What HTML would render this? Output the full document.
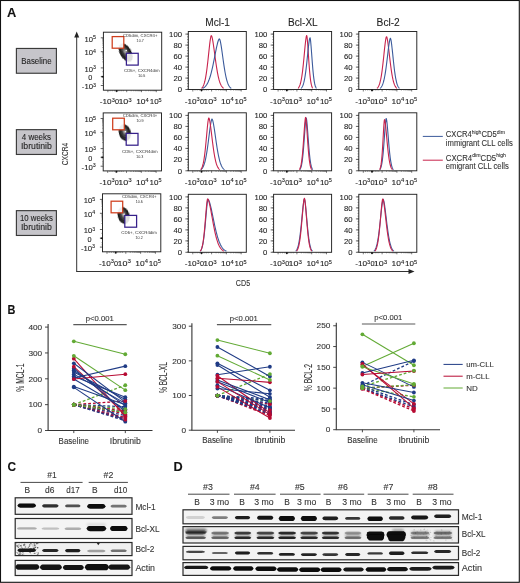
<!DOCTYPE html>
<html><head><meta charset="utf-8"><title>Figure</title>
<style>
html,body{margin:0;padding:0;background:#fff;}
body{width:520px;height:583px;overflow:hidden;}
svg{display:block;font-family:"Liberation Sans", sans-serif;filter:blur(0.3px);}
text{stroke:#333;stroke-width:0.1px;paint-order:stroke;}
</style></head><body>
<svg width="520" height="583" viewBox="0 0 520 583">
<rect x="0" y="0" width="520" height="583" fill="#fff"/>
<text x="7.00" y="16.70" font-size="12" text-anchor="start" fill="#111" font-weight="bold" textLength="9.3" lengthAdjust="spacingAndGlyphs" >A</text>
<rect x="16.4" y="48.45" width="40.0" height="24.8" fill="#c6c5ca" stroke="#3a3a3a" stroke-width="1.15"/>
<text x="36.40" y="63.50" font-size="8.2" text-anchor="middle" fill="#222" textLength="30.3" lengthAdjust="spacingAndGlyphs" >Baseline</text>
<rect x="16.4" y="129.65" width="40.0" height="24.8" fill="#c6c5ca" stroke="#3a3a3a" stroke-width="1.15"/>
<text x="36.40" y="139.50" font-size="8.2" text-anchor="middle" fill="#222" textLength="29.3" lengthAdjust="spacingAndGlyphs" >4 weeks</text>
<text x="36.40" y="148.70" font-size="8.2" text-anchor="middle" fill="#222" textLength="31.0" lengthAdjust="spacingAndGlyphs" >Ibrutinib</text>
<rect x="16.4" y="210.65" width="40.0" height="24.8" fill="#c6c5ca" stroke="#3a3a3a" stroke-width="1.15"/>
<text x="36.40" y="220.50" font-size="8.2" text-anchor="middle" fill="#222" textLength="33.0" lengthAdjust="spacingAndGlyphs" >10 weeks</text>
<text x="36.40" y="229.70" font-size="8.2" text-anchor="middle" fill="#222" textLength="31.0" lengthAdjust="spacingAndGlyphs" >Ibrutinib</text>
<line x1="76.7" y1="35" x2="76.7" y2="271.5" stroke="#333" stroke-width="1"/>
<path d="M76.7 31.5 L74.2 37.5 L79.2 37.5 Z" fill="#222"/>
<line x1="76.2" y1="271.5" x2="410" y2="271.5" stroke="#333" stroke-width="1"/>
<path d="M414.5 271.5 L408.5 269 L408.5 274 Z" fill="#222"/>
<text x="0" y="0" font-size="9.4" fill="#333" text-anchor="middle" transform="translate(67.9 154.0) rotate(-90)" textLength="22.3" lengthAdjust="spacingAndGlyphs">CXCR4</text>
<text x="243.00" y="286.00" font-size="9.6" text-anchor="middle" fill="#333" textLength="14.3" lengthAdjust="spacingAndGlyphs" >CD5</text>
<text x="217.60" y="26.00" font-size="10.0" text-anchor="middle" fill="#222" textLength="24.6" lengthAdjust="spacingAndGlyphs" >Mcl-1</text>
<text x="302.90" y="26.00" font-size="10.0" text-anchor="middle" fill="#222" textLength="29.6" lengthAdjust="spacingAndGlyphs" >Bcl-XL</text>
<text x="388.20" y="26.00" font-size="10.0" text-anchor="middle" fill="#222" textLength="23.2" lengthAdjust="spacingAndGlyphs" >Bcl-2</text>
<rect x="188.30" y="31.50" width="58.0" height="58.0" fill="#fff" stroke="#222" stroke-width="0.95"/>
<text x="182.00" y="36.80" font-size="7.5" text-anchor="end" fill="#222" textLength="12.899999999999999" lengthAdjust="spacingAndGlyphs" >100</text>
<line x1="185.40" y1="34.10" x2="188.30" y2="34.10" stroke="#222" stroke-width="0.7"/>
<text x="182.00" y="47.80" font-size="7.5" text-anchor="end" fill="#222" textLength="8.6" lengthAdjust="spacingAndGlyphs" >80</text>
<line x1="185.40" y1="45.10" x2="188.30" y2="45.10" stroke="#222" stroke-width="0.7"/>
<text x="182.00" y="58.80" font-size="7.5" text-anchor="end" fill="#222" textLength="8.6" lengthAdjust="spacingAndGlyphs" >60</text>
<line x1="185.40" y1="56.10" x2="188.30" y2="56.10" stroke="#222" stroke-width="0.7"/>
<text x="182.00" y="69.80" font-size="7.5" text-anchor="end" fill="#222" textLength="8.6" lengthAdjust="spacingAndGlyphs" >40</text>
<line x1="185.40" y1="67.10" x2="188.30" y2="67.10" stroke="#222" stroke-width="0.7"/>
<text x="182.00" y="80.80" font-size="7.5" text-anchor="end" fill="#222" textLength="8.6" lengthAdjust="spacingAndGlyphs" >20</text>
<line x1="185.40" y1="78.10" x2="188.30" y2="78.10" stroke="#222" stroke-width="0.7"/>
<text x="182.00" y="92.20" font-size="7.5" text-anchor="end" fill="#222" textLength="4.3" lengthAdjust="spacingAndGlyphs" >0</text>
<line x1="185.40" y1="89.50" x2="188.30" y2="89.50" stroke="#222" stroke-width="0.7"/>
<line x1="187.00" y1="34.10" x2="188.30" y2="34.10" stroke="#333" stroke-width="0.5"/>
<line x1="187.00" y1="36.85" x2="188.30" y2="36.85" stroke="#333" stroke-width="0.5"/>
<line x1="187.00" y1="39.60" x2="188.30" y2="39.60" stroke="#333" stroke-width="0.5"/>
<line x1="187.00" y1="42.35" x2="188.30" y2="42.35" stroke="#333" stroke-width="0.5"/>
<line x1="187.00" y1="45.10" x2="188.30" y2="45.10" stroke="#333" stroke-width="0.5"/>
<line x1="187.00" y1="47.85" x2="188.30" y2="47.85" stroke="#333" stroke-width="0.5"/>
<line x1="187.00" y1="50.60" x2="188.30" y2="50.60" stroke="#333" stroke-width="0.5"/>
<line x1="187.00" y1="53.35" x2="188.30" y2="53.35" stroke="#333" stroke-width="0.5"/>
<line x1="187.00" y1="56.10" x2="188.30" y2="56.10" stroke="#333" stroke-width="0.5"/>
<line x1="187.00" y1="58.85" x2="188.30" y2="58.85" stroke="#333" stroke-width="0.5"/>
<line x1="187.00" y1="61.60" x2="188.30" y2="61.60" stroke="#333" stroke-width="0.5"/>
<line x1="187.00" y1="64.35" x2="188.30" y2="64.35" stroke="#333" stroke-width="0.5"/>
<line x1="187.00" y1="67.10" x2="188.30" y2="67.10" stroke="#333" stroke-width="0.5"/>
<line x1="187.00" y1="69.85" x2="188.30" y2="69.85" stroke="#333" stroke-width="0.5"/>
<line x1="187.00" y1="72.60" x2="188.30" y2="72.60" stroke="#333" stroke-width="0.5"/>
<line x1="187.00" y1="75.35" x2="188.30" y2="75.35" stroke="#333" stroke-width="0.5"/>
<line x1="187.00" y1="78.10" x2="188.30" y2="78.10" stroke="#333" stroke-width="0.5"/>
<line x1="187.00" y1="80.85" x2="188.30" y2="80.85" stroke="#333" stroke-width="0.5"/>
<line x1="187.00" y1="83.60" x2="188.30" y2="83.60" stroke="#333" stroke-width="0.5"/>
<line x1="187.00" y1="86.35" x2="188.30" y2="86.35" stroke="#333" stroke-width="0.5"/>
<line x1="187.00" y1="89.10" x2="188.30" y2="89.10" stroke="#333" stroke-width="0.5"/>
<line x1="192.80" y1="89.50" x2="192.80" y2="91.50" stroke="#222" stroke-width="0.6"/>
<line x1="201.50" y1="89.50" x2="201.50" y2="91.50" stroke="#222" stroke-width="0.6"/>
<line x1="211.60" y1="89.50" x2="211.60" y2="91.50" stroke="#222" stroke-width="0.6"/>
<line x1="226.40" y1="89.50" x2="226.40" y2="91.50" stroke="#222" stroke-width="0.6"/>
<line x1="241.20" y1="89.50" x2="241.20" y2="91.50" stroke="#222" stroke-width="0.6"/>
<line x1="216.06" y1="89.50" x2="216.06" y2="90.60" stroke="#333" stroke-width="0.45"/>
<line x1="230.86" y1="89.50" x2="230.86" y2="90.60" stroke="#333" stroke-width="0.45"/>
<line x1="218.66" y1="89.50" x2="218.66" y2="90.60" stroke="#333" stroke-width="0.45"/>
<line x1="233.46" y1="89.50" x2="233.46" y2="90.60" stroke="#333" stroke-width="0.45"/>
<line x1="220.51" y1="89.50" x2="220.51" y2="90.60" stroke="#333" stroke-width="0.45"/>
<line x1="235.31" y1="89.50" x2="235.31" y2="90.60" stroke="#333" stroke-width="0.45"/>
<line x1="221.94" y1="89.50" x2="221.94" y2="90.60" stroke="#333" stroke-width="0.45"/>
<line x1="236.74" y1="89.50" x2="236.74" y2="90.60" stroke="#333" stroke-width="0.45"/>
<line x1="223.12" y1="89.50" x2="223.12" y2="90.60" stroke="#333" stroke-width="0.45"/>
<line x1="237.92" y1="89.50" x2="237.92" y2="90.60" stroke="#333" stroke-width="0.45"/>
<line x1="224.11" y1="89.50" x2="224.11" y2="90.60" stroke="#333" stroke-width="0.45"/>
<line x1="238.91" y1="89.50" x2="238.91" y2="90.60" stroke="#333" stroke-width="0.45"/>
<line x1="224.97" y1="89.50" x2="224.97" y2="90.60" stroke="#333" stroke-width="0.45"/>
<line x1="239.77" y1="89.50" x2="239.77" y2="90.60" stroke="#333" stroke-width="0.45"/>
<line x1="225.72" y1="89.50" x2="225.72" y2="90.60" stroke="#333" stroke-width="0.45"/>
<line x1="240.52" y1="89.50" x2="240.52" y2="90.60" stroke="#333" stroke-width="0.45"/>
<line x1="195.00" y1="89.50" x2="195.00" y2="90.60" stroke="#333" stroke-width="0.45"/>
<line x1="197.20" y1="89.50" x2="197.20" y2="90.60" stroke="#333" stroke-width="0.45"/>
<line x1="199.40" y1="89.50" x2="199.40" y2="90.60" stroke="#333" stroke-width="0.45"/>
<line x1="203.10" y1="89.50" x2="203.10" y2="90.60" stroke="#333" stroke-width="0.45"/>
<line x1="204.80" y1="89.50" x2="204.80" y2="90.60" stroke="#333" stroke-width="0.45"/>
<line x1="206.50" y1="89.50" x2="206.50" y2="90.60" stroke="#333" stroke-width="0.45"/>
<line x1="208.30" y1="89.50" x2="208.30" y2="90.60" stroke="#333" stroke-width="0.45"/>
<rect x="200.60" y="89.50" width="1.8" height="1.6" fill="#111"/>
<text x="184.70" y="103.60" font-size="7.3" fill="#222" textLength="15.0" lengthAdjust="spacingAndGlyphs">-10<tspan font-size="5.0" dy="-2.6">3</tspan></text>
<text x="199.90" y="103.60" font-size="7.3" fill="#222">0</text>
<text x="203.30" y="103.60" font-size="7.3" fill="#222" textLength="13.4" lengthAdjust="spacingAndGlyphs">10<tspan font-size="5.0" dy="-2.6">3</tspan></text>
<text x="221.10" y="103.60" font-size="7.3" fill="#222" textLength="12.6" lengthAdjust="spacingAndGlyphs">10<tspan font-size="5.0" dy="-2.6">4</tspan></text>
<text x="234.60" y="103.60" font-size="7.3" fill="#222" textLength="12.0" lengthAdjust="spacingAndGlyphs">10<tspan font-size="5.0" dy="-2.6">5</tspan></text>
<path d="M201.50 88.30 L201.87 87.97 L202.24 87.57 L202.61 87.07 L202.98 86.47 L203.35 85.75 L203.72 84.88 L204.09 83.86 L204.46 82.65 L204.83 81.25 L205.20 79.63 L205.57 77.79 L205.94 75.70 L206.31 73.37 L206.68 70.79 L207.05 67.97 L207.42 64.94 L207.79 61.71 L208.16 58.34 L208.53 54.87 L208.90 51.38 L209.27 47.94 L209.64 44.67 L210.01 41.66 L210.38 39.06 L210.75 37.02 L211.12 35.73 L211.49 35.67 L211.86 36.55 L212.23 37.96 L212.60 39.77 L212.97 41.89 L213.34 44.26 L213.71 46.81 L214.08 49.48 L214.45 52.22 L214.82 54.98 L215.19 57.73 L215.56 60.42 L215.93 63.03 L216.30 65.54 L216.67 67.93 L217.04 70.17 L217.41 72.28 L217.78 74.22 L218.15 76.02 L218.52 77.66 L218.89 79.15 L219.26 80.50 L219.63 81.70 L220.00 82.78 L220.37 83.73 L220.74 84.57 L221.11 85.31 L221.48 85.95 L221.85 86.50 L222.22 86.98 L222.59 87.40 L222.96 87.75 L223.33 88.05 L223.70 88.30" fill="none" stroke="#c8234c" stroke-width="1.1" stroke-linejoin="round"/>
<path d="M202.50 88.37 L202.98 88.15 L203.46 87.88 L203.94 87.58 L204.42 87.22 L204.90 86.80 L205.38 86.32 L205.86 85.78 L206.34 85.15 L206.82 84.44 L207.30 83.63 L207.78 82.73 L208.26 81.72 L208.74 80.59 L209.22 79.34 L209.70 77.97 L210.18 76.47 L210.66 74.84 L211.14 73.07 L211.62 71.18 L212.10 69.17 L212.58 67.03 L213.06 64.80 L213.54 62.47 L214.02 60.07 L214.50 57.62 L214.98 55.15 L215.46 52.70 L215.94 50.29 L216.42 47.96 L216.90 45.77 L217.38 43.76 L217.86 41.99 L218.34 40.52 L218.82 39.43 L219.30 38.84 L219.78 39.36 L220.26 40.98 L220.74 43.31 L221.22 46.15 L221.70 49.34 L222.18 52.74 L222.66 56.23 L223.14 59.72 L223.62 63.12 L224.10 66.37 L224.58 69.41 L225.06 72.22 L225.54 74.77 L226.02 77.05 L226.50 79.08 L226.98 80.85 L227.46 82.38 L227.94 83.68 L228.42 84.79 L228.90 85.72 L229.38 86.48 L229.86 87.11 L230.34 87.63 L230.82 88.04 L231.30 88.37" fill="none" stroke="#3b5a9b" stroke-width="1.1" stroke-linejoin="round"/>
<rect x="273.60" y="31.50" width="58.0" height="58.0" fill="#fff" stroke="#222" stroke-width="0.95"/>
<text x="267.30" y="36.80" font-size="7.5" text-anchor="end" fill="#222" textLength="12.899999999999999" lengthAdjust="spacingAndGlyphs" >100</text>
<line x1="270.70" y1="34.10" x2="273.60" y2="34.10" stroke="#222" stroke-width="0.7"/>
<text x="267.30" y="47.80" font-size="7.5" text-anchor="end" fill="#222" textLength="8.6" lengthAdjust="spacingAndGlyphs" >80</text>
<line x1="270.70" y1="45.10" x2="273.60" y2="45.10" stroke="#222" stroke-width="0.7"/>
<text x="267.30" y="58.80" font-size="7.5" text-anchor="end" fill="#222" textLength="8.6" lengthAdjust="spacingAndGlyphs" >60</text>
<line x1="270.70" y1="56.10" x2="273.60" y2="56.10" stroke="#222" stroke-width="0.7"/>
<text x="267.30" y="69.80" font-size="7.5" text-anchor="end" fill="#222" textLength="8.6" lengthAdjust="spacingAndGlyphs" >40</text>
<line x1="270.70" y1="67.10" x2="273.60" y2="67.10" stroke="#222" stroke-width="0.7"/>
<text x="267.30" y="80.80" font-size="7.5" text-anchor="end" fill="#222" textLength="8.6" lengthAdjust="spacingAndGlyphs" >20</text>
<line x1="270.70" y1="78.10" x2="273.60" y2="78.10" stroke="#222" stroke-width="0.7"/>
<text x="267.30" y="92.20" font-size="7.5" text-anchor="end" fill="#222" textLength="4.3" lengthAdjust="spacingAndGlyphs" >0</text>
<line x1="270.70" y1="89.50" x2="273.60" y2="89.50" stroke="#222" stroke-width="0.7"/>
<line x1="272.30" y1="34.10" x2="273.60" y2="34.10" stroke="#333" stroke-width="0.5"/>
<line x1="272.30" y1="36.85" x2="273.60" y2="36.85" stroke="#333" stroke-width="0.5"/>
<line x1="272.30" y1="39.60" x2="273.60" y2="39.60" stroke="#333" stroke-width="0.5"/>
<line x1="272.30" y1="42.35" x2="273.60" y2="42.35" stroke="#333" stroke-width="0.5"/>
<line x1="272.30" y1="45.10" x2="273.60" y2="45.10" stroke="#333" stroke-width="0.5"/>
<line x1="272.30" y1="47.85" x2="273.60" y2="47.85" stroke="#333" stroke-width="0.5"/>
<line x1="272.30" y1="50.60" x2="273.60" y2="50.60" stroke="#333" stroke-width="0.5"/>
<line x1="272.30" y1="53.35" x2="273.60" y2="53.35" stroke="#333" stroke-width="0.5"/>
<line x1="272.30" y1="56.10" x2="273.60" y2="56.10" stroke="#333" stroke-width="0.5"/>
<line x1="272.30" y1="58.85" x2="273.60" y2="58.85" stroke="#333" stroke-width="0.5"/>
<line x1="272.30" y1="61.60" x2="273.60" y2="61.60" stroke="#333" stroke-width="0.5"/>
<line x1="272.30" y1="64.35" x2="273.60" y2="64.35" stroke="#333" stroke-width="0.5"/>
<line x1="272.30" y1="67.10" x2="273.60" y2="67.10" stroke="#333" stroke-width="0.5"/>
<line x1="272.30" y1="69.85" x2="273.60" y2="69.85" stroke="#333" stroke-width="0.5"/>
<line x1="272.30" y1="72.60" x2="273.60" y2="72.60" stroke="#333" stroke-width="0.5"/>
<line x1="272.30" y1="75.35" x2="273.60" y2="75.35" stroke="#333" stroke-width="0.5"/>
<line x1="272.30" y1="78.10" x2="273.60" y2="78.10" stroke="#333" stroke-width="0.5"/>
<line x1="272.30" y1="80.85" x2="273.60" y2="80.85" stroke="#333" stroke-width="0.5"/>
<line x1="272.30" y1="83.60" x2="273.60" y2="83.60" stroke="#333" stroke-width="0.5"/>
<line x1="272.30" y1="86.35" x2="273.60" y2="86.35" stroke="#333" stroke-width="0.5"/>
<line x1="272.30" y1="89.10" x2="273.60" y2="89.10" stroke="#333" stroke-width="0.5"/>
<line x1="278.10" y1="89.50" x2="278.10" y2="91.50" stroke="#222" stroke-width="0.6"/>
<line x1="286.80" y1="89.50" x2="286.80" y2="91.50" stroke="#222" stroke-width="0.6"/>
<line x1="296.90" y1="89.50" x2="296.90" y2="91.50" stroke="#222" stroke-width="0.6"/>
<line x1="311.70" y1="89.50" x2="311.70" y2="91.50" stroke="#222" stroke-width="0.6"/>
<line x1="326.50" y1="89.50" x2="326.50" y2="91.50" stroke="#222" stroke-width="0.6"/>
<line x1="301.36" y1="89.50" x2="301.36" y2="90.60" stroke="#333" stroke-width="0.45"/>
<line x1="316.16" y1="89.50" x2="316.16" y2="90.60" stroke="#333" stroke-width="0.45"/>
<line x1="303.96" y1="89.50" x2="303.96" y2="90.60" stroke="#333" stroke-width="0.45"/>
<line x1="318.76" y1="89.50" x2="318.76" y2="90.60" stroke="#333" stroke-width="0.45"/>
<line x1="305.81" y1="89.50" x2="305.81" y2="90.60" stroke="#333" stroke-width="0.45"/>
<line x1="320.61" y1="89.50" x2="320.61" y2="90.60" stroke="#333" stroke-width="0.45"/>
<line x1="307.24" y1="89.50" x2="307.24" y2="90.60" stroke="#333" stroke-width="0.45"/>
<line x1="322.04" y1="89.50" x2="322.04" y2="90.60" stroke="#333" stroke-width="0.45"/>
<line x1="308.42" y1="89.50" x2="308.42" y2="90.60" stroke="#333" stroke-width="0.45"/>
<line x1="323.22" y1="89.50" x2="323.22" y2="90.60" stroke="#333" stroke-width="0.45"/>
<line x1="309.41" y1="89.50" x2="309.41" y2="90.60" stroke="#333" stroke-width="0.45"/>
<line x1="324.21" y1="89.50" x2="324.21" y2="90.60" stroke="#333" stroke-width="0.45"/>
<line x1="310.27" y1="89.50" x2="310.27" y2="90.60" stroke="#333" stroke-width="0.45"/>
<line x1="325.07" y1="89.50" x2="325.07" y2="90.60" stroke="#333" stroke-width="0.45"/>
<line x1="311.02" y1="89.50" x2="311.02" y2="90.60" stroke="#333" stroke-width="0.45"/>
<line x1="325.82" y1="89.50" x2="325.82" y2="90.60" stroke="#333" stroke-width="0.45"/>
<line x1="280.30" y1="89.50" x2="280.30" y2="90.60" stroke="#333" stroke-width="0.45"/>
<line x1="282.50" y1="89.50" x2="282.50" y2="90.60" stroke="#333" stroke-width="0.45"/>
<line x1="284.70" y1="89.50" x2="284.70" y2="90.60" stroke="#333" stroke-width="0.45"/>
<line x1="288.40" y1="89.50" x2="288.40" y2="90.60" stroke="#333" stroke-width="0.45"/>
<line x1="290.10" y1="89.50" x2="290.10" y2="90.60" stroke="#333" stroke-width="0.45"/>
<line x1="291.80" y1="89.50" x2="291.80" y2="90.60" stroke="#333" stroke-width="0.45"/>
<line x1="293.60" y1="89.50" x2="293.60" y2="90.60" stroke="#333" stroke-width="0.45"/>
<rect x="285.90" y="89.50" width="1.8" height="1.6" fill="#111"/>
<text x="270.00" y="103.60" font-size="7.3" fill="#222" textLength="15.0" lengthAdjust="spacingAndGlyphs">-10<tspan font-size="5.0" dy="-2.6">3</tspan></text>
<text x="285.20" y="103.60" font-size="7.3" fill="#222">0</text>
<text x="288.60" y="103.60" font-size="7.3" fill="#222" textLength="13.4" lengthAdjust="spacingAndGlyphs">10<tspan font-size="5.0" dy="-2.6">3</tspan></text>
<text x="306.40" y="103.60" font-size="7.3" fill="#222" textLength="12.6" lengthAdjust="spacingAndGlyphs">10<tspan font-size="5.0" dy="-2.6">4</tspan></text>
<text x="319.90" y="103.60" font-size="7.3" fill="#222" textLength="12.0" lengthAdjust="spacingAndGlyphs">10<tspan font-size="5.0" dy="-2.6">5</tspan></text>
<path d="M298.00 88.30 L298.25 88.06 L298.49 87.78 L298.74 87.45 L298.99 87.07 L299.23 86.63 L299.48 86.12 L299.73 85.54 L299.97 84.88 L300.22 84.12 L300.47 83.27 L300.71 82.31 L300.96 81.23 L301.21 80.04 L301.45 78.72 L301.70 77.26 L301.95 75.67 L302.19 73.94 L302.44 72.06 L302.69 70.06 L302.93 67.92 L303.18 65.65 L303.43 63.28 L303.67 60.81 L303.92 58.26 L304.17 55.66 L304.41 53.03 L304.66 50.42 L304.91 47.85 L305.15 45.38 L305.40 43.04 L305.65 40.89 L305.89 38.99 L306.14 37.41 L306.39 36.22 L306.63 35.55 L306.88 36.01 L307.13 37.69 L307.37 40.14 L307.62 43.15 L307.87 46.54 L308.11 50.16 L308.36 53.89 L308.61 57.62 L308.85 61.26 L309.10 64.73 L309.35 67.99 L309.59 71.00 L309.84 73.73 L310.09 76.18 L310.33 78.35 L310.58 80.24 L310.83 81.88 L311.07 83.28 L311.32 84.47 L311.57 85.46 L311.81 86.28 L312.06 86.95 L312.31 87.50 L312.55 87.95 L312.80 88.30" fill="none" stroke="#c8234c" stroke-width="1.1" stroke-linejoin="round"/>
<path d="M301.00 88.35 L301.26 88.12 L301.52 87.84 L301.77 87.52 L302.03 87.15 L302.29 86.72 L302.55 86.22 L302.81 85.65 L303.07 85.00 L303.32 84.25 L303.58 83.41 L303.84 82.47 L304.10 81.41 L304.36 80.23 L304.62 78.92 L304.88 77.49 L305.13 75.91 L305.39 74.20 L305.65 72.36 L305.91 70.38 L306.17 68.27 L306.43 66.04 L306.68 63.71 L306.94 61.29 L307.20 58.80 L307.46 56.26 L307.72 53.71 L307.98 51.18 L308.23 48.72 L308.49 46.35 L308.75 44.14 L309.01 42.14 L309.27 40.41 L309.52 39.02 L309.78 38.05 L310.04 37.74 L310.30 38.75 L310.56 40.66 L310.82 43.19 L311.07 46.18 L311.33 49.47 L311.59 52.93 L311.85 56.46 L312.11 59.95 L312.37 63.34 L312.62 66.57 L312.88 69.58 L313.14 72.36 L313.40 74.88 L313.66 77.14 L313.92 79.13 L314.18 80.88 L314.43 82.39 L314.69 83.68 L314.95 84.78 L315.21 85.70 L315.47 86.46 L315.73 87.09 L315.98 87.60 L316.24 88.02 L316.50 88.35" fill="none" stroke="#3b5a9b" stroke-width="1.1" stroke-linejoin="round"/>
<rect x="358.80" y="31.50" width="58.0" height="58.0" fill="#fff" stroke="#222" stroke-width="0.95"/>
<text x="352.50" y="36.80" font-size="7.5" text-anchor="end" fill="#222" textLength="12.899999999999999" lengthAdjust="spacingAndGlyphs" >100</text>
<line x1="355.90" y1="34.10" x2="358.80" y2="34.10" stroke="#222" stroke-width="0.7"/>
<text x="352.50" y="47.80" font-size="7.5" text-anchor="end" fill="#222" textLength="8.6" lengthAdjust="spacingAndGlyphs" >80</text>
<line x1="355.90" y1="45.10" x2="358.80" y2="45.10" stroke="#222" stroke-width="0.7"/>
<text x="352.50" y="58.80" font-size="7.5" text-anchor="end" fill="#222" textLength="8.6" lengthAdjust="spacingAndGlyphs" >60</text>
<line x1="355.90" y1="56.10" x2="358.80" y2="56.10" stroke="#222" stroke-width="0.7"/>
<text x="352.50" y="69.80" font-size="7.5" text-anchor="end" fill="#222" textLength="8.6" lengthAdjust="spacingAndGlyphs" >40</text>
<line x1="355.90" y1="67.10" x2="358.80" y2="67.10" stroke="#222" stroke-width="0.7"/>
<text x="352.50" y="80.80" font-size="7.5" text-anchor="end" fill="#222" textLength="8.6" lengthAdjust="spacingAndGlyphs" >20</text>
<line x1="355.90" y1="78.10" x2="358.80" y2="78.10" stroke="#222" stroke-width="0.7"/>
<text x="352.50" y="92.20" font-size="7.5" text-anchor="end" fill="#222" textLength="4.3" lengthAdjust="spacingAndGlyphs" >0</text>
<line x1="355.90" y1="89.50" x2="358.80" y2="89.50" stroke="#222" stroke-width="0.7"/>
<line x1="357.50" y1="34.10" x2="358.80" y2="34.10" stroke="#333" stroke-width="0.5"/>
<line x1="357.50" y1="36.85" x2="358.80" y2="36.85" stroke="#333" stroke-width="0.5"/>
<line x1="357.50" y1="39.60" x2="358.80" y2="39.60" stroke="#333" stroke-width="0.5"/>
<line x1="357.50" y1="42.35" x2="358.80" y2="42.35" stroke="#333" stroke-width="0.5"/>
<line x1="357.50" y1="45.10" x2="358.80" y2="45.10" stroke="#333" stroke-width="0.5"/>
<line x1="357.50" y1="47.85" x2="358.80" y2="47.85" stroke="#333" stroke-width="0.5"/>
<line x1="357.50" y1="50.60" x2="358.80" y2="50.60" stroke="#333" stroke-width="0.5"/>
<line x1="357.50" y1="53.35" x2="358.80" y2="53.35" stroke="#333" stroke-width="0.5"/>
<line x1="357.50" y1="56.10" x2="358.80" y2="56.10" stroke="#333" stroke-width="0.5"/>
<line x1="357.50" y1="58.85" x2="358.80" y2="58.85" stroke="#333" stroke-width="0.5"/>
<line x1="357.50" y1="61.60" x2="358.80" y2="61.60" stroke="#333" stroke-width="0.5"/>
<line x1="357.50" y1="64.35" x2="358.80" y2="64.35" stroke="#333" stroke-width="0.5"/>
<line x1="357.50" y1="67.10" x2="358.80" y2="67.10" stroke="#333" stroke-width="0.5"/>
<line x1="357.50" y1="69.85" x2="358.80" y2="69.85" stroke="#333" stroke-width="0.5"/>
<line x1="357.50" y1="72.60" x2="358.80" y2="72.60" stroke="#333" stroke-width="0.5"/>
<line x1="357.50" y1="75.35" x2="358.80" y2="75.35" stroke="#333" stroke-width="0.5"/>
<line x1="357.50" y1="78.10" x2="358.80" y2="78.10" stroke="#333" stroke-width="0.5"/>
<line x1="357.50" y1="80.85" x2="358.80" y2="80.85" stroke="#333" stroke-width="0.5"/>
<line x1="357.50" y1="83.60" x2="358.80" y2="83.60" stroke="#333" stroke-width="0.5"/>
<line x1="357.50" y1="86.35" x2="358.80" y2="86.35" stroke="#333" stroke-width="0.5"/>
<line x1="357.50" y1="89.10" x2="358.80" y2="89.10" stroke="#333" stroke-width="0.5"/>
<line x1="363.30" y1="89.50" x2="363.30" y2="91.50" stroke="#222" stroke-width="0.6"/>
<line x1="372.00" y1="89.50" x2="372.00" y2="91.50" stroke="#222" stroke-width="0.6"/>
<line x1="382.10" y1="89.50" x2="382.10" y2="91.50" stroke="#222" stroke-width="0.6"/>
<line x1="396.90" y1="89.50" x2="396.90" y2="91.50" stroke="#222" stroke-width="0.6"/>
<line x1="411.70" y1="89.50" x2="411.70" y2="91.50" stroke="#222" stroke-width="0.6"/>
<line x1="386.56" y1="89.50" x2="386.56" y2="90.60" stroke="#333" stroke-width="0.45"/>
<line x1="401.36" y1="89.50" x2="401.36" y2="90.60" stroke="#333" stroke-width="0.45"/>
<line x1="389.16" y1="89.50" x2="389.16" y2="90.60" stroke="#333" stroke-width="0.45"/>
<line x1="403.96" y1="89.50" x2="403.96" y2="90.60" stroke="#333" stroke-width="0.45"/>
<line x1="391.01" y1="89.50" x2="391.01" y2="90.60" stroke="#333" stroke-width="0.45"/>
<line x1="405.81" y1="89.50" x2="405.81" y2="90.60" stroke="#333" stroke-width="0.45"/>
<line x1="392.44" y1="89.50" x2="392.44" y2="90.60" stroke="#333" stroke-width="0.45"/>
<line x1="407.24" y1="89.50" x2="407.24" y2="90.60" stroke="#333" stroke-width="0.45"/>
<line x1="393.62" y1="89.50" x2="393.62" y2="90.60" stroke="#333" stroke-width="0.45"/>
<line x1="408.42" y1="89.50" x2="408.42" y2="90.60" stroke="#333" stroke-width="0.45"/>
<line x1="394.61" y1="89.50" x2="394.61" y2="90.60" stroke="#333" stroke-width="0.45"/>
<line x1="409.41" y1="89.50" x2="409.41" y2="90.60" stroke="#333" stroke-width="0.45"/>
<line x1="395.47" y1="89.50" x2="395.47" y2="90.60" stroke="#333" stroke-width="0.45"/>
<line x1="410.27" y1="89.50" x2="410.27" y2="90.60" stroke="#333" stroke-width="0.45"/>
<line x1="396.22" y1="89.50" x2="396.22" y2="90.60" stroke="#333" stroke-width="0.45"/>
<line x1="411.02" y1="89.50" x2="411.02" y2="90.60" stroke="#333" stroke-width="0.45"/>
<line x1="365.50" y1="89.50" x2="365.50" y2="90.60" stroke="#333" stroke-width="0.45"/>
<line x1="367.70" y1="89.50" x2="367.70" y2="90.60" stroke="#333" stroke-width="0.45"/>
<line x1="369.90" y1="89.50" x2="369.90" y2="90.60" stroke="#333" stroke-width="0.45"/>
<line x1="373.60" y1="89.50" x2="373.60" y2="90.60" stroke="#333" stroke-width="0.45"/>
<line x1="375.30" y1="89.50" x2="375.30" y2="90.60" stroke="#333" stroke-width="0.45"/>
<line x1="377.00" y1="89.50" x2="377.00" y2="90.60" stroke="#333" stroke-width="0.45"/>
<line x1="378.80" y1="89.50" x2="378.80" y2="90.60" stroke="#333" stroke-width="0.45"/>
<rect x="371.10" y="89.50" width="1.8" height="1.6" fill="#111"/>
<text x="355.20" y="103.60" font-size="7.3" fill="#222" textLength="15.0" lengthAdjust="spacingAndGlyphs">-10<tspan font-size="5.0" dy="-2.6">3</tspan></text>
<text x="370.40" y="103.60" font-size="7.3" fill="#222">0</text>
<text x="373.80" y="103.60" font-size="7.3" fill="#222" textLength="13.4" lengthAdjust="spacingAndGlyphs">10<tspan font-size="5.0" dy="-2.6">3</tspan></text>
<text x="391.60" y="103.60" font-size="7.3" fill="#222" textLength="12.6" lengthAdjust="spacingAndGlyphs">10<tspan font-size="5.0" dy="-2.6">4</tspan></text>
<text x="405.10" y="103.60" font-size="7.3" fill="#222" textLength="12.0" lengthAdjust="spacingAndGlyphs">10<tspan font-size="5.0" dy="-2.6">5</tspan></text>
<path d="M377.00 88.32 L377.33 88.03 L377.67 87.67 L378.00 87.23 L378.33 86.71 L378.67 86.09 L379.00 85.35 L379.33 84.49 L379.67 83.48 L380.00 82.32 L380.33 80.98 L380.67 79.45 L381.00 77.73 L381.33 75.81 L381.67 73.67 L382.00 71.33 L382.33 68.78 L382.67 66.05 L383.00 63.15 L383.33 60.12 L383.67 56.99 L384.00 53.81 L384.33 50.64 L384.67 47.56 L385.00 44.65 L385.33 42.00 L385.67 39.72 L386.00 37.94 L386.33 36.81 L386.67 36.78 L387.00 37.73 L387.33 39.25 L387.67 41.20 L388.00 43.48 L388.33 46.01 L388.67 48.72 L389.00 51.54 L389.33 54.41 L389.67 57.29 L390.00 60.12 L390.33 62.87 L390.67 65.51 L391.00 68.02 L391.33 70.38 L391.67 72.58 L392.00 74.61 L392.33 76.47 L392.67 78.16 L393.00 79.68 L393.33 81.04 L393.67 82.26 L394.00 83.33 L394.33 84.26 L394.67 85.08 L395.00 85.79 L395.33 86.40 L395.67 86.92 L396.00 87.37 L396.33 87.74 L396.67 88.06 L397.00 88.32" fill="none" stroke="#c8234c" stroke-width="1.1" stroke-linejoin="round"/>
<path d="M380.00 88.36 L380.32 88.11 L380.65 87.81 L380.98 87.45 L381.30 87.03 L381.62 86.54 L381.95 85.97 L382.27 85.30 L382.60 84.53 L382.93 83.65 L383.25 82.65 L383.57 81.52 L383.90 80.25 L384.23 78.83 L384.55 77.25 L384.88 75.51 L385.20 73.62 L385.52 71.56 L385.85 69.35 L386.18 67.00 L386.50 64.51 L386.82 61.92 L387.15 59.24 L387.48 56.51 L387.80 53.77 L388.12 51.05 L388.45 48.42 L388.77 45.93 L389.10 43.64 L389.43 41.63 L389.75 39.98 L390.07 38.79 L390.40 38.26 L390.73 38.93 L391.05 40.41 L391.38 42.45 L391.70 44.92 L392.02 47.69 L392.35 50.67 L392.68 53.77 L393.00 56.90 L393.32 60.01 L393.65 63.04 L393.98 65.95 L394.30 68.69 L394.62 71.26 L394.95 73.62 L395.27 75.77 L395.60 77.72 L395.93 79.45 L396.25 80.99 L396.57 82.34 L396.90 83.52 L397.23 84.53 L397.55 85.40 L397.88 86.14 L398.20 86.76 L398.52 87.28 L398.85 87.71 L399.18 88.07 L399.50 88.36" fill="none" stroke="#3b5a9b" stroke-width="1.1" stroke-linejoin="round"/>
<rect x="188.30" y="112.80" width="58.0" height="58.0" fill="#fff" stroke="#222" stroke-width="0.95"/>
<text x="182.00" y="118.10" font-size="7.5" text-anchor="end" fill="#222" textLength="12.899999999999999" lengthAdjust="spacingAndGlyphs" >100</text>
<line x1="185.40" y1="115.40" x2="188.30" y2="115.40" stroke="#222" stroke-width="0.7"/>
<text x="182.00" y="129.10" font-size="7.5" text-anchor="end" fill="#222" textLength="8.6" lengthAdjust="spacingAndGlyphs" >80</text>
<line x1="185.40" y1="126.40" x2="188.30" y2="126.40" stroke="#222" stroke-width="0.7"/>
<text x="182.00" y="140.10" font-size="7.5" text-anchor="end" fill="#222" textLength="8.6" lengthAdjust="spacingAndGlyphs" >60</text>
<line x1="185.40" y1="137.40" x2="188.30" y2="137.40" stroke="#222" stroke-width="0.7"/>
<text x="182.00" y="151.10" font-size="7.5" text-anchor="end" fill="#222" textLength="8.6" lengthAdjust="spacingAndGlyphs" >40</text>
<line x1="185.40" y1="148.40" x2="188.30" y2="148.40" stroke="#222" stroke-width="0.7"/>
<text x="182.00" y="162.10" font-size="7.5" text-anchor="end" fill="#222" textLength="8.6" lengthAdjust="spacingAndGlyphs" >20</text>
<line x1="185.40" y1="159.40" x2="188.30" y2="159.40" stroke="#222" stroke-width="0.7"/>
<text x="182.00" y="173.50" font-size="7.5" text-anchor="end" fill="#222" textLength="4.3" lengthAdjust="spacingAndGlyphs" >0</text>
<line x1="185.40" y1="170.80" x2="188.30" y2="170.80" stroke="#222" stroke-width="0.7"/>
<line x1="187.00" y1="115.40" x2="188.30" y2="115.40" stroke="#333" stroke-width="0.5"/>
<line x1="187.00" y1="118.15" x2="188.30" y2="118.15" stroke="#333" stroke-width="0.5"/>
<line x1="187.00" y1="120.90" x2="188.30" y2="120.90" stroke="#333" stroke-width="0.5"/>
<line x1="187.00" y1="123.65" x2="188.30" y2="123.65" stroke="#333" stroke-width="0.5"/>
<line x1="187.00" y1="126.40" x2="188.30" y2="126.40" stroke="#333" stroke-width="0.5"/>
<line x1="187.00" y1="129.15" x2="188.30" y2="129.15" stroke="#333" stroke-width="0.5"/>
<line x1="187.00" y1="131.90" x2="188.30" y2="131.90" stroke="#333" stroke-width="0.5"/>
<line x1="187.00" y1="134.65" x2="188.30" y2="134.65" stroke="#333" stroke-width="0.5"/>
<line x1="187.00" y1="137.40" x2="188.30" y2="137.40" stroke="#333" stroke-width="0.5"/>
<line x1="187.00" y1="140.15" x2="188.30" y2="140.15" stroke="#333" stroke-width="0.5"/>
<line x1="187.00" y1="142.90" x2="188.30" y2="142.90" stroke="#333" stroke-width="0.5"/>
<line x1="187.00" y1="145.65" x2="188.30" y2="145.65" stroke="#333" stroke-width="0.5"/>
<line x1="187.00" y1="148.40" x2="188.30" y2="148.40" stroke="#333" stroke-width="0.5"/>
<line x1="187.00" y1="151.15" x2="188.30" y2="151.15" stroke="#333" stroke-width="0.5"/>
<line x1="187.00" y1="153.90" x2="188.30" y2="153.90" stroke="#333" stroke-width="0.5"/>
<line x1="187.00" y1="156.65" x2="188.30" y2="156.65" stroke="#333" stroke-width="0.5"/>
<line x1="187.00" y1="159.40" x2="188.30" y2="159.40" stroke="#333" stroke-width="0.5"/>
<line x1="187.00" y1="162.15" x2="188.30" y2="162.15" stroke="#333" stroke-width="0.5"/>
<line x1="187.00" y1="164.90" x2="188.30" y2="164.90" stroke="#333" stroke-width="0.5"/>
<line x1="187.00" y1="167.65" x2="188.30" y2="167.65" stroke="#333" stroke-width="0.5"/>
<line x1="187.00" y1="170.40" x2="188.30" y2="170.40" stroke="#333" stroke-width="0.5"/>
<line x1="192.80" y1="170.80" x2="192.80" y2="172.80" stroke="#222" stroke-width="0.6"/>
<line x1="201.50" y1="170.80" x2="201.50" y2="172.80" stroke="#222" stroke-width="0.6"/>
<line x1="211.60" y1="170.80" x2="211.60" y2="172.80" stroke="#222" stroke-width="0.6"/>
<line x1="226.40" y1="170.80" x2="226.40" y2="172.80" stroke="#222" stroke-width="0.6"/>
<line x1="241.20" y1="170.80" x2="241.20" y2="172.80" stroke="#222" stroke-width="0.6"/>
<line x1="216.06" y1="170.80" x2="216.06" y2="171.90" stroke="#333" stroke-width="0.45"/>
<line x1="230.86" y1="170.80" x2="230.86" y2="171.90" stroke="#333" stroke-width="0.45"/>
<line x1="218.66" y1="170.80" x2="218.66" y2="171.90" stroke="#333" stroke-width="0.45"/>
<line x1="233.46" y1="170.80" x2="233.46" y2="171.90" stroke="#333" stroke-width="0.45"/>
<line x1="220.51" y1="170.80" x2="220.51" y2="171.90" stroke="#333" stroke-width="0.45"/>
<line x1="235.31" y1="170.80" x2="235.31" y2="171.90" stroke="#333" stroke-width="0.45"/>
<line x1="221.94" y1="170.80" x2="221.94" y2="171.90" stroke="#333" stroke-width="0.45"/>
<line x1="236.74" y1="170.80" x2="236.74" y2="171.90" stroke="#333" stroke-width="0.45"/>
<line x1="223.12" y1="170.80" x2="223.12" y2="171.90" stroke="#333" stroke-width="0.45"/>
<line x1="237.92" y1="170.80" x2="237.92" y2="171.90" stroke="#333" stroke-width="0.45"/>
<line x1="224.11" y1="170.80" x2="224.11" y2="171.90" stroke="#333" stroke-width="0.45"/>
<line x1="238.91" y1="170.80" x2="238.91" y2="171.90" stroke="#333" stroke-width="0.45"/>
<line x1="224.97" y1="170.80" x2="224.97" y2="171.90" stroke="#333" stroke-width="0.45"/>
<line x1="239.77" y1="170.80" x2="239.77" y2="171.90" stroke="#333" stroke-width="0.45"/>
<line x1="225.72" y1="170.80" x2="225.72" y2="171.90" stroke="#333" stroke-width="0.45"/>
<line x1="240.52" y1="170.80" x2="240.52" y2="171.90" stroke="#333" stroke-width="0.45"/>
<line x1="195.00" y1="170.80" x2="195.00" y2="171.90" stroke="#333" stroke-width="0.45"/>
<line x1="197.20" y1="170.80" x2="197.20" y2="171.90" stroke="#333" stroke-width="0.45"/>
<line x1="199.40" y1="170.80" x2="199.40" y2="171.90" stroke="#333" stroke-width="0.45"/>
<line x1="203.10" y1="170.80" x2="203.10" y2="171.90" stroke="#333" stroke-width="0.45"/>
<line x1="204.80" y1="170.80" x2="204.80" y2="171.90" stroke="#333" stroke-width="0.45"/>
<line x1="206.50" y1="170.80" x2="206.50" y2="171.90" stroke="#333" stroke-width="0.45"/>
<line x1="208.30" y1="170.80" x2="208.30" y2="171.90" stroke="#333" stroke-width="0.45"/>
<rect x="200.60" y="170.80" width="1.8" height="1.6" fill="#111"/>
<text x="184.70" y="184.90" font-size="7.3" fill="#222" textLength="15.0" lengthAdjust="spacingAndGlyphs">-10<tspan font-size="5.0" dy="-2.6">3</tspan></text>
<text x="199.90" y="184.90" font-size="7.3" fill="#222">0</text>
<text x="203.30" y="184.90" font-size="7.3" fill="#222" textLength="13.4" lengthAdjust="spacingAndGlyphs">10<tspan font-size="5.0" dy="-2.6">3</tspan></text>
<text x="221.10" y="184.90" font-size="7.3" fill="#222" textLength="12.6" lengthAdjust="spacingAndGlyphs">10<tspan font-size="5.0" dy="-2.6">4</tspan></text>
<text x="234.60" y="184.90" font-size="7.3" fill="#222" textLength="12.0" lengthAdjust="spacingAndGlyphs">10<tspan font-size="5.0" dy="-2.6">5</tspan></text>
<path d="M200.80 169.65 L201.20 169.36 L201.59 169.00 L201.99 168.57 L202.39 168.05 L202.78 167.43 L203.18 166.70 L203.58 165.83 L203.97 164.83 L204.37 163.66 L204.77 162.32 L205.16 160.80 L205.56 159.07 L205.96 157.15 L206.35 155.01 L206.75 152.67 L207.15 150.13 L207.54 147.40 L207.94 144.51 L208.34 141.49 L208.73 138.38 L209.13 135.24 L209.53 132.12 L209.92 129.11 L210.32 126.28 L210.72 123.73 L211.11 121.58 L211.51 119.96 L211.91 119.06 L212.30 119.35 L212.70 120.43 L213.10 122.02 L213.49 124.00 L213.89 126.28 L214.29 128.78 L214.68 131.44 L215.08 134.19 L215.48 136.99 L215.87 139.77 L216.27 142.51 L216.67 145.16 L217.06 147.71 L217.46 150.13 L217.86 152.40 L218.25 154.51 L218.65 156.46 L219.05 158.24 L219.44 159.87 L219.84 161.33 L220.24 162.64 L220.63 163.80 L221.03 164.83 L221.43 165.73 L221.82 166.52 L222.22 167.20 L222.62 167.79 L223.01 168.29 L223.41 168.72 L223.81 169.08 L224.20 169.39 L224.60 169.65" fill="none" stroke="#3b5a9b" stroke-width="1.1" stroke-linejoin="round"/>
<path d="M200.60 169.62 L200.92 169.29 L201.24 168.88 L201.56 168.37 L201.88 167.75 L202.20 166.99 L202.52 166.09 L202.84 165.01 L203.16 163.74 L203.48 162.26 L203.80 160.55 L204.12 158.60 L204.44 156.39 L204.76 153.92 L205.08 151.20 L205.40 148.24 L205.72 145.06 L206.04 141.70 L206.36 138.22 L206.68 134.69 L207.00 131.18 L207.32 127.80 L207.64 124.67 L207.96 121.93 L208.28 119.72 L208.60 118.27 L208.92 118.00 L209.24 118.74 L209.56 120.00 L209.88 121.66 L210.20 123.62 L210.52 125.83 L210.84 128.22 L211.16 130.74 L211.48 133.34 L211.80 135.98 L212.12 138.61 L212.44 141.20 L212.76 143.74 L213.08 146.18 L213.40 148.52 L213.72 150.73 L214.04 152.82 L214.36 154.76 L214.68 156.56 L215.00 158.22 L215.32 159.73 L215.64 161.11 L215.96 162.35 L216.28 163.46 L216.60 164.46 L216.92 165.34 L217.24 166.12 L217.56 166.81 L217.88 167.41 L218.20 167.93 L218.52 168.38 L218.84 168.77 L219.16 169.10 L219.48 169.38 L219.80 169.62" fill="none" stroke="#c8234c" stroke-width="1.1" stroke-linejoin="round"/>
<rect x="273.60" y="112.80" width="58.0" height="58.0" fill="#fff" stroke="#222" stroke-width="0.95"/>
<text x="267.30" y="118.10" font-size="7.5" text-anchor="end" fill="#222" textLength="12.899999999999999" lengthAdjust="spacingAndGlyphs" >100</text>
<line x1="270.70" y1="115.40" x2="273.60" y2="115.40" stroke="#222" stroke-width="0.7"/>
<text x="267.30" y="129.10" font-size="7.5" text-anchor="end" fill="#222" textLength="8.6" lengthAdjust="spacingAndGlyphs" >80</text>
<line x1="270.70" y1="126.40" x2="273.60" y2="126.40" stroke="#222" stroke-width="0.7"/>
<text x="267.30" y="140.10" font-size="7.5" text-anchor="end" fill="#222" textLength="8.6" lengthAdjust="spacingAndGlyphs" >60</text>
<line x1="270.70" y1="137.40" x2="273.60" y2="137.40" stroke="#222" stroke-width="0.7"/>
<text x="267.30" y="151.10" font-size="7.5" text-anchor="end" fill="#222" textLength="8.6" lengthAdjust="spacingAndGlyphs" >40</text>
<line x1="270.70" y1="148.40" x2="273.60" y2="148.40" stroke="#222" stroke-width="0.7"/>
<text x="267.30" y="162.10" font-size="7.5" text-anchor="end" fill="#222" textLength="8.6" lengthAdjust="spacingAndGlyphs" >20</text>
<line x1="270.70" y1="159.40" x2="273.60" y2="159.40" stroke="#222" stroke-width="0.7"/>
<text x="267.30" y="173.50" font-size="7.5" text-anchor="end" fill="#222" textLength="4.3" lengthAdjust="spacingAndGlyphs" >0</text>
<line x1="270.70" y1="170.80" x2="273.60" y2="170.80" stroke="#222" stroke-width="0.7"/>
<line x1="272.30" y1="115.40" x2="273.60" y2="115.40" stroke="#333" stroke-width="0.5"/>
<line x1="272.30" y1="118.15" x2="273.60" y2="118.15" stroke="#333" stroke-width="0.5"/>
<line x1="272.30" y1="120.90" x2="273.60" y2="120.90" stroke="#333" stroke-width="0.5"/>
<line x1="272.30" y1="123.65" x2="273.60" y2="123.65" stroke="#333" stroke-width="0.5"/>
<line x1="272.30" y1="126.40" x2="273.60" y2="126.40" stroke="#333" stroke-width="0.5"/>
<line x1="272.30" y1="129.15" x2="273.60" y2="129.15" stroke="#333" stroke-width="0.5"/>
<line x1="272.30" y1="131.90" x2="273.60" y2="131.90" stroke="#333" stroke-width="0.5"/>
<line x1="272.30" y1="134.65" x2="273.60" y2="134.65" stroke="#333" stroke-width="0.5"/>
<line x1="272.30" y1="137.40" x2="273.60" y2="137.40" stroke="#333" stroke-width="0.5"/>
<line x1="272.30" y1="140.15" x2="273.60" y2="140.15" stroke="#333" stroke-width="0.5"/>
<line x1="272.30" y1="142.90" x2="273.60" y2="142.90" stroke="#333" stroke-width="0.5"/>
<line x1="272.30" y1="145.65" x2="273.60" y2="145.65" stroke="#333" stroke-width="0.5"/>
<line x1="272.30" y1="148.40" x2="273.60" y2="148.40" stroke="#333" stroke-width="0.5"/>
<line x1="272.30" y1="151.15" x2="273.60" y2="151.15" stroke="#333" stroke-width="0.5"/>
<line x1="272.30" y1="153.90" x2="273.60" y2="153.90" stroke="#333" stroke-width="0.5"/>
<line x1="272.30" y1="156.65" x2="273.60" y2="156.65" stroke="#333" stroke-width="0.5"/>
<line x1="272.30" y1="159.40" x2="273.60" y2="159.40" stroke="#333" stroke-width="0.5"/>
<line x1="272.30" y1="162.15" x2="273.60" y2="162.15" stroke="#333" stroke-width="0.5"/>
<line x1="272.30" y1="164.90" x2="273.60" y2="164.90" stroke="#333" stroke-width="0.5"/>
<line x1="272.30" y1="167.65" x2="273.60" y2="167.65" stroke="#333" stroke-width="0.5"/>
<line x1="272.30" y1="170.40" x2="273.60" y2="170.40" stroke="#333" stroke-width="0.5"/>
<line x1="278.10" y1="170.80" x2="278.10" y2="172.80" stroke="#222" stroke-width="0.6"/>
<line x1="286.80" y1="170.80" x2="286.80" y2="172.80" stroke="#222" stroke-width="0.6"/>
<line x1="296.90" y1="170.80" x2="296.90" y2="172.80" stroke="#222" stroke-width="0.6"/>
<line x1="311.70" y1="170.80" x2="311.70" y2="172.80" stroke="#222" stroke-width="0.6"/>
<line x1="326.50" y1="170.80" x2="326.50" y2="172.80" stroke="#222" stroke-width="0.6"/>
<line x1="301.36" y1="170.80" x2="301.36" y2="171.90" stroke="#333" stroke-width="0.45"/>
<line x1="316.16" y1="170.80" x2="316.16" y2="171.90" stroke="#333" stroke-width="0.45"/>
<line x1="303.96" y1="170.80" x2="303.96" y2="171.90" stroke="#333" stroke-width="0.45"/>
<line x1="318.76" y1="170.80" x2="318.76" y2="171.90" stroke="#333" stroke-width="0.45"/>
<line x1="305.81" y1="170.80" x2="305.81" y2="171.90" stroke="#333" stroke-width="0.45"/>
<line x1="320.61" y1="170.80" x2="320.61" y2="171.90" stroke="#333" stroke-width="0.45"/>
<line x1="307.24" y1="170.80" x2="307.24" y2="171.90" stroke="#333" stroke-width="0.45"/>
<line x1="322.04" y1="170.80" x2="322.04" y2="171.90" stroke="#333" stroke-width="0.45"/>
<line x1="308.42" y1="170.80" x2="308.42" y2="171.90" stroke="#333" stroke-width="0.45"/>
<line x1="323.22" y1="170.80" x2="323.22" y2="171.90" stroke="#333" stroke-width="0.45"/>
<line x1="309.41" y1="170.80" x2="309.41" y2="171.90" stroke="#333" stroke-width="0.45"/>
<line x1="324.21" y1="170.80" x2="324.21" y2="171.90" stroke="#333" stroke-width="0.45"/>
<line x1="310.27" y1="170.80" x2="310.27" y2="171.90" stroke="#333" stroke-width="0.45"/>
<line x1="325.07" y1="170.80" x2="325.07" y2="171.90" stroke="#333" stroke-width="0.45"/>
<line x1="311.02" y1="170.80" x2="311.02" y2="171.90" stroke="#333" stroke-width="0.45"/>
<line x1="325.82" y1="170.80" x2="325.82" y2="171.90" stroke="#333" stroke-width="0.45"/>
<line x1="280.30" y1="170.80" x2="280.30" y2="171.90" stroke="#333" stroke-width="0.45"/>
<line x1="282.50" y1="170.80" x2="282.50" y2="171.90" stroke="#333" stroke-width="0.45"/>
<line x1="284.70" y1="170.80" x2="284.70" y2="171.90" stroke="#333" stroke-width="0.45"/>
<line x1="288.40" y1="170.80" x2="288.40" y2="171.90" stroke="#333" stroke-width="0.45"/>
<line x1="290.10" y1="170.80" x2="290.10" y2="171.90" stroke="#333" stroke-width="0.45"/>
<line x1="291.80" y1="170.80" x2="291.80" y2="171.90" stroke="#333" stroke-width="0.45"/>
<line x1="293.60" y1="170.80" x2="293.60" y2="171.90" stroke="#333" stroke-width="0.45"/>
<rect x="285.90" y="170.80" width="1.8" height="1.6" fill="#111"/>
<text x="270.00" y="184.90" font-size="7.3" fill="#222" textLength="15.0" lengthAdjust="spacingAndGlyphs">-10<tspan font-size="5.0" dy="-2.6">3</tspan></text>
<text x="285.20" y="184.90" font-size="7.3" fill="#222">0</text>
<text x="288.60" y="184.90" font-size="7.3" fill="#222" textLength="13.4" lengthAdjust="spacingAndGlyphs">10<tspan font-size="5.0" dy="-2.6">3</tspan></text>
<text x="306.40" y="184.90" font-size="7.3" fill="#222" textLength="12.6" lengthAdjust="spacingAndGlyphs">10<tspan font-size="5.0" dy="-2.6">4</tspan></text>
<text x="319.90" y="184.90" font-size="7.3" fill="#222" textLength="12.0" lengthAdjust="spacingAndGlyphs">10<tspan font-size="5.0" dy="-2.6">5</tspan></text>
<path d="M299.80 169.62 L300.02 169.34 L300.23 169.00 L300.45 168.58 L300.67 168.09 L300.88 167.51 L301.10 166.82 L301.32 166.02 L301.53 165.08 L301.75 164.00 L301.97 162.77 L302.18 161.36 L302.40 159.78 L302.62 158.01 L302.83 156.05 L303.05 153.89 L303.27 151.54 L303.48 149.01 L303.70 146.31 L303.92 143.46 L304.13 140.50 L304.35 137.46 L304.57 134.39 L304.78 131.34 L305.00 128.40 L305.22 125.62 L305.43 123.09 L305.65 120.92 L305.87 119.21 L306.08 118.13 L306.30 118.07 L306.52 119.04 L306.73 120.63 L306.95 122.67 L307.17 125.06 L307.38 127.70 L307.60 130.53 L307.82 133.46 L308.03 136.43 L308.25 139.40 L308.47 142.30 L308.68 145.11 L308.90 147.80 L309.12 150.33 L309.33 152.70 L309.55 154.90 L309.77 156.90 L309.98 158.73 L310.20 160.38 L310.42 161.85 L310.63 163.16 L310.85 164.31 L311.07 165.32 L311.28 166.20 L311.50 166.95 L311.72 167.60 L311.93 168.16 L312.15 168.62 L312.37 169.02 L312.58 169.35 L312.80 169.62" fill="none" stroke="#3b5a9b" stroke-width="1.1" stroke-linejoin="round"/>
<path d="M299.30 169.61 L299.51 169.33 L299.72 168.99 L299.93 168.59 L300.13 168.11 L300.34 167.55 L300.55 166.88 L300.76 166.11 L300.97 165.21 L301.18 164.17 L301.38 162.99 L301.59 161.65 L301.80 160.13 L302.01 158.44 L302.22 156.56 L302.43 154.49 L302.63 152.24 L302.84 149.81 L303.05 147.21 L303.26 144.46 L303.47 141.58 L303.68 138.61 L303.88 135.59 L304.09 132.57 L304.30 129.60 L304.51 126.75 L304.72 124.10 L304.93 121.73 L305.13 119.73 L305.34 118.24 L305.55 117.41 L305.76 117.75 L305.97 118.99 L306.18 120.81 L306.38 123.06 L306.59 125.65 L306.80 128.48 L307.01 131.45 L307.22 134.52 L307.43 137.59 L307.63 140.63 L307.84 143.59 L308.05 146.43 L308.26 149.11 L308.47 151.63 L308.68 153.97 L308.88 156.11 L309.09 158.06 L309.30 159.82 L309.51 161.39 L309.72 162.78 L309.93 164.01 L310.13 165.08 L310.34 166.01 L310.55 166.81 L310.76 167.50 L310.97 168.08 L311.18 168.57 L311.38 168.98 L311.59 169.33 L311.80 169.61" fill="none" stroke="#c8234c" stroke-width="1.1" stroke-linejoin="round"/>
<rect x="358.80" y="112.80" width="58.0" height="58.0" fill="#fff" stroke="#222" stroke-width="0.95"/>
<text x="352.50" y="118.10" font-size="7.5" text-anchor="end" fill="#222" textLength="12.899999999999999" lengthAdjust="spacingAndGlyphs" >100</text>
<line x1="355.90" y1="115.40" x2="358.80" y2="115.40" stroke="#222" stroke-width="0.7"/>
<text x="352.50" y="129.10" font-size="7.5" text-anchor="end" fill="#222" textLength="8.6" lengthAdjust="spacingAndGlyphs" >80</text>
<line x1="355.90" y1="126.40" x2="358.80" y2="126.40" stroke="#222" stroke-width="0.7"/>
<text x="352.50" y="140.10" font-size="7.5" text-anchor="end" fill="#222" textLength="8.6" lengthAdjust="spacingAndGlyphs" >60</text>
<line x1="355.90" y1="137.40" x2="358.80" y2="137.40" stroke="#222" stroke-width="0.7"/>
<text x="352.50" y="151.10" font-size="7.5" text-anchor="end" fill="#222" textLength="8.6" lengthAdjust="spacingAndGlyphs" >40</text>
<line x1="355.90" y1="148.40" x2="358.80" y2="148.40" stroke="#222" stroke-width="0.7"/>
<text x="352.50" y="162.10" font-size="7.5" text-anchor="end" fill="#222" textLength="8.6" lengthAdjust="spacingAndGlyphs" >20</text>
<line x1="355.90" y1="159.40" x2="358.80" y2="159.40" stroke="#222" stroke-width="0.7"/>
<text x="352.50" y="173.50" font-size="7.5" text-anchor="end" fill="#222" textLength="4.3" lengthAdjust="spacingAndGlyphs" >0</text>
<line x1="355.90" y1="170.80" x2="358.80" y2="170.80" stroke="#222" stroke-width="0.7"/>
<line x1="357.50" y1="115.40" x2="358.80" y2="115.40" stroke="#333" stroke-width="0.5"/>
<line x1="357.50" y1="118.15" x2="358.80" y2="118.15" stroke="#333" stroke-width="0.5"/>
<line x1="357.50" y1="120.90" x2="358.80" y2="120.90" stroke="#333" stroke-width="0.5"/>
<line x1="357.50" y1="123.65" x2="358.80" y2="123.65" stroke="#333" stroke-width="0.5"/>
<line x1="357.50" y1="126.40" x2="358.80" y2="126.40" stroke="#333" stroke-width="0.5"/>
<line x1="357.50" y1="129.15" x2="358.80" y2="129.15" stroke="#333" stroke-width="0.5"/>
<line x1="357.50" y1="131.90" x2="358.80" y2="131.90" stroke="#333" stroke-width="0.5"/>
<line x1="357.50" y1="134.65" x2="358.80" y2="134.65" stroke="#333" stroke-width="0.5"/>
<line x1="357.50" y1="137.40" x2="358.80" y2="137.40" stroke="#333" stroke-width="0.5"/>
<line x1="357.50" y1="140.15" x2="358.80" y2="140.15" stroke="#333" stroke-width="0.5"/>
<line x1="357.50" y1="142.90" x2="358.80" y2="142.90" stroke="#333" stroke-width="0.5"/>
<line x1="357.50" y1="145.65" x2="358.80" y2="145.65" stroke="#333" stroke-width="0.5"/>
<line x1="357.50" y1="148.40" x2="358.80" y2="148.40" stroke="#333" stroke-width="0.5"/>
<line x1="357.50" y1="151.15" x2="358.80" y2="151.15" stroke="#333" stroke-width="0.5"/>
<line x1="357.50" y1="153.90" x2="358.80" y2="153.90" stroke="#333" stroke-width="0.5"/>
<line x1="357.50" y1="156.65" x2="358.80" y2="156.65" stroke="#333" stroke-width="0.5"/>
<line x1="357.50" y1="159.40" x2="358.80" y2="159.40" stroke="#333" stroke-width="0.5"/>
<line x1="357.50" y1="162.15" x2="358.80" y2="162.15" stroke="#333" stroke-width="0.5"/>
<line x1="357.50" y1="164.90" x2="358.80" y2="164.90" stroke="#333" stroke-width="0.5"/>
<line x1="357.50" y1="167.65" x2="358.80" y2="167.65" stroke="#333" stroke-width="0.5"/>
<line x1="357.50" y1="170.40" x2="358.80" y2="170.40" stroke="#333" stroke-width="0.5"/>
<line x1="363.30" y1="170.80" x2="363.30" y2="172.80" stroke="#222" stroke-width="0.6"/>
<line x1="372.00" y1="170.80" x2="372.00" y2="172.80" stroke="#222" stroke-width="0.6"/>
<line x1="382.10" y1="170.80" x2="382.10" y2="172.80" stroke="#222" stroke-width="0.6"/>
<line x1="396.90" y1="170.80" x2="396.90" y2="172.80" stroke="#222" stroke-width="0.6"/>
<line x1="411.70" y1="170.80" x2="411.70" y2="172.80" stroke="#222" stroke-width="0.6"/>
<line x1="386.56" y1="170.80" x2="386.56" y2="171.90" stroke="#333" stroke-width="0.45"/>
<line x1="401.36" y1="170.80" x2="401.36" y2="171.90" stroke="#333" stroke-width="0.45"/>
<line x1="389.16" y1="170.80" x2="389.16" y2="171.90" stroke="#333" stroke-width="0.45"/>
<line x1="403.96" y1="170.80" x2="403.96" y2="171.90" stroke="#333" stroke-width="0.45"/>
<line x1="391.01" y1="170.80" x2="391.01" y2="171.90" stroke="#333" stroke-width="0.45"/>
<line x1="405.81" y1="170.80" x2="405.81" y2="171.90" stroke="#333" stroke-width="0.45"/>
<line x1="392.44" y1="170.80" x2="392.44" y2="171.90" stroke="#333" stroke-width="0.45"/>
<line x1="407.24" y1="170.80" x2="407.24" y2="171.90" stroke="#333" stroke-width="0.45"/>
<line x1="393.62" y1="170.80" x2="393.62" y2="171.90" stroke="#333" stroke-width="0.45"/>
<line x1="408.42" y1="170.80" x2="408.42" y2="171.90" stroke="#333" stroke-width="0.45"/>
<line x1="394.61" y1="170.80" x2="394.61" y2="171.90" stroke="#333" stroke-width="0.45"/>
<line x1="409.41" y1="170.80" x2="409.41" y2="171.90" stroke="#333" stroke-width="0.45"/>
<line x1="395.47" y1="170.80" x2="395.47" y2="171.90" stroke="#333" stroke-width="0.45"/>
<line x1="410.27" y1="170.80" x2="410.27" y2="171.90" stroke="#333" stroke-width="0.45"/>
<line x1="396.22" y1="170.80" x2="396.22" y2="171.90" stroke="#333" stroke-width="0.45"/>
<line x1="411.02" y1="170.80" x2="411.02" y2="171.90" stroke="#333" stroke-width="0.45"/>
<line x1="365.50" y1="170.80" x2="365.50" y2="171.90" stroke="#333" stroke-width="0.45"/>
<line x1="367.70" y1="170.80" x2="367.70" y2="171.90" stroke="#333" stroke-width="0.45"/>
<line x1="369.90" y1="170.80" x2="369.90" y2="171.90" stroke="#333" stroke-width="0.45"/>
<line x1="373.60" y1="170.80" x2="373.60" y2="171.90" stroke="#333" stroke-width="0.45"/>
<line x1="375.30" y1="170.80" x2="375.30" y2="171.90" stroke="#333" stroke-width="0.45"/>
<line x1="377.00" y1="170.80" x2="377.00" y2="171.90" stroke="#333" stroke-width="0.45"/>
<line x1="378.80" y1="170.80" x2="378.80" y2="171.90" stroke="#333" stroke-width="0.45"/>
<rect x="371.10" y="170.80" width="1.8" height="1.6" fill="#111"/>
<text x="355.20" y="184.90" font-size="7.3" fill="#222" textLength="15.0" lengthAdjust="spacingAndGlyphs">-10<tspan font-size="5.0" dy="-2.6">3</tspan></text>
<text x="370.40" y="184.90" font-size="7.3" fill="#222">0</text>
<text x="373.80" y="184.90" font-size="7.3" fill="#222" textLength="13.4" lengthAdjust="spacingAndGlyphs">10<tspan font-size="5.0" dy="-2.6">3</tspan></text>
<text x="391.60" y="184.90" font-size="7.3" fill="#222" textLength="12.6" lengthAdjust="spacingAndGlyphs">10<tspan font-size="5.0" dy="-2.6">4</tspan></text>
<text x="405.10" y="184.90" font-size="7.3" fill="#222" textLength="12.0" lengthAdjust="spacingAndGlyphs">10<tspan font-size="5.0" dy="-2.6">5</tspan></text>
<path d="M379.80 169.64 L380.03 169.34 L380.26 168.97 L380.49 168.53 L380.71 168.00 L380.94 167.37 L381.17 166.62 L381.40 165.73 L381.63 164.70 L381.86 163.50 L382.08 162.13 L382.31 160.56 L382.54 158.79 L382.77 156.81 L383.00 154.61 L383.23 152.20 L383.45 149.59 L383.68 146.79 L383.91 143.83 L384.14 140.74 L384.37 137.57 L384.60 134.37 L384.82 131.21 L385.05 128.16 L385.28 125.33 L385.51 122.80 L385.74 120.70 L385.97 119.17 L386.19 118.46 L386.42 118.98 L386.65 120.17 L386.88 121.85 L387.11 123.90 L387.33 126.23 L387.56 128.78 L387.79 131.46 L388.02 134.24 L388.25 137.04 L388.48 139.84 L388.70 142.58 L388.93 145.23 L389.16 147.77 L389.39 150.18 L389.62 152.44 L389.85 154.55 L390.07 156.49 L390.30 158.26 L390.53 159.88 L390.76 161.33 L390.99 162.64 L391.22 163.80 L391.44 164.82 L391.67 165.72 L391.90 166.50 L392.13 167.19 L392.36 167.77 L392.59 168.28 L392.81 168.71 L393.04 169.07 L393.27 169.38 L393.50 169.64" fill="none" stroke="#3b5a9b" stroke-width="1.1" stroke-linejoin="round"/>
<path d="M379.60 169.66 L379.81 169.29 L380.03 168.82 L380.25 168.23 L380.46 167.50 L380.68 166.59 L380.89 165.47 L381.11 164.13 L381.32 162.54 L381.54 160.66 L381.75 158.48 L381.97 155.99 L382.18 153.18 L382.40 150.07 L382.61 146.68 L382.83 143.06 L383.04 139.28 L383.25 135.43 L383.47 131.62 L383.69 128.01 L383.90 124.76 L384.12 122.08 L384.33 120.20 L384.55 119.59 L384.76 120.13 L384.98 121.14 L385.19 122.50 L385.41 124.14 L385.62 126.01 L385.84 128.06 L386.05 130.24 L386.26 132.51 L386.48 134.85 L386.69 137.21 L386.91 139.56 L387.12 141.89 L387.34 144.17 L387.56 146.37 L387.77 148.49 L387.99 150.51 L388.20 152.43 L388.42 154.24 L388.63 155.92 L388.85 157.49 L389.06 158.94 L389.27 160.28 L389.49 161.49 L389.70 162.60 L389.92 163.61 L390.13 164.51 L390.35 165.32 L390.56 166.04 L390.78 166.68 L391.00 167.25 L391.21 167.75 L391.43 168.19 L391.64 168.57 L391.86 168.91 L392.07 169.20 L392.29 169.45 L392.50 169.66" fill="none" stroke="#c8234c" stroke-width="1.1" stroke-linejoin="round"/>
<rect x="188.30" y="194.30" width="58.0" height="58.0" fill="#fff" stroke="#222" stroke-width="0.95"/>
<text x="182.00" y="199.60" font-size="7.5" text-anchor="end" fill="#222" textLength="12.899999999999999" lengthAdjust="spacingAndGlyphs" >100</text>
<line x1="185.40" y1="196.90" x2="188.30" y2="196.90" stroke="#222" stroke-width="0.7"/>
<text x="182.00" y="210.60" font-size="7.5" text-anchor="end" fill="#222" textLength="8.6" lengthAdjust="spacingAndGlyphs" >80</text>
<line x1="185.40" y1="207.90" x2="188.30" y2="207.90" stroke="#222" stroke-width="0.7"/>
<text x="182.00" y="221.60" font-size="7.5" text-anchor="end" fill="#222" textLength="8.6" lengthAdjust="spacingAndGlyphs" >60</text>
<line x1="185.40" y1="218.90" x2="188.30" y2="218.90" stroke="#222" stroke-width="0.7"/>
<text x="182.00" y="232.60" font-size="7.5" text-anchor="end" fill="#222" textLength="8.6" lengthAdjust="spacingAndGlyphs" >40</text>
<line x1="185.40" y1="229.90" x2="188.30" y2="229.90" stroke="#222" stroke-width="0.7"/>
<text x="182.00" y="243.60" font-size="7.5" text-anchor="end" fill="#222" textLength="8.6" lengthAdjust="spacingAndGlyphs" >20</text>
<line x1="185.40" y1="240.90" x2="188.30" y2="240.90" stroke="#222" stroke-width="0.7"/>
<text x="182.00" y="255.00" font-size="7.5" text-anchor="end" fill="#222" textLength="4.3" lengthAdjust="spacingAndGlyphs" >0</text>
<line x1="185.40" y1="252.30" x2="188.30" y2="252.30" stroke="#222" stroke-width="0.7"/>
<line x1="187.00" y1="196.90" x2="188.30" y2="196.90" stroke="#333" stroke-width="0.5"/>
<line x1="187.00" y1="199.65" x2="188.30" y2="199.65" stroke="#333" stroke-width="0.5"/>
<line x1="187.00" y1="202.40" x2="188.30" y2="202.40" stroke="#333" stroke-width="0.5"/>
<line x1="187.00" y1="205.15" x2="188.30" y2="205.15" stroke="#333" stroke-width="0.5"/>
<line x1="187.00" y1="207.90" x2="188.30" y2="207.90" stroke="#333" stroke-width="0.5"/>
<line x1="187.00" y1="210.65" x2="188.30" y2="210.65" stroke="#333" stroke-width="0.5"/>
<line x1="187.00" y1="213.40" x2="188.30" y2="213.40" stroke="#333" stroke-width="0.5"/>
<line x1="187.00" y1="216.15" x2="188.30" y2="216.15" stroke="#333" stroke-width="0.5"/>
<line x1="187.00" y1="218.90" x2="188.30" y2="218.90" stroke="#333" stroke-width="0.5"/>
<line x1="187.00" y1="221.65" x2="188.30" y2="221.65" stroke="#333" stroke-width="0.5"/>
<line x1="187.00" y1="224.40" x2="188.30" y2="224.40" stroke="#333" stroke-width="0.5"/>
<line x1="187.00" y1="227.15" x2="188.30" y2="227.15" stroke="#333" stroke-width="0.5"/>
<line x1="187.00" y1="229.90" x2="188.30" y2="229.90" stroke="#333" stroke-width="0.5"/>
<line x1="187.00" y1="232.65" x2="188.30" y2="232.65" stroke="#333" stroke-width="0.5"/>
<line x1="187.00" y1="235.40" x2="188.30" y2="235.40" stroke="#333" stroke-width="0.5"/>
<line x1="187.00" y1="238.15" x2="188.30" y2="238.15" stroke="#333" stroke-width="0.5"/>
<line x1="187.00" y1="240.90" x2="188.30" y2="240.90" stroke="#333" stroke-width="0.5"/>
<line x1="187.00" y1="243.65" x2="188.30" y2="243.65" stroke="#333" stroke-width="0.5"/>
<line x1="187.00" y1="246.40" x2="188.30" y2="246.40" stroke="#333" stroke-width="0.5"/>
<line x1="187.00" y1="249.15" x2="188.30" y2="249.15" stroke="#333" stroke-width="0.5"/>
<line x1="187.00" y1="251.90" x2="188.30" y2="251.90" stroke="#333" stroke-width="0.5"/>
<line x1="192.80" y1="252.30" x2="192.80" y2="254.30" stroke="#222" stroke-width="0.6"/>
<line x1="201.50" y1="252.30" x2="201.50" y2="254.30" stroke="#222" stroke-width="0.6"/>
<line x1="211.60" y1="252.30" x2="211.60" y2="254.30" stroke="#222" stroke-width="0.6"/>
<line x1="226.40" y1="252.30" x2="226.40" y2="254.30" stroke="#222" stroke-width="0.6"/>
<line x1="241.20" y1="252.30" x2="241.20" y2="254.30" stroke="#222" stroke-width="0.6"/>
<line x1="216.06" y1="252.30" x2="216.06" y2="253.40" stroke="#333" stroke-width="0.45"/>
<line x1="230.86" y1="252.30" x2="230.86" y2="253.40" stroke="#333" stroke-width="0.45"/>
<line x1="218.66" y1="252.30" x2="218.66" y2="253.40" stroke="#333" stroke-width="0.45"/>
<line x1="233.46" y1="252.30" x2="233.46" y2="253.40" stroke="#333" stroke-width="0.45"/>
<line x1="220.51" y1="252.30" x2="220.51" y2="253.40" stroke="#333" stroke-width="0.45"/>
<line x1="235.31" y1="252.30" x2="235.31" y2="253.40" stroke="#333" stroke-width="0.45"/>
<line x1="221.94" y1="252.30" x2="221.94" y2="253.40" stroke="#333" stroke-width="0.45"/>
<line x1="236.74" y1="252.30" x2="236.74" y2="253.40" stroke="#333" stroke-width="0.45"/>
<line x1="223.12" y1="252.30" x2="223.12" y2="253.40" stroke="#333" stroke-width="0.45"/>
<line x1="237.92" y1="252.30" x2="237.92" y2="253.40" stroke="#333" stroke-width="0.45"/>
<line x1="224.11" y1="252.30" x2="224.11" y2="253.40" stroke="#333" stroke-width="0.45"/>
<line x1="238.91" y1="252.30" x2="238.91" y2="253.40" stroke="#333" stroke-width="0.45"/>
<line x1="224.97" y1="252.30" x2="224.97" y2="253.40" stroke="#333" stroke-width="0.45"/>
<line x1="239.77" y1="252.30" x2="239.77" y2="253.40" stroke="#333" stroke-width="0.45"/>
<line x1="225.72" y1="252.30" x2="225.72" y2="253.40" stroke="#333" stroke-width="0.45"/>
<line x1="240.52" y1="252.30" x2="240.52" y2="253.40" stroke="#333" stroke-width="0.45"/>
<line x1="195.00" y1="252.30" x2="195.00" y2="253.40" stroke="#333" stroke-width="0.45"/>
<line x1="197.20" y1="252.30" x2="197.20" y2="253.40" stroke="#333" stroke-width="0.45"/>
<line x1="199.40" y1="252.30" x2="199.40" y2="253.40" stroke="#333" stroke-width="0.45"/>
<line x1="203.10" y1="252.30" x2="203.10" y2="253.40" stroke="#333" stroke-width="0.45"/>
<line x1="204.80" y1="252.30" x2="204.80" y2="253.40" stroke="#333" stroke-width="0.45"/>
<line x1="206.50" y1="252.30" x2="206.50" y2="253.40" stroke="#333" stroke-width="0.45"/>
<line x1="208.30" y1="252.30" x2="208.30" y2="253.40" stroke="#333" stroke-width="0.45"/>
<rect x="200.60" y="252.30" width="1.8" height="1.6" fill="#111"/>
<text x="184.70" y="266.40" font-size="7.3" fill="#222" textLength="15.0" lengthAdjust="spacingAndGlyphs">-10<tspan font-size="5.0" dy="-2.6">3</tspan></text>
<text x="199.90" y="266.40" font-size="7.3" fill="#222">0</text>
<text x="203.30" y="266.40" font-size="7.3" fill="#222" textLength="13.4" lengthAdjust="spacingAndGlyphs">10<tspan font-size="5.0" dy="-2.6">3</tspan></text>
<text x="221.10" y="266.40" font-size="7.3" fill="#222" textLength="12.6" lengthAdjust="spacingAndGlyphs">10<tspan font-size="5.0" dy="-2.6">4</tspan></text>
<text x="234.60" y="266.40" font-size="7.3" fill="#222" textLength="12.0" lengthAdjust="spacingAndGlyphs">10<tspan font-size="5.0" dy="-2.6">5</tspan></text>
<path d="M200.20 251.12 L200.64 250.62 L201.08 249.94 L201.51 249.02 L201.95 247.82 L202.39 246.27 L202.83 244.32 L203.27 241.91 L203.71 238.98 L204.14 235.53 L204.58 231.54 L205.02 227.08 L205.46 222.24 L205.90 217.18 L206.34 212.13 L206.77 207.39 L207.21 203.33 L207.65 200.41 L208.09 199.43 L208.53 199.88 L208.97 200.72 L209.41 201.86 L209.84 203.25 L210.28 204.84 L210.72 206.60 L211.16 208.49 L211.60 210.49 L212.03 212.56 L212.47 214.68 L212.91 216.82 L213.35 218.97 L213.79 221.10 L214.23 223.20 L214.66 225.26 L215.10 227.26 L215.54 229.18 L215.98 231.04 L216.42 232.80 L216.86 234.48 L217.29 236.06 L217.73 237.55 L218.17 238.95 L218.61 240.25 L219.05 241.45 L219.49 242.57 L219.93 243.59 L220.36 244.53 L220.80 245.39 L221.24 246.17 L221.68 246.88 L222.12 247.52 L222.56 248.09 L222.99 248.61 L223.43 249.07 L223.87 249.48 L224.31 249.85 L224.75 250.17 L225.19 250.46 L225.62 250.71 L226.06 250.93 L226.50 251.12" fill="none" stroke="#3b5a9b" stroke-width="1.1" stroke-linejoin="round"/>
<path d="M200.20 251.11 L200.60 250.63 L200.99 249.98 L201.39 249.13 L201.79 248.02 L202.18 246.61 L202.58 244.83 L202.98 242.64 L203.37 240.00 L203.77 236.87 L204.17 233.25 L204.56 229.16 L204.96 224.67 L205.36 219.89 L205.75 214.99 L206.15 210.18 L206.55 205.76 L206.94 202.06 L207.34 199.53 L207.74 198.91 L208.13 199.45 L208.53 200.38 L208.93 201.61 L209.32 203.09 L209.72 204.78 L210.12 206.63 L210.51 208.61 L210.91 210.70 L211.31 212.85 L211.70 215.05 L212.10 217.27 L212.50 219.48 L212.89 221.67 L213.29 223.82 L213.69 225.91 L214.08 227.94 L214.48 229.89 L214.88 231.76 L215.27 233.53 L215.67 235.21 L216.07 236.78 L216.46 238.26 L216.86 239.64 L217.26 240.92 L217.65 242.10 L218.05 243.19 L218.45 244.18 L218.84 245.09 L219.24 245.92 L219.64 246.66 L220.03 247.34 L220.43 247.94 L220.83 248.49 L221.22 248.97 L221.62 249.40 L222.02 249.79 L222.41 250.12 L222.81 250.42 L223.21 250.68 L223.60 250.91 L224.00 251.11" fill="none" stroke="#c8234c" stroke-width="1.1" stroke-linejoin="round"/>
<rect x="273.60" y="194.30" width="58.0" height="58.0" fill="#fff" stroke="#222" stroke-width="0.95"/>
<text x="267.30" y="199.60" font-size="7.5" text-anchor="end" fill="#222" textLength="12.899999999999999" lengthAdjust="spacingAndGlyphs" >100</text>
<line x1="270.70" y1="196.90" x2="273.60" y2="196.90" stroke="#222" stroke-width="0.7"/>
<text x="267.30" y="210.60" font-size="7.5" text-anchor="end" fill="#222" textLength="8.6" lengthAdjust="spacingAndGlyphs" >80</text>
<line x1="270.70" y1="207.90" x2="273.60" y2="207.90" stroke="#222" stroke-width="0.7"/>
<text x="267.30" y="221.60" font-size="7.5" text-anchor="end" fill="#222" textLength="8.6" lengthAdjust="spacingAndGlyphs" >60</text>
<line x1="270.70" y1="218.90" x2="273.60" y2="218.90" stroke="#222" stroke-width="0.7"/>
<text x="267.30" y="232.60" font-size="7.5" text-anchor="end" fill="#222" textLength="8.6" lengthAdjust="spacingAndGlyphs" >40</text>
<line x1="270.70" y1="229.90" x2="273.60" y2="229.90" stroke="#222" stroke-width="0.7"/>
<text x="267.30" y="243.60" font-size="7.5" text-anchor="end" fill="#222" textLength="8.6" lengthAdjust="spacingAndGlyphs" >20</text>
<line x1="270.70" y1="240.90" x2="273.60" y2="240.90" stroke="#222" stroke-width="0.7"/>
<text x="267.30" y="255.00" font-size="7.5" text-anchor="end" fill="#222" textLength="4.3" lengthAdjust="spacingAndGlyphs" >0</text>
<line x1="270.70" y1="252.30" x2="273.60" y2="252.30" stroke="#222" stroke-width="0.7"/>
<line x1="272.30" y1="196.90" x2="273.60" y2="196.90" stroke="#333" stroke-width="0.5"/>
<line x1="272.30" y1="199.65" x2="273.60" y2="199.65" stroke="#333" stroke-width="0.5"/>
<line x1="272.30" y1="202.40" x2="273.60" y2="202.40" stroke="#333" stroke-width="0.5"/>
<line x1="272.30" y1="205.15" x2="273.60" y2="205.15" stroke="#333" stroke-width="0.5"/>
<line x1="272.30" y1="207.90" x2="273.60" y2="207.90" stroke="#333" stroke-width="0.5"/>
<line x1="272.30" y1="210.65" x2="273.60" y2="210.65" stroke="#333" stroke-width="0.5"/>
<line x1="272.30" y1="213.40" x2="273.60" y2="213.40" stroke="#333" stroke-width="0.5"/>
<line x1="272.30" y1="216.15" x2="273.60" y2="216.15" stroke="#333" stroke-width="0.5"/>
<line x1="272.30" y1="218.90" x2="273.60" y2="218.90" stroke="#333" stroke-width="0.5"/>
<line x1="272.30" y1="221.65" x2="273.60" y2="221.65" stroke="#333" stroke-width="0.5"/>
<line x1="272.30" y1="224.40" x2="273.60" y2="224.40" stroke="#333" stroke-width="0.5"/>
<line x1="272.30" y1="227.15" x2="273.60" y2="227.15" stroke="#333" stroke-width="0.5"/>
<line x1="272.30" y1="229.90" x2="273.60" y2="229.90" stroke="#333" stroke-width="0.5"/>
<line x1="272.30" y1="232.65" x2="273.60" y2="232.65" stroke="#333" stroke-width="0.5"/>
<line x1="272.30" y1="235.40" x2="273.60" y2="235.40" stroke="#333" stroke-width="0.5"/>
<line x1="272.30" y1="238.15" x2="273.60" y2="238.15" stroke="#333" stroke-width="0.5"/>
<line x1="272.30" y1="240.90" x2="273.60" y2="240.90" stroke="#333" stroke-width="0.5"/>
<line x1="272.30" y1="243.65" x2="273.60" y2="243.65" stroke="#333" stroke-width="0.5"/>
<line x1="272.30" y1="246.40" x2="273.60" y2="246.40" stroke="#333" stroke-width="0.5"/>
<line x1="272.30" y1="249.15" x2="273.60" y2="249.15" stroke="#333" stroke-width="0.5"/>
<line x1="272.30" y1="251.90" x2="273.60" y2="251.90" stroke="#333" stroke-width="0.5"/>
<line x1="278.10" y1="252.30" x2="278.10" y2="254.30" stroke="#222" stroke-width="0.6"/>
<line x1="286.80" y1="252.30" x2="286.80" y2="254.30" stroke="#222" stroke-width="0.6"/>
<line x1="296.90" y1="252.30" x2="296.90" y2="254.30" stroke="#222" stroke-width="0.6"/>
<line x1="311.70" y1="252.30" x2="311.70" y2="254.30" stroke="#222" stroke-width="0.6"/>
<line x1="326.50" y1="252.30" x2="326.50" y2="254.30" stroke="#222" stroke-width="0.6"/>
<line x1="301.36" y1="252.30" x2="301.36" y2="253.40" stroke="#333" stroke-width="0.45"/>
<line x1="316.16" y1="252.30" x2="316.16" y2="253.40" stroke="#333" stroke-width="0.45"/>
<line x1="303.96" y1="252.30" x2="303.96" y2="253.40" stroke="#333" stroke-width="0.45"/>
<line x1="318.76" y1="252.30" x2="318.76" y2="253.40" stroke="#333" stroke-width="0.45"/>
<line x1="305.81" y1="252.30" x2="305.81" y2="253.40" stroke="#333" stroke-width="0.45"/>
<line x1="320.61" y1="252.30" x2="320.61" y2="253.40" stroke="#333" stroke-width="0.45"/>
<line x1="307.24" y1="252.30" x2="307.24" y2="253.40" stroke="#333" stroke-width="0.45"/>
<line x1="322.04" y1="252.30" x2="322.04" y2="253.40" stroke="#333" stroke-width="0.45"/>
<line x1="308.42" y1="252.30" x2="308.42" y2="253.40" stroke="#333" stroke-width="0.45"/>
<line x1="323.22" y1="252.30" x2="323.22" y2="253.40" stroke="#333" stroke-width="0.45"/>
<line x1="309.41" y1="252.30" x2="309.41" y2="253.40" stroke="#333" stroke-width="0.45"/>
<line x1="324.21" y1="252.30" x2="324.21" y2="253.40" stroke="#333" stroke-width="0.45"/>
<line x1="310.27" y1="252.30" x2="310.27" y2="253.40" stroke="#333" stroke-width="0.45"/>
<line x1="325.07" y1="252.30" x2="325.07" y2="253.40" stroke="#333" stroke-width="0.45"/>
<line x1="311.02" y1="252.30" x2="311.02" y2="253.40" stroke="#333" stroke-width="0.45"/>
<line x1="325.82" y1="252.30" x2="325.82" y2="253.40" stroke="#333" stroke-width="0.45"/>
<line x1="280.30" y1="252.30" x2="280.30" y2="253.40" stroke="#333" stroke-width="0.45"/>
<line x1="282.50" y1="252.30" x2="282.50" y2="253.40" stroke="#333" stroke-width="0.45"/>
<line x1="284.70" y1="252.30" x2="284.70" y2="253.40" stroke="#333" stroke-width="0.45"/>
<line x1="288.40" y1="252.30" x2="288.40" y2="253.40" stroke="#333" stroke-width="0.45"/>
<line x1="290.10" y1="252.30" x2="290.10" y2="253.40" stroke="#333" stroke-width="0.45"/>
<line x1="291.80" y1="252.30" x2="291.80" y2="253.40" stroke="#333" stroke-width="0.45"/>
<line x1="293.60" y1="252.30" x2="293.60" y2="253.40" stroke="#333" stroke-width="0.45"/>
<rect x="285.90" y="252.30" width="1.8" height="1.6" fill="#111"/>
<text x="270.00" y="266.40" font-size="7.3" fill="#222" textLength="15.0" lengthAdjust="spacingAndGlyphs">-10<tspan font-size="5.0" dy="-2.6">3</tspan></text>
<text x="285.20" y="266.40" font-size="7.3" fill="#222">0</text>
<text x="288.60" y="266.40" font-size="7.3" fill="#222" textLength="13.4" lengthAdjust="spacingAndGlyphs">10<tspan font-size="5.0" dy="-2.6">3</tspan></text>
<text x="306.40" y="266.40" font-size="7.3" fill="#222" textLength="12.6" lengthAdjust="spacingAndGlyphs">10<tspan font-size="5.0" dy="-2.6">4</tspan></text>
<text x="319.90" y="266.40" font-size="7.3" fill="#222" textLength="12.0" lengthAdjust="spacingAndGlyphs">10<tspan font-size="5.0" dy="-2.6">5</tspan></text>
<path d="M295.60 251.11 L295.88 250.84 L296.16 250.52 L296.45 250.13 L296.73 249.68 L297.01 249.14 L297.29 248.52 L297.57 247.79 L297.85 246.95 L298.13 245.99 L298.42 244.89 L298.70 243.64 L298.98 242.24 L299.26 240.67 L299.54 238.93 L299.83 237.01 L300.11 234.92 L300.39 232.66 L300.67 230.23 L300.95 227.65 L301.23 224.94 L301.51 222.12 L301.80 219.23 L302.08 216.30 L302.36 213.38 L302.64 210.52 L302.92 207.79 L303.21 205.26 L303.49 203.01 L303.77 201.11 L304.05 199.69 L304.33 198.91 L304.61 199.27 L304.89 200.58 L305.18 202.50 L305.46 204.88 L305.74 207.60 L306.02 210.56 L306.30 213.66 L306.59 216.84 L306.87 220.02 L307.15 223.14 L307.43 226.16 L307.71 229.04 L307.99 231.75 L308.27 234.27 L308.56 236.59 L308.84 238.70 L309.12 240.61 L309.40 242.31 L309.68 243.82 L309.97 245.14 L310.25 246.30 L310.53 247.30 L310.81 248.15 L311.09 248.89 L311.37 249.50 L311.65 250.02 L311.94 250.46 L312.22 250.82 L312.50 251.11" fill="none" stroke="#3b5a9b" stroke-width="1.1" stroke-linejoin="round"/>
<path d="M296.50 251.10 L296.75 250.82 L297.01 250.49 L297.26 250.10 L297.52 249.63 L297.77 249.09 L298.03 248.44 L298.29 247.70 L298.54 246.83 L298.80 245.84 L299.05 244.71 L299.31 243.42 L299.56 241.98 L299.81 240.36 L300.07 238.57 L300.32 236.60 L300.58 234.44 L300.83 232.11 L301.09 229.62 L301.35 226.97 L301.60 224.18 L301.86 221.30 L302.11 218.34 L302.37 215.35 L302.62 212.38 L302.88 209.50 L303.13 206.75 L303.38 204.23 L303.64 202.01 L303.89 200.18 L304.15 198.88 L304.41 198.30 L304.66 198.99 L304.92 200.47 L305.17 202.52 L305.43 204.99 L305.68 207.77 L305.94 210.77 L306.19 213.90 L306.44 217.09 L306.70 220.26 L306.95 223.37 L307.21 226.38 L307.47 229.23 L307.72 231.92 L307.98 234.41 L308.23 236.71 L308.49 238.80 L308.74 240.68 L309.00 242.37 L309.25 243.86 L309.50 245.17 L309.76 246.31 L310.01 247.30 L310.27 248.16 L310.53 248.88 L310.78 249.50 L311.04 250.01 L311.29 250.44 L311.55 250.80 L311.80 251.10" fill="none" stroke="#c8234c" stroke-width="1.1" stroke-linejoin="round"/>
<rect x="358.80" y="194.30" width="58.0" height="58.0" fill="#fff" stroke="#222" stroke-width="0.95"/>
<text x="352.50" y="199.60" font-size="7.5" text-anchor="end" fill="#222" textLength="12.899999999999999" lengthAdjust="spacingAndGlyphs" >100</text>
<line x1="355.90" y1="196.90" x2="358.80" y2="196.90" stroke="#222" stroke-width="0.7"/>
<text x="352.50" y="210.60" font-size="7.5" text-anchor="end" fill="#222" textLength="8.6" lengthAdjust="spacingAndGlyphs" >80</text>
<line x1="355.90" y1="207.90" x2="358.80" y2="207.90" stroke="#222" stroke-width="0.7"/>
<text x="352.50" y="221.60" font-size="7.5" text-anchor="end" fill="#222" textLength="8.6" lengthAdjust="spacingAndGlyphs" >60</text>
<line x1="355.90" y1="218.90" x2="358.80" y2="218.90" stroke="#222" stroke-width="0.7"/>
<text x="352.50" y="232.60" font-size="7.5" text-anchor="end" fill="#222" textLength="8.6" lengthAdjust="spacingAndGlyphs" >40</text>
<line x1="355.90" y1="229.90" x2="358.80" y2="229.90" stroke="#222" stroke-width="0.7"/>
<text x="352.50" y="243.60" font-size="7.5" text-anchor="end" fill="#222" textLength="8.6" lengthAdjust="spacingAndGlyphs" >20</text>
<line x1="355.90" y1="240.90" x2="358.80" y2="240.90" stroke="#222" stroke-width="0.7"/>
<text x="352.50" y="255.00" font-size="7.5" text-anchor="end" fill="#222" textLength="4.3" lengthAdjust="spacingAndGlyphs" >0</text>
<line x1="355.90" y1="252.30" x2="358.80" y2="252.30" stroke="#222" stroke-width="0.7"/>
<line x1="357.50" y1="196.90" x2="358.80" y2="196.90" stroke="#333" stroke-width="0.5"/>
<line x1="357.50" y1="199.65" x2="358.80" y2="199.65" stroke="#333" stroke-width="0.5"/>
<line x1="357.50" y1="202.40" x2="358.80" y2="202.40" stroke="#333" stroke-width="0.5"/>
<line x1="357.50" y1="205.15" x2="358.80" y2="205.15" stroke="#333" stroke-width="0.5"/>
<line x1="357.50" y1="207.90" x2="358.80" y2="207.90" stroke="#333" stroke-width="0.5"/>
<line x1="357.50" y1="210.65" x2="358.80" y2="210.65" stroke="#333" stroke-width="0.5"/>
<line x1="357.50" y1="213.40" x2="358.80" y2="213.40" stroke="#333" stroke-width="0.5"/>
<line x1="357.50" y1="216.15" x2="358.80" y2="216.15" stroke="#333" stroke-width="0.5"/>
<line x1="357.50" y1="218.90" x2="358.80" y2="218.90" stroke="#333" stroke-width="0.5"/>
<line x1="357.50" y1="221.65" x2="358.80" y2="221.65" stroke="#333" stroke-width="0.5"/>
<line x1="357.50" y1="224.40" x2="358.80" y2="224.40" stroke="#333" stroke-width="0.5"/>
<line x1="357.50" y1="227.15" x2="358.80" y2="227.15" stroke="#333" stroke-width="0.5"/>
<line x1="357.50" y1="229.90" x2="358.80" y2="229.90" stroke="#333" stroke-width="0.5"/>
<line x1="357.50" y1="232.65" x2="358.80" y2="232.65" stroke="#333" stroke-width="0.5"/>
<line x1="357.50" y1="235.40" x2="358.80" y2="235.40" stroke="#333" stroke-width="0.5"/>
<line x1="357.50" y1="238.15" x2="358.80" y2="238.15" stroke="#333" stroke-width="0.5"/>
<line x1="357.50" y1="240.90" x2="358.80" y2="240.90" stroke="#333" stroke-width="0.5"/>
<line x1="357.50" y1="243.65" x2="358.80" y2="243.65" stroke="#333" stroke-width="0.5"/>
<line x1="357.50" y1="246.40" x2="358.80" y2="246.40" stroke="#333" stroke-width="0.5"/>
<line x1="357.50" y1="249.15" x2="358.80" y2="249.15" stroke="#333" stroke-width="0.5"/>
<line x1="357.50" y1="251.90" x2="358.80" y2="251.90" stroke="#333" stroke-width="0.5"/>
<line x1="363.30" y1="252.30" x2="363.30" y2="254.30" stroke="#222" stroke-width="0.6"/>
<line x1="372.00" y1="252.30" x2="372.00" y2="254.30" stroke="#222" stroke-width="0.6"/>
<line x1="382.10" y1="252.30" x2="382.10" y2="254.30" stroke="#222" stroke-width="0.6"/>
<line x1="396.90" y1="252.30" x2="396.90" y2="254.30" stroke="#222" stroke-width="0.6"/>
<line x1="411.70" y1="252.30" x2="411.70" y2="254.30" stroke="#222" stroke-width="0.6"/>
<line x1="386.56" y1="252.30" x2="386.56" y2="253.40" stroke="#333" stroke-width="0.45"/>
<line x1="401.36" y1="252.30" x2="401.36" y2="253.40" stroke="#333" stroke-width="0.45"/>
<line x1="389.16" y1="252.30" x2="389.16" y2="253.40" stroke="#333" stroke-width="0.45"/>
<line x1="403.96" y1="252.30" x2="403.96" y2="253.40" stroke="#333" stroke-width="0.45"/>
<line x1="391.01" y1="252.30" x2="391.01" y2="253.40" stroke="#333" stroke-width="0.45"/>
<line x1="405.81" y1="252.30" x2="405.81" y2="253.40" stroke="#333" stroke-width="0.45"/>
<line x1="392.44" y1="252.30" x2="392.44" y2="253.40" stroke="#333" stroke-width="0.45"/>
<line x1="407.24" y1="252.30" x2="407.24" y2="253.40" stroke="#333" stroke-width="0.45"/>
<line x1="393.62" y1="252.30" x2="393.62" y2="253.40" stroke="#333" stroke-width="0.45"/>
<line x1="408.42" y1="252.30" x2="408.42" y2="253.40" stroke="#333" stroke-width="0.45"/>
<line x1="394.61" y1="252.30" x2="394.61" y2="253.40" stroke="#333" stroke-width="0.45"/>
<line x1="409.41" y1="252.30" x2="409.41" y2="253.40" stroke="#333" stroke-width="0.45"/>
<line x1="395.47" y1="252.30" x2="395.47" y2="253.40" stroke="#333" stroke-width="0.45"/>
<line x1="410.27" y1="252.30" x2="410.27" y2="253.40" stroke="#333" stroke-width="0.45"/>
<line x1="396.22" y1="252.30" x2="396.22" y2="253.40" stroke="#333" stroke-width="0.45"/>
<line x1="411.02" y1="252.30" x2="411.02" y2="253.40" stroke="#333" stroke-width="0.45"/>
<line x1="365.50" y1="252.30" x2="365.50" y2="253.40" stroke="#333" stroke-width="0.45"/>
<line x1="367.70" y1="252.30" x2="367.70" y2="253.40" stroke="#333" stroke-width="0.45"/>
<line x1="369.90" y1="252.30" x2="369.90" y2="253.40" stroke="#333" stroke-width="0.45"/>
<line x1="373.60" y1="252.30" x2="373.60" y2="253.40" stroke="#333" stroke-width="0.45"/>
<line x1="375.30" y1="252.30" x2="375.30" y2="253.40" stroke="#333" stroke-width="0.45"/>
<line x1="377.00" y1="252.30" x2="377.00" y2="253.40" stroke="#333" stroke-width="0.45"/>
<line x1="378.80" y1="252.30" x2="378.80" y2="253.40" stroke="#333" stroke-width="0.45"/>
<rect x="371.10" y="252.30" width="1.8" height="1.6" fill="#111"/>
<text x="355.20" y="266.40" font-size="7.3" fill="#222" textLength="15.0" lengthAdjust="spacingAndGlyphs">-10<tspan font-size="5.0" dy="-2.6">3</tspan></text>
<text x="370.40" y="266.40" font-size="7.3" fill="#222">0</text>
<text x="373.80" y="266.40" font-size="7.3" fill="#222" textLength="13.4" lengthAdjust="spacingAndGlyphs">10<tspan font-size="5.0" dy="-2.6">3</tspan></text>
<text x="391.60" y="266.40" font-size="7.3" fill="#222" textLength="12.6" lengthAdjust="spacingAndGlyphs">10<tspan font-size="5.0" dy="-2.6">4</tspan></text>
<text x="405.10" y="266.40" font-size="7.3" fill="#222" textLength="12.0" lengthAdjust="spacingAndGlyphs">10<tspan font-size="5.0" dy="-2.6">5</tspan></text>
<path d="M373.80 251.12 L374.14 250.82 L374.47 250.45 L374.81 250.00 L375.15 249.46 L375.48 248.82 L375.82 248.05 L376.16 247.15 L376.49 246.10 L376.83 244.88 L377.17 243.48 L377.50 241.88 L377.84 240.07 L378.18 238.05 L378.51 235.81 L378.85 233.36 L379.19 230.70 L379.52 227.85 L379.86 224.83 L380.20 221.69 L380.53 218.47 L380.87 215.22 L381.21 212.02 L381.54 208.95 L381.88 206.09 L382.22 203.57 L382.55 201.49 L382.89 200.01 L383.23 199.41 L383.56 200.03 L383.90 201.29 L384.24 203.02 L384.57 205.11 L384.91 207.49 L385.25 210.07 L385.58 212.78 L385.92 215.58 L386.26 218.41 L386.59 221.22 L386.93 223.97 L387.27 226.64 L387.60 229.19 L387.94 231.61 L388.28 233.88 L388.61 235.99 L388.95 237.93 L389.29 239.71 L389.62 241.33 L389.96 242.79 L390.30 244.10 L390.63 245.26 L390.97 246.29 L391.31 247.19 L391.64 247.98 L391.98 248.66 L392.32 249.25 L392.65 249.76 L392.99 250.19 L393.33 250.55 L393.66 250.86 L394.00 251.12" fill="none" stroke="#3b5a9b" stroke-width="1.1" stroke-linejoin="round"/>
<path d="M374.80 251.11 L375.10 250.79 L375.41 250.38 L375.71 249.89 L376.01 249.29 L376.32 248.57 L376.62 247.71 L376.92 246.68 L377.23 245.48 L377.53 244.08 L377.83 242.46 L378.14 240.62 L378.44 238.53 L378.74 236.20 L379.05 233.62 L379.35 230.81 L379.65 227.78 L379.96 224.56 L380.26 221.19 L380.56 217.74 L380.87 214.27 L381.17 210.87 L381.47 207.63 L381.78 204.68 L382.08 202.14 L382.38 200.18 L382.69 199.00 L382.99 199.09 L383.29 200.02 L383.60 201.45 L383.90 203.27 L384.20 205.40 L384.51 207.75 L384.81 210.28 L385.11 212.92 L385.42 215.63 L385.72 218.35 L386.02 221.06 L386.33 223.71 L386.63 226.28 L386.93 228.75 L387.24 231.09 L387.54 233.30 L387.84 235.37 L388.15 237.28 L388.45 239.04 L388.75 240.65 L389.06 242.12 L389.36 243.44 L389.66 244.62 L389.97 245.68 L390.27 246.62 L390.57 247.44 L390.88 248.17 L391.18 248.80 L391.48 249.34 L391.79 249.82 L392.09 250.22 L392.39 250.57 L392.70 250.86 L393.00 251.11" fill="none" stroke="#c8234c" stroke-width="1.1" stroke-linejoin="round"/>
<defs><filter id="bb" x="-30%" y="-30%" width="160%" height="160%"><feGaussianBlur stdDeviation="0.55"/></filter><radialGradient id="blob" cx="0.5" cy="0.45" r="0.5"><stop offset="0" stop-color="#bbb"/><stop offset="0.3" stop-color="#666"/><stop offset="0.7" stop-color="#333"/><stop offset="1" stop-color="#2a2a2a"/></radialGradient></defs>
<rect x="103.40" y="32.20" width="58.3" height="58.0" fill="#fff" stroke="#222" stroke-width="0.95"/>
<text x="84.60" y="41.50" font-size="7.3" fill="#222" textLength="11.4" lengthAdjust="spacingAndGlyphs">10<tspan font-size="5.0" dy="-2.6">5</tspan></text>
<line x1="100.80" y1="37.80" x2="103.40" y2="37.80" stroke="#222" stroke-width="0.7"/>
<text x="84.60" y="55.40" font-size="7.3" fill="#222" textLength="11.4" lengthAdjust="spacingAndGlyphs">10<tspan font-size="5.0" dy="-2.6">4</tspan></text>
<line x1="100.80" y1="51.70" x2="103.40" y2="51.70" stroke="#222" stroke-width="0.7"/>
<text x="84.60" y="71.60" font-size="7.3" fill="#222" textLength="11.4" lengthAdjust="spacingAndGlyphs">10<tspan font-size="5.0" dy="-2.6">3</tspan></text>
<line x1="100.80" y1="67.90" x2="103.40" y2="67.90" stroke="#222" stroke-width="0.7"/>
<text x="92.40" y="80.00" font-size="7.3" text-anchor="end" fill="#222" >0</text>
<line x1="100.80" y1="76.60" x2="103.40" y2="76.60" stroke="#222" stroke-width="0.7"/>
<text x="81.80" y="89.20" font-size="7.3" fill="#222" textLength="14.2" lengthAdjust="spacingAndGlyphs">-10<tspan font-size="5.0" dy="-2.6">3</tspan></text>
<line x1="100.80" y1="85.50" x2="103.40" y2="85.50" stroke="#222" stroke-width="0.7"/>
<line x1="102.20" y1="47.52" x2="103.40" y2="47.52" stroke="#444" stroke-width="0.45"/>
<line x1="102.20" y1="45.07" x2="103.40" y2="45.07" stroke="#444" stroke-width="0.45"/>
<line x1="102.20" y1="43.33" x2="103.40" y2="43.33" stroke="#444" stroke-width="0.45"/>
<line x1="102.20" y1="41.98" x2="103.40" y2="41.98" stroke="#444" stroke-width="0.45"/>
<line x1="102.20" y1="40.88" x2="103.40" y2="40.88" stroke="#444" stroke-width="0.45"/>
<line x1="102.20" y1="39.95" x2="103.40" y2="39.95" stroke="#444" stroke-width="0.45"/>
<line x1="102.20" y1="39.15" x2="103.40" y2="39.15" stroke="#444" stroke-width="0.45"/>
<line x1="102.20" y1="38.44" x2="103.40" y2="38.44" stroke="#444" stroke-width="0.45"/>
<line x1="102.20" y1="61.84" x2="103.40" y2="61.84" stroke="#444" stroke-width="0.45"/>
<line x1="102.20" y1="59.28" x2="103.40" y2="59.28" stroke="#444" stroke-width="0.45"/>
<line x1="102.20" y1="57.47" x2="103.40" y2="57.47" stroke="#444" stroke-width="0.45"/>
<line x1="102.20" y1="56.06" x2="103.40" y2="56.06" stroke="#444" stroke-width="0.45"/>
<line x1="102.20" y1="54.92" x2="103.40" y2="54.92" stroke="#444" stroke-width="0.45"/>
<line x1="102.20" y1="53.95" x2="103.40" y2="53.95" stroke="#444" stroke-width="0.45"/>
<line x1="102.20" y1="53.11" x2="103.40" y2="53.11" stroke="#444" stroke-width="0.45"/>
<line x1="102.20" y1="52.36" x2="103.40" y2="52.36" stroke="#444" stroke-width="0.45"/>
<line x1="102.20" y1="71.70" x2="103.40" y2="71.70" stroke="#444" stroke-width="0.45"/>
<line x1="102.20" y1="81.10" x2="103.40" y2="81.10" stroke="#444" stroke-width="0.45"/>
<line x1="102.20" y1="83.30" x2="103.40" y2="83.30" stroke="#444" stroke-width="0.45"/>
<rect x="101.60" y="75.90" width="1.8" height="1.6" fill="#111"/>
<line x1="107.90" y1="90.20" x2="107.90" y2="92.20" stroke="#222" stroke-width="0.6"/>
<line x1="116.60" y1="90.20" x2="116.60" y2="92.20" stroke="#222" stroke-width="0.6"/>
<line x1="126.70" y1="90.20" x2="126.70" y2="92.20" stroke="#222" stroke-width="0.6"/>
<line x1="141.50" y1="90.20" x2="141.50" y2="92.20" stroke="#222" stroke-width="0.6"/>
<line x1="156.30" y1="90.20" x2="156.30" y2="92.20" stroke="#222" stroke-width="0.6"/>
<line x1="131.16" y1="90.20" x2="131.16" y2="91.30" stroke="#333" stroke-width="0.45"/>
<line x1="145.96" y1="90.20" x2="145.96" y2="91.30" stroke="#333" stroke-width="0.45"/>
<line x1="133.76" y1="90.20" x2="133.76" y2="91.30" stroke="#333" stroke-width="0.45"/>
<line x1="148.56" y1="90.20" x2="148.56" y2="91.30" stroke="#333" stroke-width="0.45"/>
<line x1="135.61" y1="90.20" x2="135.61" y2="91.30" stroke="#333" stroke-width="0.45"/>
<line x1="150.41" y1="90.20" x2="150.41" y2="91.30" stroke="#333" stroke-width="0.45"/>
<line x1="137.04" y1="90.20" x2="137.04" y2="91.30" stroke="#333" stroke-width="0.45"/>
<line x1="151.84" y1="90.20" x2="151.84" y2="91.30" stroke="#333" stroke-width="0.45"/>
<line x1="138.22" y1="90.20" x2="138.22" y2="91.30" stroke="#333" stroke-width="0.45"/>
<line x1="153.02" y1="90.20" x2="153.02" y2="91.30" stroke="#333" stroke-width="0.45"/>
<line x1="139.21" y1="90.20" x2="139.21" y2="91.30" stroke="#333" stroke-width="0.45"/>
<line x1="154.01" y1="90.20" x2="154.01" y2="91.30" stroke="#333" stroke-width="0.45"/>
<line x1="140.07" y1="90.20" x2="140.07" y2="91.30" stroke="#333" stroke-width="0.45"/>
<line x1="154.87" y1="90.20" x2="154.87" y2="91.30" stroke="#333" stroke-width="0.45"/>
<line x1="140.82" y1="90.20" x2="140.82" y2="91.30" stroke="#333" stroke-width="0.45"/>
<line x1="155.62" y1="90.20" x2="155.62" y2="91.30" stroke="#333" stroke-width="0.45"/>
<line x1="110.10" y1="90.20" x2="110.10" y2="91.30" stroke="#333" stroke-width="0.45"/>
<line x1="112.30" y1="90.20" x2="112.30" y2="91.30" stroke="#333" stroke-width="0.45"/>
<line x1="114.50" y1="90.20" x2="114.50" y2="91.30" stroke="#333" stroke-width="0.45"/>
<line x1="118.20" y1="90.20" x2="118.20" y2="91.30" stroke="#333" stroke-width="0.45"/>
<line x1="119.90" y1="90.20" x2="119.90" y2="91.30" stroke="#333" stroke-width="0.45"/>
<line x1="121.60" y1="90.20" x2="121.60" y2="91.30" stroke="#333" stroke-width="0.45"/>
<line x1="123.40" y1="90.20" x2="123.40" y2="91.30" stroke="#333" stroke-width="0.45"/>
<rect x="115.70" y="90.20" width="1.8" height="1.6" fill="#111"/>
<text x="99.80" y="104.30" font-size="7.3" fill="#222" textLength="15.0" lengthAdjust="spacingAndGlyphs">-10<tspan font-size="5.0" dy="-2.6">3</tspan></text>
<text x="115.00" y="104.30" font-size="7.3" fill="#222">0</text>
<text x="118.40" y="104.30" font-size="7.3" fill="#222" textLength="13.4" lengthAdjust="spacingAndGlyphs">10<tspan font-size="5.0" dy="-2.6">3</tspan></text>
<text x="136.20" y="104.30" font-size="7.3" fill="#222" textLength="12.6" lengthAdjust="spacingAndGlyphs">10<tspan font-size="5.0" dy="-2.6">4</tspan></text>
<text x="149.70" y="104.30" font-size="7.3" fill="#222" textLength="12.0" lengthAdjust="spacingAndGlyphs">10<tspan font-size="5.0" dy="-2.6">5</tspan></text>
<g filter="url(#bb)" transform="rotate(-30 125.70 52.60)"><ellipse cx="125.70" cy="52.60" rx="5.6" ry="10.0" fill="url(#blob)"/><ellipse cx="125.70" cy="52.60" rx="5.00" ry="9.40" fill="none" stroke="#111" stroke-width="0.9"/><ellipse cx="125.90" cy="52.00" rx="3.92" ry="7.20" fill="none" stroke="#111" stroke-width="0.6"/><ellipse cx="126.00" cy="51.60" rx="2.52" ry="4.80" fill="none" stroke="#222" stroke-width="0.5"/></g>
<circle cx="126.20" cy="50.50" r="0.8" fill="#fff" filter="url(#bb)"/>
<rect x="112.20" y="36.60" width="11.6" height="11.6" fill="#fdfeff" fill-opacity="0.93" stroke="#cf3d1c" stroke-width="1.25"/>
<rect x="126.40" y="53.30" width="11.8" height="11.8" fill="#fff" fill-opacity="0.85" stroke="#36208a" stroke-width="1.25"/>
<text x="140.20" y="36.60" font-size="4.3" text-anchor="middle" fill="#333" style="stroke:none" text-rendering="geometricPrecision" textLength="34.5" lengthAdjust="spacingAndGlyphs">CD5dim, CXCR4+</text>
<text x="140.20" y="41.70" font-size="4.3" text-anchor="middle" fill="#333" style="stroke:none" text-rendering="geometricPrecision" textLength="7.2" lengthAdjust="spacingAndGlyphs">10.7</text>
<text x="141.80" y="72.10" font-size="4.3" text-anchor="middle" fill="#333" style="stroke:none" text-rendering="geometricPrecision" textLength="35.5" lengthAdjust="spacingAndGlyphs">CD5+, CXCR4dim</text>
<text x="141.80" y="77.20" font-size="4.3" text-anchor="middle" fill="#333" style="stroke:none" text-rendering="geometricPrecision" textLength="7.2" lengthAdjust="spacingAndGlyphs">10.5</text>
<rect x="103.20" y="112.90" width="58.3" height="58.0" fill="#fff" stroke="#222" stroke-width="0.95"/>
<text x="84.40" y="122.20" font-size="7.3" fill="#222" textLength="11.4" lengthAdjust="spacingAndGlyphs">10<tspan font-size="5.0" dy="-2.6">5</tspan></text>
<line x1="100.60" y1="118.50" x2="103.20" y2="118.50" stroke="#222" stroke-width="0.7"/>
<text x="84.40" y="136.10" font-size="7.3" fill="#222" textLength="11.4" lengthAdjust="spacingAndGlyphs">10<tspan font-size="5.0" dy="-2.6">4</tspan></text>
<line x1="100.60" y1="132.40" x2="103.20" y2="132.40" stroke="#222" stroke-width="0.7"/>
<text x="84.40" y="152.30" font-size="7.3" fill="#222" textLength="11.4" lengthAdjust="spacingAndGlyphs">10<tspan font-size="5.0" dy="-2.6">3</tspan></text>
<line x1="100.60" y1="148.60" x2="103.20" y2="148.60" stroke="#222" stroke-width="0.7"/>
<text x="92.20" y="160.70" font-size="7.3" text-anchor="end" fill="#222" >0</text>
<line x1="100.60" y1="157.30" x2="103.20" y2="157.30" stroke="#222" stroke-width="0.7"/>
<text x="81.60" y="169.90" font-size="7.3" fill="#222" textLength="14.2" lengthAdjust="spacingAndGlyphs">-10<tspan font-size="5.0" dy="-2.6">3</tspan></text>
<line x1="100.60" y1="166.20" x2="103.20" y2="166.20" stroke="#222" stroke-width="0.7"/>
<line x1="102.00" y1="128.22" x2="103.20" y2="128.22" stroke="#444" stroke-width="0.45"/>
<line x1="102.00" y1="125.77" x2="103.20" y2="125.77" stroke="#444" stroke-width="0.45"/>
<line x1="102.00" y1="124.03" x2="103.20" y2="124.03" stroke="#444" stroke-width="0.45"/>
<line x1="102.00" y1="122.68" x2="103.20" y2="122.68" stroke="#444" stroke-width="0.45"/>
<line x1="102.00" y1="121.58" x2="103.20" y2="121.58" stroke="#444" stroke-width="0.45"/>
<line x1="102.00" y1="120.65" x2="103.20" y2="120.65" stroke="#444" stroke-width="0.45"/>
<line x1="102.00" y1="119.85" x2="103.20" y2="119.85" stroke="#444" stroke-width="0.45"/>
<line x1="102.00" y1="119.14" x2="103.20" y2="119.14" stroke="#444" stroke-width="0.45"/>
<line x1="102.00" y1="142.54" x2="103.20" y2="142.54" stroke="#444" stroke-width="0.45"/>
<line x1="102.00" y1="139.98" x2="103.20" y2="139.98" stroke="#444" stroke-width="0.45"/>
<line x1="102.00" y1="138.17" x2="103.20" y2="138.17" stroke="#444" stroke-width="0.45"/>
<line x1="102.00" y1="136.76" x2="103.20" y2="136.76" stroke="#444" stroke-width="0.45"/>
<line x1="102.00" y1="135.62" x2="103.20" y2="135.62" stroke="#444" stroke-width="0.45"/>
<line x1="102.00" y1="134.65" x2="103.20" y2="134.65" stroke="#444" stroke-width="0.45"/>
<line x1="102.00" y1="133.81" x2="103.20" y2="133.81" stroke="#444" stroke-width="0.45"/>
<line x1="102.00" y1="133.06" x2="103.20" y2="133.06" stroke="#444" stroke-width="0.45"/>
<line x1="102.00" y1="152.40" x2="103.20" y2="152.40" stroke="#444" stroke-width="0.45"/>
<line x1="102.00" y1="161.80" x2="103.20" y2="161.80" stroke="#444" stroke-width="0.45"/>
<line x1="102.00" y1="164.00" x2="103.20" y2="164.00" stroke="#444" stroke-width="0.45"/>
<rect x="101.40" y="156.60" width="1.8" height="1.6" fill="#111"/>
<line x1="107.70" y1="170.90" x2="107.70" y2="172.90" stroke="#222" stroke-width="0.6"/>
<line x1="116.40" y1="170.90" x2="116.40" y2="172.90" stroke="#222" stroke-width="0.6"/>
<line x1="126.50" y1="170.90" x2="126.50" y2="172.90" stroke="#222" stroke-width="0.6"/>
<line x1="141.30" y1="170.90" x2="141.30" y2="172.90" stroke="#222" stroke-width="0.6"/>
<line x1="156.10" y1="170.90" x2="156.10" y2="172.90" stroke="#222" stroke-width="0.6"/>
<line x1="130.96" y1="170.90" x2="130.96" y2="172.00" stroke="#333" stroke-width="0.45"/>
<line x1="145.76" y1="170.90" x2="145.76" y2="172.00" stroke="#333" stroke-width="0.45"/>
<line x1="133.56" y1="170.90" x2="133.56" y2="172.00" stroke="#333" stroke-width="0.45"/>
<line x1="148.36" y1="170.90" x2="148.36" y2="172.00" stroke="#333" stroke-width="0.45"/>
<line x1="135.41" y1="170.90" x2="135.41" y2="172.00" stroke="#333" stroke-width="0.45"/>
<line x1="150.21" y1="170.90" x2="150.21" y2="172.00" stroke="#333" stroke-width="0.45"/>
<line x1="136.84" y1="170.90" x2="136.84" y2="172.00" stroke="#333" stroke-width="0.45"/>
<line x1="151.64" y1="170.90" x2="151.64" y2="172.00" stroke="#333" stroke-width="0.45"/>
<line x1="138.02" y1="170.90" x2="138.02" y2="172.00" stroke="#333" stroke-width="0.45"/>
<line x1="152.82" y1="170.90" x2="152.82" y2="172.00" stroke="#333" stroke-width="0.45"/>
<line x1="139.01" y1="170.90" x2="139.01" y2="172.00" stroke="#333" stroke-width="0.45"/>
<line x1="153.81" y1="170.90" x2="153.81" y2="172.00" stroke="#333" stroke-width="0.45"/>
<line x1="139.87" y1="170.90" x2="139.87" y2="172.00" stroke="#333" stroke-width="0.45"/>
<line x1="154.67" y1="170.90" x2="154.67" y2="172.00" stroke="#333" stroke-width="0.45"/>
<line x1="140.62" y1="170.90" x2="140.62" y2="172.00" stroke="#333" stroke-width="0.45"/>
<line x1="155.42" y1="170.90" x2="155.42" y2="172.00" stroke="#333" stroke-width="0.45"/>
<line x1="109.90" y1="170.90" x2="109.90" y2="172.00" stroke="#333" stroke-width="0.45"/>
<line x1="112.10" y1="170.90" x2="112.10" y2="172.00" stroke="#333" stroke-width="0.45"/>
<line x1="114.30" y1="170.90" x2="114.30" y2="172.00" stroke="#333" stroke-width="0.45"/>
<line x1="118.00" y1="170.90" x2="118.00" y2="172.00" stroke="#333" stroke-width="0.45"/>
<line x1="119.70" y1="170.90" x2="119.70" y2="172.00" stroke="#333" stroke-width="0.45"/>
<line x1="121.40" y1="170.90" x2="121.40" y2="172.00" stroke="#333" stroke-width="0.45"/>
<line x1="123.20" y1="170.90" x2="123.20" y2="172.00" stroke="#333" stroke-width="0.45"/>
<rect x="115.50" y="170.90" width="1.8" height="1.6" fill="#111"/>
<text x="99.60" y="185.00" font-size="7.3" fill="#222" textLength="15.0" lengthAdjust="spacingAndGlyphs">-10<tspan font-size="5.0" dy="-2.6">3</tspan></text>
<text x="114.80" y="185.00" font-size="7.3" fill="#222">0</text>
<text x="118.20" y="185.00" font-size="7.3" fill="#222" textLength="13.4" lengthAdjust="spacingAndGlyphs">10<tspan font-size="5.0" dy="-2.6">3</tspan></text>
<text x="136.00" y="185.00" font-size="7.3" fill="#222" textLength="12.6" lengthAdjust="spacingAndGlyphs">10<tspan font-size="5.0" dy="-2.6">4</tspan></text>
<text x="149.50" y="185.00" font-size="7.3" fill="#222" textLength="12.0" lengthAdjust="spacingAndGlyphs">10<tspan font-size="5.0" dy="-2.6">5</tspan></text>
<g filter="url(#bb)" transform="rotate(-15 124.80 132.60)"><ellipse cx="124.80" cy="132.60" rx="5.9" ry="8.4" fill="url(#blob)"/><ellipse cx="124.80" cy="132.60" rx="5.30" ry="7.80" fill="none" stroke="#111" stroke-width="0.9"/><ellipse cx="125.00" cy="132.00" rx="4.13" ry="6.05" fill="none" stroke="#111" stroke-width="0.6"/><ellipse cx="125.10" cy="131.60" rx="2.66" ry="4.03" fill="none" stroke="#222" stroke-width="0.5"/></g>
<circle cx="125.40" cy="131.80" r="0.8" fill="#fff" filter="url(#bb)"/>
<rect x="112.70" y="118.20" width="11.6" height="11.6" fill="#fdfeff" fill-opacity="0.93" stroke="#cf3d1c" stroke-width="1.25"/>
<rect x="126.20" y="133.40" width="11.8" height="11.8" fill="#fff" fill-opacity="0.85" stroke="#36208a" stroke-width="1.25"/>
<text x="140.00" y="117.30" font-size="4.3" text-anchor="middle" fill="#333" style="stroke:none" text-rendering="geometricPrecision" textLength="34.5" lengthAdjust="spacingAndGlyphs">CD5dim, CXCR4+</text>
<text x="140.00" y="122.40" font-size="4.3" text-anchor="middle" fill="#333" style="stroke:none" text-rendering="geometricPrecision" textLength="7.2" lengthAdjust="spacingAndGlyphs">10.9</text>
<text x="139.80" y="152.80" font-size="4.3" text-anchor="middle" fill="#333" style="stroke:none" text-rendering="geometricPrecision" textLength="35.5" lengthAdjust="spacingAndGlyphs">CD5+, CXCR4dim</text>
<text x="139.80" y="157.90" font-size="4.3" text-anchor="middle" fill="#333" style="stroke:none" text-rendering="geometricPrecision" textLength="7.2" lengthAdjust="spacingAndGlyphs">10.3</text>
<rect x="102.50" y="193.80" width="58.3" height="58.0" fill="#fff" stroke="#222" stroke-width="0.95"/>
<text x="83.70" y="203.10" font-size="7.3" fill="#222" textLength="11.4" lengthAdjust="spacingAndGlyphs">10<tspan font-size="5.0" dy="-2.6">5</tspan></text>
<line x1="99.90" y1="199.40" x2="102.50" y2="199.40" stroke="#222" stroke-width="0.7"/>
<text x="83.70" y="217.00" font-size="7.3" fill="#222" textLength="11.4" lengthAdjust="spacingAndGlyphs">10<tspan font-size="5.0" dy="-2.6">4</tspan></text>
<line x1="99.90" y1="213.30" x2="102.50" y2="213.30" stroke="#222" stroke-width="0.7"/>
<text x="83.70" y="233.20" font-size="7.3" fill="#222" textLength="11.4" lengthAdjust="spacingAndGlyphs">10<tspan font-size="5.0" dy="-2.6">3</tspan></text>
<line x1="99.90" y1="229.50" x2="102.50" y2="229.50" stroke="#222" stroke-width="0.7"/>
<text x="91.50" y="241.60" font-size="7.3" text-anchor="end" fill="#222" >0</text>
<line x1="99.90" y1="238.20" x2="102.50" y2="238.20" stroke="#222" stroke-width="0.7"/>
<text x="80.90" y="250.80" font-size="7.3" fill="#222" textLength="14.2" lengthAdjust="spacingAndGlyphs">-10<tspan font-size="5.0" dy="-2.6">3</tspan></text>
<line x1="99.90" y1="247.10" x2="102.50" y2="247.10" stroke="#222" stroke-width="0.7"/>
<line x1="101.30" y1="209.12" x2="102.50" y2="209.12" stroke="#444" stroke-width="0.45"/>
<line x1="101.30" y1="206.67" x2="102.50" y2="206.67" stroke="#444" stroke-width="0.45"/>
<line x1="101.30" y1="204.93" x2="102.50" y2="204.93" stroke="#444" stroke-width="0.45"/>
<line x1="101.30" y1="203.58" x2="102.50" y2="203.58" stroke="#444" stroke-width="0.45"/>
<line x1="101.30" y1="202.48" x2="102.50" y2="202.48" stroke="#444" stroke-width="0.45"/>
<line x1="101.30" y1="201.55" x2="102.50" y2="201.55" stroke="#444" stroke-width="0.45"/>
<line x1="101.30" y1="200.75" x2="102.50" y2="200.75" stroke="#444" stroke-width="0.45"/>
<line x1="101.30" y1="200.04" x2="102.50" y2="200.04" stroke="#444" stroke-width="0.45"/>
<line x1="101.30" y1="223.44" x2="102.50" y2="223.44" stroke="#444" stroke-width="0.45"/>
<line x1="101.30" y1="220.88" x2="102.50" y2="220.88" stroke="#444" stroke-width="0.45"/>
<line x1="101.30" y1="219.07" x2="102.50" y2="219.07" stroke="#444" stroke-width="0.45"/>
<line x1="101.30" y1="217.66" x2="102.50" y2="217.66" stroke="#444" stroke-width="0.45"/>
<line x1="101.30" y1="216.52" x2="102.50" y2="216.52" stroke="#444" stroke-width="0.45"/>
<line x1="101.30" y1="215.55" x2="102.50" y2="215.55" stroke="#444" stroke-width="0.45"/>
<line x1="101.30" y1="214.71" x2="102.50" y2="214.71" stroke="#444" stroke-width="0.45"/>
<line x1="101.30" y1="213.96" x2="102.50" y2="213.96" stroke="#444" stroke-width="0.45"/>
<line x1="101.30" y1="233.30" x2="102.50" y2="233.30" stroke="#444" stroke-width="0.45"/>
<line x1="101.30" y1="242.70" x2="102.50" y2="242.70" stroke="#444" stroke-width="0.45"/>
<line x1="101.30" y1="244.90" x2="102.50" y2="244.90" stroke="#444" stroke-width="0.45"/>
<rect x="100.70" y="237.50" width="1.8" height="1.6" fill="#111"/>
<line x1="107.00" y1="251.80" x2="107.00" y2="253.80" stroke="#222" stroke-width="0.6"/>
<line x1="115.70" y1="251.80" x2="115.70" y2="253.80" stroke="#222" stroke-width="0.6"/>
<line x1="125.80" y1="251.80" x2="125.80" y2="253.80" stroke="#222" stroke-width="0.6"/>
<line x1="140.60" y1="251.80" x2="140.60" y2="253.80" stroke="#222" stroke-width="0.6"/>
<line x1="155.40" y1="251.80" x2="155.40" y2="253.80" stroke="#222" stroke-width="0.6"/>
<line x1="130.26" y1="251.80" x2="130.26" y2="252.90" stroke="#333" stroke-width="0.45"/>
<line x1="145.06" y1="251.80" x2="145.06" y2="252.90" stroke="#333" stroke-width="0.45"/>
<line x1="132.86" y1="251.80" x2="132.86" y2="252.90" stroke="#333" stroke-width="0.45"/>
<line x1="147.66" y1="251.80" x2="147.66" y2="252.90" stroke="#333" stroke-width="0.45"/>
<line x1="134.71" y1="251.80" x2="134.71" y2="252.90" stroke="#333" stroke-width="0.45"/>
<line x1="149.51" y1="251.80" x2="149.51" y2="252.90" stroke="#333" stroke-width="0.45"/>
<line x1="136.14" y1="251.80" x2="136.14" y2="252.90" stroke="#333" stroke-width="0.45"/>
<line x1="150.94" y1="251.80" x2="150.94" y2="252.90" stroke="#333" stroke-width="0.45"/>
<line x1="137.32" y1="251.80" x2="137.32" y2="252.90" stroke="#333" stroke-width="0.45"/>
<line x1="152.12" y1="251.80" x2="152.12" y2="252.90" stroke="#333" stroke-width="0.45"/>
<line x1="138.31" y1="251.80" x2="138.31" y2="252.90" stroke="#333" stroke-width="0.45"/>
<line x1="153.11" y1="251.80" x2="153.11" y2="252.90" stroke="#333" stroke-width="0.45"/>
<line x1="139.17" y1="251.80" x2="139.17" y2="252.90" stroke="#333" stroke-width="0.45"/>
<line x1="153.97" y1="251.80" x2="153.97" y2="252.90" stroke="#333" stroke-width="0.45"/>
<line x1="139.92" y1="251.80" x2="139.92" y2="252.90" stroke="#333" stroke-width="0.45"/>
<line x1="154.72" y1="251.80" x2="154.72" y2="252.90" stroke="#333" stroke-width="0.45"/>
<line x1="109.20" y1="251.80" x2="109.20" y2="252.90" stroke="#333" stroke-width="0.45"/>
<line x1="111.40" y1="251.80" x2="111.40" y2="252.90" stroke="#333" stroke-width="0.45"/>
<line x1="113.60" y1="251.80" x2="113.60" y2="252.90" stroke="#333" stroke-width="0.45"/>
<line x1="117.30" y1="251.80" x2="117.30" y2="252.90" stroke="#333" stroke-width="0.45"/>
<line x1="119.00" y1="251.80" x2="119.00" y2="252.90" stroke="#333" stroke-width="0.45"/>
<line x1="120.70" y1="251.80" x2="120.70" y2="252.90" stroke="#333" stroke-width="0.45"/>
<line x1="122.50" y1="251.80" x2="122.50" y2="252.90" stroke="#333" stroke-width="0.45"/>
<rect x="114.80" y="251.80" width="1.8" height="1.6" fill="#111"/>
<text x="98.90" y="265.90" font-size="7.3" fill="#222" textLength="15.0" lengthAdjust="spacingAndGlyphs">-10<tspan font-size="5.0" dy="-2.6">3</tspan></text>
<text x="114.10" y="265.90" font-size="7.3" fill="#222">0</text>
<text x="117.50" y="265.90" font-size="7.3" fill="#222" textLength="13.4" lengthAdjust="spacingAndGlyphs">10<tspan font-size="5.0" dy="-2.6">3</tspan></text>
<text x="135.30" y="265.90" font-size="7.3" fill="#222" textLength="12.6" lengthAdjust="spacingAndGlyphs">10<tspan font-size="5.0" dy="-2.6">4</tspan></text>
<text x="148.80" y="265.90" font-size="7.3" fill="#222" textLength="12.0" lengthAdjust="spacingAndGlyphs">10<tspan font-size="5.0" dy="-2.6">5</tspan></text>
<g filter="url(#bb)" transform="rotate(-15 123.60 215.50)"><ellipse cx="123.60" cy="215.50" rx="5.8" ry="8.5" fill="url(#blob)"/><ellipse cx="123.60" cy="215.50" rx="5.20" ry="7.90" fill="none" stroke="#111" stroke-width="0.9"/><ellipse cx="123.80" cy="214.90" rx="4.06" ry="6.12" fill="none" stroke="#111" stroke-width="0.6"/><ellipse cx="123.90" cy="214.50" rx="2.61" ry="4.08" fill="none" stroke="#222" stroke-width="0.5"/></g>
<circle cx="124.20" cy="214.20" r="0.8" fill="#fff" filter="url(#bb)"/>
<rect x="111.10" y="201.20" width="11.6" height="11.6" fill="#fdfeff" fill-opacity="0.93" stroke="#cf3d1c" stroke-width="1.25"/>
<rect x="124.80" y="215.40" width="11.8" height="11.8" fill="#fff" fill-opacity="0.85" stroke="#36208a" stroke-width="1.25"/>
<text x="139.30" y="198.20" font-size="4.3" text-anchor="middle" fill="#333" style="stroke:none" text-rendering="geometricPrecision" textLength="34.5" lengthAdjust="spacingAndGlyphs">CD5dim, CXCR4+</text>
<text x="139.30" y="203.30" font-size="4.3" text-anchor="middle" fill="#333" style="stroke:none" text-rendering="geometricPrecision" textLength="7.2" lengthAdjust="spacingAndGlyphs">10.5</text>
<text x="139.10" y="233.70" font-size="4.3" text-anchor="middle" fill="#333" style="stroke:none" text-rendering="geometricPrecision" textLength="35.5" lengthAdjust="spacingAndGlyphs">CD5+, CXCR4dim</text>
<text x="139.10" y="238.80" font-size="4.3" text-anchor="middle" fill="#333" style="stroke:none" text-rendering="geometricPrecision" textLength="7.2" lengthAdjust="spacingAndGlyphs">10.2</text>
<line x1="422.8" y1="136.4" x2="442.8" y2="136.4" stroke="#3b5a9b" stroke-width="1"/>
<line x1="422.8" y1="160.2" x2="442.8" y2="160.2" stroke="#c8234c" stroke-width="1"/>
<text x="445.8" y="137.2" font-size="8.8" fill="#333" textLength="59.2" lengthAdjust="spacingAndGlyphs">CXCR4<tspan font-size="5.9" dy="-3.5">high</tspan><tspan dy="3.5">CD5</tspan><tspan font-size="5.9" dy="-3.5">dim</tspan></text>
<text x="445.80" y="145.80" font-size="8.8" text-anchor="start" fill="#333" textLength="67.0" lengthAdjust="spacingAndGlyphs" >immigrant CLL cells</text>
<text x="445.8" y="160.6" font-size="8.8" fill="#333" textLength="60.2" lengthAdjust="spacingAndGlyphs">CXCR4<tspan font-size="5.9" dy="-3.5">dim</tspan><tspan dy="3.5">CD5</tspan><tspan font-size="5.9" dy="-3.5">high</tspan></text>
<text x="445.80" y="169.00" font-size="8.8" text-anchor="start" fill="#333" textLength="63.0" lengthAdjust="spacingAndGlyphs" >emigrant CLL cells</text>
<text x="7.50" y="313.70" font-size="12" text-anchor="start" fill="#111" font-weight="bold" textLength="7.9" lengthAdjust="spacingAndGlyphs" >B</text>
<line x1="48.10" y1="324.10" x2="48.10" y2="430.50" stroke="#333" stroke-width="1.1"/>
<line x1="47.60" y1="430.50" x2="152.50" y2="430.50" stroke="#333" stroke-width="1.1"/>
<line x1="45.00" y1="430.50" x2="48.10" y2="430.50" stroke="#333" stroke-width="0.9"/>
<text x="42.20" y="433.20" font-size="7.6" text-anchor="end" fill="#333" textLength="4.6" lengthAdjust="spacingAndGlyphs" >0</text>
<line x1="45.00" y1="404.65" x2="48.10" y2="404.65" stroke="#333" stroke-width="0.9"/>
<text x="42.20" y="407.35" font-size="7.6" text-anchor="end" fill="#333" textLength="13.799999999999999" lengthAdjust="spacingAndGlyphs" >100</text>
<line x1="45.00" y1="378.80" x2="48.10" y2="378.80" stroke="#333" stroke-width="0.9"/>
<text x="42.20" y="381.50" font-size="7.6" text-anchor="end" fill="#333" textLength="13.799999999999999" lengthAdjust="spacingAndGlyphs" >200</text>
<line x1="45.00" y1="352.95" x2="48.10" y2="352.95" stroke="#333" stroke-width="0.9"/>
<text x="42.20" y="355.65" font-size="7.6" text-anchor="end" fill="#333" textLength="13.799999999999999" lengthAdjust="spacingAndGlyphs" >300</text>
<line x1="45.00" y1="327.10" x2="48.10" y2="327.10" stroke="#333" stroke-width="0.9"/>
<text x="42.20" y="329.80" font-size="7.6" text-anchor="end" fill="#333" textLength="13.799999999999999" lengthAdjust="spacingAndGlyphs" >400</text>
<line x1="73.80" y1="430.50" x2="73.80" y2="433.10" stroke="#333" stroke-width="0.9"/>
<line x1="125.30" y1="430.50" x2="125.30" y2="433.10" stroke="#333" stroke-width="0.9"/>
<text x="73.80" y="443.50" font-size="8.5" text-anchor="middle" fill="#333" textLength="30.4" lengthAdjust="spacingAndGlyphs" >Baseline</text>
<text x="125.30" y="443.50" font-size="8.5" text-anchor="middle" fill="#333" textLength="31.0" lengthAdjust="spacingAndGlyphs" >Ibrutinib</text>
<text x="0" y="0" font-size="10.8" fill="#333" text-anchor="middle" transform="translate(23.60 377.6) rotate(-90)" textLength="28.2" lengthAdjust="spacingAndGlyphs">% MCL-1</text>
<line x1="73.30" y1="324.60" x2="126.70" y2="324.60" stroke="#5a5a5a" stroke-width="1.2"/>
<text x="99.75" y="320.60" font-size="7.5" text-anchor="middle" fill="#333" textLength="28.0" lengthAdjust="spacingAndGlyphs" >p&lt;0.001</text>
<line x1="73.80" y1="404.65" x2="125.30" y2="385.26" stroke="#62aa35" stroke-width="1.35" stroke-dasharray="2.8 2"/>
<line x1="73.80" y1="404.65" x2="125.30" y2="401.03" stroke="#b70a32" stroke-width="1.35" stroke-dasharray="2.8 2"/>
<line x1="73.80" y1="404.65" x2="125.30" y2="406.72" stroke="#1f3b85" stroke-width="1.35" stroke-dasharray="2.8 2"/>
<line x1="73.80" y1="404.65" x2="125.30" y2="409.04" stroke="#62aa35" stroke-width="1.35" stroke-dasharray="2.8 2"/>
<line x1="73.80" y1="404.65" x2="125.30" y2="410.85" stroke="#b70a32" stroke-width="1.35" stroke-dasharray="2.8 2"/>
<line x1="73.80" y1="404.65" x2="125.30" y2="412.40" stroke="#1f3b85" stroke-width="1.35" stroke-dasharray="2.8 2"/>
<line x1="73.80" y1="404.65" x2="125.30" y2="413.70" stroke="#b70a32" stroke-width="1.35" stroke-dasharray="2.8 2"/>
<line x1="73.80" y1="404.65" x2="125.30" y2="415.51" stroke="#1f3b85" stroke-width="1.35" stroke-dasharray="2.8 2"/>
<line x1="73.80" y1="404.65" x2="125.30" y2="417.57" stroke="#b70a32" stroke-width="1.35" stroke-dasharray="2.8 2"/>
<line x1="73.80" y1="404.65" x2="125.30" y2="418.87" stroke="#1f3b85" stroke-width="1.35" stroke-dasharray="2.8 2"/>
<line x1="73.80" y1="404.65" x2="125.30" y2="419.64" stroke="#b70a32" stroke-width="1.35" stroke-dasharray="2.8 2"/>
<line x1="73.80" y1="404.65" x2="125.30" y2="420.68" stroke="#1f3b85" stroke-width="1.35" stroke-dasharray="2.8 2"/>
<line x1="73.80" y1="404.65" x2="125.30" y2="412.40" stroke="#62aa35" stroke-width="1.35" stroke-dasharray="2.8 2"/>
<line x1="73.80" y1="341.32" x2="125.30" y2="354.24" stroke="#62aa35" stroke-width="1.05"/>
<line x1="73.80" y1="355.79" x2="125.30" y2="390.17" stroke="#62aa35" stroke-width="1.05"/>
<line x1="73.80" y1="358.64" x2="125.30" y2="416.28" stroke="#b70a32" stroke-width="1.05"/>
<line x1="73.80" y1="363.29" x2="125.30" y2="402.06" stroke="#1f3b85" stroke-width="1.05"/>
<line x1="73.80" y1="366.65" x2="125.30" y2="414.47" stroke="#b70a32" stroke-width="1.05"/>
<line x1="73.80" y1="370.27" x2="125.30" y2="405.68" stroke="#1f3b85" stroke-width="1.05"/>
<line x1="73.80" y1="372.08" x2="125.30" y2="399.48" stroke="#1f3b85" stroke-width="1.05"/>
<line x1="73.80" y1="374.15" x2="125.30" y2="403.36" stroke="#1f3b85" stroke-width="1.05"/>
<line x1="73.80" y1="376.21" x2="125.30" y2="397.15" stroke="#1f3b85" stroke-width="1.05"/>
<line x1="73.80" y1="378.02" x2="125.30" y2="366.13" stroke="#1f3b85" stroke-width="1.05"/>
<line x1="73.80" y1="379.06" x2="125.30" y2="374.15" stroke="#b70a32" stroke-width="1.05"/>
<line x1="73.80" y1="379.06" x2="125.30" y2="409.30" stroke="#1f3b85" stroke-width="1.05"/>
<line x1="73.80" y1="386.56" x2="125.30" y2="404.65" stroke="#1f3b85" stroke-width="1.05"/>
<line x1="73.80" y1="387.33" x2="125.30" y2="421.71" stroke="#1f3b85" stroke-width="1.05"/>
<line x1="73.80" y1="368.46" x2="125.30" y2="411.89" stroke="#1f3b85" stroke-width="1.05"/>
<circle cx="73.80" cy="363.29" r="1.9" fill="#1f3b85"/>
<circle cx="125.30" cy="402.06" r="1.9" fill="#1f3b85"/>
<circle cx="73.80" cy="370.27" r="1.9" fill="#1f3b85"/>
<circle cx="125.30" cy="405.68" r="1.9" fill="#1f3b85"/>
<circle cx="73.80" cy="372.08" r="1.9" fill="#1f3b85"/>
<circle cx="125.30" cy="399.48" r="1.9" fill="#1f3b85"/>
<circle cx="73.80" cy="374.15" r="1.9" fill="#1f3b85"/>
<circle cx="125.30" cy="403.36" r="1.9" fill="#1f3b85"/>
<circle cx="73.80" cy="376.21" r="1.9" fill="#1f3b85"/>
<circle cx="125.30" cy="397.15" r="1.9" fill="#1f3b85"/>
<circle cx="73.80" cy="378.02" r="1.9" fill="#1f3b85"/>
<circle cx="125.30" cy="366.13" r="1.9" fill="#1f3b85"/>
<circle cx="73.80" cy="379.06" r="1.9" fill="#1f3b85"/>
<circle cx="125.30" cy="409.30" r="1.9" fill="#1f3b85"/>
<circle cx="73.80" cy="386.56" r="1.9" fill="#1f3b85"/>
<circle cx="125.30" cy="404.65" r="1.9" fill="#1f3b85"/>
<circle cx="73.80" cy="387.33" r="1.9" fill="#1f3b85"/>
<circle cx="125.30" cy="421.71" r="1.9" fill="#1f3b85"/>
<circle cx="73.80" cy="368.46" r="1.9" fill="#1f3b85"/>
<circle cx="125.30" cy="411.89" r="1.9" fill="#1f3b85"/>
<circle cx="73.80" cy="404.65" r="1.9" fill="#1f3b85"/>
<circle cx="125.30" cy="406.72" r="1.9" fill="#1f3b85"/>
<circle cx="73.80" cy="404.65" r="1.9" fill="#1f3b85"/>
<circle cx="125.30" cy="412.40" r="1.9" fill="#1f3b85"/>
<circle cx="73.80" cy="404.65" r="1.9" fill="#1f3b85"/>
<circle cx="125.30" cy="415.51" r="1.9" fill="#1f3b85"/>
<circle cx="73.80" cy="404.65" r="1.9" fill="#1f3b85"/>
<circle cx="125.30" cy="418.87" r="1.9" fill="#1f3b85"/>
<circle cx="73.80" cy="404.65" r="1.9" fill="#1f3b85"/>
<circle cx="125.30" cy="420.68" r="1.9" fill="#1f3b85"/>
<circle cx="73.80" cy="358.64" r="1.9" fill="#b70a32"/>
<circle cx="125.30" cy="416.28" r="1.9" fill="#b70a32"/>
<circle cx="73.80" cy="366.65" r="1.9" fill="#b70a32"/>
<circle cx="125.30" cy="414.47" r="1.9" fill="#b70a32"/>
<circle cx="73.80" cy="379.06" r="1.9" fill="#b70a32"/>
<circle cx="125.30" cy="374.15" r="1.9" fill="#b70a32"/>
<circle cx="73.80" cy="404.65" r="1.9" fill="#b70a32"/>
<circle cx="125.30" cy="401.03" r="1.9" fill="#b70a32"/>
<circle cx="73.80" cy="404.65" r="1.9" fill="#b70a32"/>
<circle cx="125.30" cy="410.85" r="1.9" fill="#b70a32"/>
<circle cx="73.80" cy="404.65" r="1.9" fill="#b70a32"/>
<circle cx="125.30" cy="413.70" r="1.9" fill="#b70a32"/>
<circle cx="73.80" cy="404.65" r="1.9" fill="#b70a32"/>
<circle cx="125.30" cy="417.57" r="1.9" fill="#b70a32"/>
<circle cx="73.80" cy="404.65" r="1.9" fill="#b70a32"/>
<circle cx="125.30" cy="419.64" r="1.9" fill="#b70a32"/>
<circle cx="73.80" cy="341.32" r="1.9" fill="#62aa35"/>
<circle cx="125.30" cy="354.24" r="1.9" fill="#62aa35"/>
<circle cx="73.80" cy="355.79" r="1.9" fill="#62aa35"/>
<circle cx="125.30" cy="390.17" r="1.9" fill="#62aa35"/>
<circle cx="73.80" cy="404.65" r="1.9" fill="#62aa35"/>
<circle cx="125.30" cy="385.26" r="1.9" fill="#62aa35"/>
<circle cx="73.80" cy="404.65" r="1.9" fill="#62aa35"/>
<circle cx="125.30" cy="409.04" r="1.9" fill="#62aa35"/>
<circle cx="73.80" cy="404.65" r="1.9" fill="#62aa35"/>
<circle cx="125.30" cy="412.40" r="1.9" fill="#62aa35"/>
<line x1="191.90" y1="323.19" x2="191.90" y2="430.20" stroke="#333" stroke-width="1.1"/>
<line x1="191.40" y1="430.20" x2="295.00" y2="430.20" stroke="#333" stroke-width="1.1"/>
<line x1="188.80" y1="430.20" x2="191.90" y2="430.20" stroke="#333" stroke-width="0.9"/>
<text x="186.00" y="432.90" font-size="7.6" text-anchor="end" fill="#333" textLength="4.6" lengthAdjust="spacingAndGlyphs" >0</text>
<line x1="188.80" y1="395.53" x2="191.90" y2="395.53" stroke="#333" stroke-width="0.9"/>
<text x="186.00" y="398.23" font-size="7.6" text-anchor="end" fill="#333" textLength="13.799999999999999" lengthAdjust="spacingAndGlyphs" >100</text>
<line x1="188.80" y1="360.86" x2="191.90" y2="360.86" stroke="#333" stroke-width="0.9"/>
<text x="186.00" y="363.56" font-size="7.6" text-anchor="end" fill="#333" textLength="13.799999999999999" lengthAdjust="spacingAndGlyphs" >200</text>
<line x1="188.80" y1="326.19" x2="191.90" y2="326.19" stroke="#333" stroke-width="0.9"/>
<text x="186.00" y="328.89" font-size="7.6" text-anchor="end" fill="#333" textLength="13.799999999999999" lengthAdjust="spacingAndGlyphs" >300</text>
<line x1="217.40" y1="430.20" x2="217.40" y2="432.80" stroke="#333" stroke-width="0.9"/>
<line x1="269.90" y1="430.20" x2="269.90" y2="432.80" stroke="#333" stroke-width="0.9"/>
<text x="217.40" y="443.20" font-size="8.5" text-anchor="middle" fill="#333" textLength="30.4" lengthAdjust="spacingAndGlyphs" >Baseline</text>
<text x="269.90" y="443.20" font-size="8.5" text-anchor="middle" fill="#333" textLength="31.0" lengthAdjust="spacingAndGlyphs" >Ibrutinib</text>
<text x="0" y="0" font-size="10.8" fill="#333" text-anchor="middle" transform="translate(167.00 377.6) rotate(-90)" textLength="30.8" lengthAdjust="spacingAndGlyphs">% BCL-XL</text>
<line x1="216.90" y1="324.60" x2="271.30" y2="324.60" stroke="#5a5a5a" stroke-width="1.2"/>
<text x="243.85" y="320.60" font-size="7.5" text-anchor="middle" fill="#333" textLength="28.0" lengthAdjust="spacingAndGlyphs" >p&lt;0.001</text>
<line x1="217.40" y1="395.53" x2="269.90" y2="374.03" stroke="#62aa35" stroke-width="1.35" stroke-dasharray="2.8 2"/>
<line x1="217.40" y1="395.53" x2="269.90" y2="399.00" stroke="#1f3b85" stroke-width="1.35" stroke-dasharray="2.8 2"/>
<line x1="217.40" y1="395.53" x2="269.90" y2="404.20" stroke="#b70a32" stroke-width="1.35" stroke-dasharray="2.8 2"/>
<line x1="217.40" y1="395.53" x2="269.90" y2="405.93" stroke="#1f3b85" stroke-width="1.35" stroke-dasharray="2.8 2"/>
<line x1="217.40" y1="395.53" x2="269.90" y2="408.70" stroke="#1f3b85" stroke-width="1.35" stroke-dasharray="2.8 2"/>
<line x1="217.40" y1="395.53" x2="269.90" y2="410.09" stroke="#b70a32" stroke-width="1.35" stroke-dasharray="2.8 2"/>
<line x1="217.40" y1="395.53" x2="269.90" y2="412.17" stroke="#1f3b85" stroke-width="1.35" stroke-dasharray="2.8 2"/>
<line x1="217.40" y1="395.53" x2="269.90" y2="414.60" stroke="#1f3b85" stroke-width="1.35" stroke-dasharray="2.8 2"/>
<line x1="217.40" y1="395.53" x2="269.90" y2="415.64" stroke="#b70a32" stroke-width="1.35" stroke-dasharray="2.8 2"/>
<line x1="217.40" y1="395.53" x2="269.90" y2="401.08" stroke="#62aa35" stroke-width="1.35" stroke-dasharray="2.8 2"/>
<line x1="217.40" y1="395.53" x2="269.90" y2="411.13" stroke="#1f3b85" stroke-width="1.35" stroke-dasharray="2.8 2"/>
<line x1="217.40" y1="395.53" x2="269.90" y2="413.56" stroke="#1f3b85" stroke-width="1.35" stroke-dasharray="2.8 2"/>
<line x1="217.40" y1="395.53" x2="269.90" y2="407.32" stroke="#1f3b85" stroke-width="1.35" stroke-dasharray="2.8 2"/>
<line x1="217.40" y1="395.53" x2="269.90" y2="403.16" stroke="#1f3b85" stroke-width="1.35" stroke-dasharray="2.8 2"/>
<line x1="217.40" y1="395.53" x2="269.90" y2="400.73" stroke="#1f3b85" stroke-width="1.35" stroke-dasharray="2.8 2"/>
<line x1="217.40" y1="395.53" x2="269.90" y2="409.40" stroke="#1f3b85" stroke-width="1.35" stroke-dasharray="2.8 2"/>
<line x1="217.40" y1="340.06" x2="269.90" y2="353.23" stroke="#62aa35" stroke-width="1.05"/>
<line x1="217.40" y1="346.99" x2="269.90" y2="376.46" stroke="#1f3b85" stroke-width="1.05"/>
<line x1="217.40" y1="355.66" x2="269.90" y2="379.93" stroke="#62aa35" stroke-width="1.05"/>
<line x1="217.40" y1="363.29" x2="269.90" y2="390.33" stroke="#1f3b85" stroke-width="1.05"/>
<line x1="217.40" y1="365.02" x2="269.90" y2="397.26" stroke="#1f3b85" stroke-width="1.05"/>
<line x1="217.40" y1="374.73" x2="269.90" y2="366.75" stroke="#1f3b85" stroke-width="1.05"/>
<line x1="217.40" y1="375.77" x2="269.90" y2="412.87" stroke="#b70a32" stroke-width="1.05"/>
<line x1="217.40" y1="378.19" x2="269.90" y2="382.36" stroke="#b70a32" stroke-width="1.05"/>
<line x1="217.40" y1="379.93" x2="269.90" y2="399.69" stroke="#1f3b85" stroke-width="1.05"/>
<line x1="217.40" y1="381.66" x2="269.90" y2="402.46" stroke="#1f3b85" stroke-width="1.05"/>
<line x1="217.40" y1="386.86" x2="269.90" y2="418.07" stroke="#b70a32" stroke-width="1.05"/>
<line x1="217.40" y1="388.60" x2="269.90" y2="393.80" stroke="#1f3b85" stroke-width="1.05"/>
<line x1="217.40" y1="385.13" x2="269.90" y2="407.66" stroke="#1f3b85" stroke-width="1.05"/>
<line x1="217.40" y1="381.66" x2="269.90" y2="414.60" stroke="#b70a32" stroke-width="1.05"/>
<circle cx="217.40" cy="346.99" r="1.9" fill="#1f3b85"/>
<circle cx="269.90" cy="376.46" r="1.9" fill="#1f3b85"/>
<circle cx="217.40" cy="363.29" r="1.9" fill="#1f3b85"/>
<circle cx="269.90" cy="390.33" r="1.9" fill="#1f3b85"/>
<circle cx="217.40" cy="365.02" r="1.9" fill="#1f3b85"/>
<circle cx="269.90" cy="397.26" r="1.9" fill="#1f3b85"/>
<circle cx="217.40" cy="374.73" r="1.9" fill="#1f3b85"/>
<circle cx="269.90" cy="366.75" r="1.9" fill="#1f3b85"/>
<circle cx="217.40" cy="379.93" r="1.9" fill="#1f3b85"/>
<circle cx="269.90" cy="399.69" r="1.9" fill="#1f3b85"/>
<circle cx="217.40" cy="381.66" r="1.9" fill="#1f3b85"/>
<circle cx="269.90" cy="402.46" r="1.9" fill="#1f3b85"/>
<circle cx="217.40" cy="388.60" r="1.9" fill="#1f3b85"/>
<circle cx="269.90" cy="393.80" r="1.9" fill="#1f3b85"/>
<circle cx="217.40" cy="385.13" r="1.9" fill="#1f3b85"/>
<circle cx="269.90" cy="407.66" r="1.9" fill="#1f3b85"/>
<circle cx="217.40" cy="395.53" r="1.9" fill="#1f3b85"/>
<circle cx="269.90" cy="399.00" r="1.9" fill="#1f3b85"/>
<circle cx="217.40" cy="395.53" r="1.9" fill="#1f3b85"/>
<circle cx="269.90" cy="405.93" r="1.9" fill="#1f3b85"/>
<circle cx="217.40" cy="395.53" r="1.9" fill="#1f3b85"/>
<circle cx="269.90" cy="408.70" r="1.9" fill="#1f3b85"/>
<circle cx="217.40" cy="395.53" r="1.9" fill="#1f3b85"/>
<circle cx="269.90" cy="412.17" r="1.9" fill="#1f3b85"/>
<circle cx="217.40" cy="395.53" r="1.9" fill="#1f3b85"/>
<circle cx="269.90" cy="414.60" r="1.9" fill="#1f3b85"/>
<circle cx="217.40" cy="395.53" r="1.9" fill="#1f3b85"/>
<circle cx="269.90" cy="411.13" r="1.9" fill="#1f3b85"/>
<circle cx="217.40" cy="395.53" r="1.9" fill="#1f3b85"/>
<circle cx="269.90" cy="413.56" r="1.9" fill="#1f3b85"/>
<circle cx="217.40" cy="395.53" r="1.9" fill="#1f3b85"/>
<circle cx="269.90" cy="407.32" r="1.9" fill="#1f3b85"/>
<circle cx="217.40" cy="395.53" r="1.9" fill="#1f3b85"/>
<circle cx="269.90" cy="403.16" r="1.9" fill="#1f3b85"/>
<circle cx="217.40" cy="395.53" r="1.9" fill="#1f3b85"/>
<circle cx="269.90" cy="400.73" r="1.9" fill="#1f3b85"/>
<circle cx="217.40" cy="395.53" r="1.9" fill="#1f3b85"/>
<circle cx="269.90" cy="409.40" r="1.9" fill="#1f3b85"/>
<circle cx="217.40" cy="375.77" r="1.9" fill="#b70a32"/>
<circle cx="269.90" cy="412.87" r="1.9" fill="#b70a32"/>
<circle cx="217.40" cy="378.19" r="1.9" fill="#b70a32"/>
<circle cx="269.90" cy="382.36" r="1.9" fill="#b70a32"/>
<circle cx="217.40" cy="386.86" r="1.9" fill="#b70a32"/>
<circle cx="269.90" cy="418.07" r="1.9" fill="#b70a32"/>
<circle cx="217.40" cy="381.66" r="1.9" fill="#b70a32"/>
<circle cx="269.90" cy="414.60" r="1.9" fill="#b70a32"/>
<circle cx="217.40" cy="395.53" r="1.9" fill="#b70a32"/>
<circle cx="269.90" cy="404.20" r="1.9" fill="#b70a32"/>
<circle cx="217.40" cy="395.53" r="1.9" fill="#b70a32"/>
<circle cx="269.90" cy="410.09" r="1.9" fill="#b70a32"/>
<circle cx="217.40" cy="395.53" r="1.9" fill="#b70a32"/>
<circle cx="269.90" cy="415.64" r="1.9" fill="#b70a32"/>
<circle cx="217.40" cy="340.06" r="1.9" fill="#62aa35"/>
<circle cx="269.90" cy="353.23" r="1.9" fill="#62aa35"/>
<circle cx="217.40" cy="355.66" r="1.9" fill="#62aa35"/>
<circle cx="269.90" cy="379.93" r="1.9" fill="#62aa35"/>
<circle cx="217.40" cy="395.53" r="1.9" fill="#62aa35"/>
<circle cx="269.90" cy="374.03" r="1.9" fill="#62aa35"/>
<circle cx="217.40" cy="395.53" r="1.9" fill="#62aa35"/>
<circle cx="269.90" cy="401.08" r="1.9" fill="#62aa35"/>
<line x1="336.30" y1="322.77" x2="336.30" y2="429.70" stroke="#333" stroke-width="1.1"/>
<line x1="335.80" y1="429.70" x2="440.00" y2="429.70" stroke="#333" stroke-width="1.1"/>
<line x1="333.20" y1="429.70" x2="336.30" y2="429.70" stroke="#333" stroke-width="0.9"/>
<text x="330.40" y="432.40" font-size="7.6" text-anchor="end" fill="#333" textLength="4.6" lengthAdjust="spacingAndGlyphs" >0</text>
<line x1="333.20" y1="408.91" x2="336.30" y2="408.91" stroke="#333" stroke-width="0.9"/>
<text x="330.40" y="411.61" font-size="7.6" text-anchor="end" fill="#333" textLength="9.2" lengthAdjust="spacingAndGlyphs" >50</text>
<line x1="333.20" y1="388.13" x2="336.30" y2="388.13" stroke="#333" stroke-width="0.9"/>
<text x="330.40" y="390.83" font-size="7.6" text-anchor="end" fill="#333" textLength="13.799999999999999" lengthAdjust="spacingAndGlyphs" >100</text>
<line x1="333.20" y1="367.34" x2="336.30" y2="367.34" stroke="#333" stroke-width="0.9"/>
<text x="330.40" y="370.04" font-size="7.6" text-anchor="end" fill="#333" textLength="13.799999999999999" lengthAdjust="spacingAndGlyphs" >150</text>
<line x1="333.20" y1="346.56" x2="336.30" y2="346.56" stroke="#333" stroke-width="0.9"/>
<text x="330.40" y="349.26" font-size="7.6" text-anchor="end" fill="#333" textLength="13.799999999999999" lengthAdjust="spacingAndGlyphs" >200</text>
<line x1="333.20" y1="325.77" x2="336.30" y2="325.77" stroke="#333" stroke-width="0.9"/>
<text x="330.40" y="328.47" font-size="7.6" text-anchor="end" fill="#333" textLength="13.799999999999999" lengthAdjust="spacingAndGlyphs" >250</text>
<line x1="362.40" y1="429.70" x2="362.40" y2="432.30" stroke="#333" stroke-width="0.9"/>
<line x1="413.90" y1="429.70" x2="413.90" y2="432.30" stroke="#333" stroke-width="0.9"/>
<text x="362.40" y="442.70" font-size="8.5" text-anchor="middle" fill="#333" textLength="30.4" lengthAdjust="spacingAndGlyphs" >Baseline</text>
<text x="413.90" y="442.70" font-size="8.5" text-anchor="middle" fill="#333" textLength="31.0" lengthAdjust="spacingAndGlyphs" >Ibrutinib</text>
<text x="0" y="0" font-size="10.8" fill="#333" text-anchor="middle" transform="translate(311.90 377.6) rotate(-90)" textLength="27.2" lengthAdjust="spacingAndGlyphs">% BCL-2</text>
<line x1="361.90" y1="324.00" x2="415.30" y2="324.00" stroke="#5a5a5a" stroke-width="1.2"/>
<text x="388.35" y="320.00" font-size="7.5" text-anchor="middle" fill="#333" textLength="28.0" lengthAdjust="spacingAndGlyphs" >p&lt;0.001</text>
<line x1="362.40" y1="387.92" x2="413.90" y2="396.86" stroke="#62aa35" stroke-width="1.35" stroke-dasharray="2.8 2"/>
<line x1="362.40" y1="385.64" x2="413.90" y2="361.11" stroke="#1f3b85" stroke-width="1.35" stroke-dasharray="2.8 2"/>
<line x1="362.40" y1="386.47" x2="413.90" y2="370.67" stroke="#62aa35" stroke-width="1.35" stroke-dasharray="2.8 2"/>
<line x1="362.40" y1="388.13" x2="413.90" y2="385.22" stroke="#b70a32" stroke-width="1.35" stroke-dasharray="2.8 2"/>
<line x1="362.40" y1="388.13" x2="413.90" y2="408.91" stroke="#b70a32" stroke-width="1.35" stroke-dasharray="2.8 2"/>
<line x1="362.40" y1="388.13" x2="413.90" y2="406.84" stroke="#1f3b85" stroke-width="1.35" stroke-dasharray="2.8 2"/>
<line x1="362.40" y1="388.96" x2="413.90" y2="410.99" stroke="#b70a32" stroke-width="1.35" stroke-dasharray="2.8 2"/>
<line x1="362.40" y1="386.47" x2="413.90" y2="404.76" stroke="#1f3b85" stroke-width="1.35" stroke-dasharray="2.8 2"/>
<line x1="362.40" y1="388.13" x2="413.90" y2="384.80" stroke="#62aa35" stroke-width="1.35" stroke-dasharray="2.8 2"/>
<line x1="362.40" y1="334.30" x2="413.90" y2="365.27" stroke="#62aa35" stroke-width="1.05"/>
<line x1="362.40" y1="366.51" x2="413.90" y2="343.23" stroke="#62aa35" stroke-width="1.05"/>
<line x1="362.40" y1="362.36" x2="413.90" y2="386.88" stroke="#1f3b85" stroke-width="1.05"/>
<line x1="362.40" y1="364.02" x2="413.90" y2="408.08" stroke="#b70a32" stroke-width="1.05"/>
<line x1="362.40" y1="364.85" x2="413.90" y2="403.93" stroke="#b70a32" stroke-width="1.05"/>
<line x1="362.40" y1="366.72" x2="413.90" y2="383.97" stroke="#62aa35" stroke-width="1.05"/>
<line x1="362.40" y1="372.92" x2="413.90" y2="360.28" stroke="#1f3b85" stroke-width="1.05"/>
<line x1="362.40" y1="374.50" x2="413.90" y2="371.09" stroke="#b70a32" stroke-width="1.05"/>
<line x1="362.40" y1="382.81" x2="413.90" y2="392.49" stroke="#1f3b85" stroke-width="1.05"/>
<line x1="362.40" y1="384.80" x2="413.90" y2="400.60" stroke="#1f3b85" stroke-width="1.05"/>
<circle cx="362.40" cy="362.36" r="1.9" fill="#1f3b85"/>
<circle cx="413.90" cy="386.88" r="1.9" fill="#1f3b85"/>
<circle cx="362.40" cy="372.92" r="1.9" fill="#1f3b85"/>
<circle cx="413.90" cy="360.28" r="1.9" fill="#1f3b85"/>
<circle cx="362.40" cy="382.81" r="1.9" fill="#1f3b85"/>
<circle cx="413.90" cy="392.49" r="1.9" fill="#1f3b85"/>
<circle cx="362.40" cy="384.80" r="1.9" fill="#1f3b85"/>
<circle cx="413.90" cy="400.60" r="1.9" fill="#1f3b85"/>
<circle cx="362.40" cy="385.64" r="1.9" fill="#1f3b85"/>
<circle cx="413.90" cy="361.11" r="1.9" fill="#1f3b85"/>
<circle cx="362.40" cy="388.13" r="1.9" fill="#1f3b85"/>
<circle cx="413.90" cy="406.84" r="1.9" fill="#1f3b85"/>
<circle cx="362.40" cy="386.47" r="1.9" fill="#1f3b85"/>
<circle cx="413.90" cy="404.76" r="1.9" fill="#1f3b85"/>
<circle cx="362.40" cy="364.02" r="1.9" fill="#b70a32"/>
<circle cx="413.90" cy="408.08" r="1.9" fill="#b70a32"/>
<circle cx="362.40" cy="364.85" r="1.9" fill="#b70a32"/>
<circle cx="413.90" cy="403.93" r="1.9" fill="#b70a32"/>
<circle cx="362.40" cy="374.50" r="1.9" fill="#b70a32"/>
<circle cx="413.90" cy="371.09" r="1.9" fill="#b70a32"/>
<circle cx="362.40" cy="388.13" r="1.9" fill="#b70a32"/>
<circle cx="413.90" cy="385.22" r="1.9" fill="#b70a32"/>
<circle cx="362.40" cy="388.13" r="1.9" fill="#b70a32"/>
<circle cx="413.90" cy="408.91" r="1.9" fill="#b70a32"/>
<circle cx="362.40" cy="388.96" r="1.9" fill="#b70a32"/>
<circle cx="413.90" cy="410.99" r="1.9" fill="#b70a32"/>
<circle cx="362.40" cy="334.30" r="1.9" fill="#62aa35"/>
<circle cx="413.90" cy="365.27" r="1.9" fill="#62aa35"/>
<circle cx="362.40" cy="366.51" r="1.9" fill="#62aa35"/>
<circle cx="413.90" cy="343.23" r="1.9" fill="#62aa35"/>
<circle cx="362.40" cy="366.72" r="1.9" fill="#62aa35"/>
<circle cx="413.90" cy="383.97" r="1.9" fill="#62aa35"/>
<circle cx="362.40" cy="387.92" r="1.9" fill="#62aa35"/>
<circle cx="413.90" cy="396.86" r="1.9" fill="#62aa35"/>
<circle cx="362.40" cy="386.47" r="1.9" fill="#62aa35"/>
<circle cx="413.90" cy="370.67" r="1.9" fill="#62aa35"/>
<circle cx="362.40" cy="388.13" r="1.9" fill="#62aa35"/>
<circle cx="413.90" cy="384.80" r="1.9" fill="#62aa35"/>
<line x1="443.5" y1="364.4" x2="462.7" y2="364.4" stroke="#1f3b85" stroke-width="1"/>
<text x="466.20" y="367.30" font-size="8.0" text-anchor="start" fill="#333" textLength="27.6" lengthAdjust="spacingAndGlyphs" >um-CLL</text>
<line x1="443.5" y1="376.2" x2="462.7" y2="376.2" stroke="#b70a32" stroke-width="1"/>
<text x="466.20" y="379.10" font-size="8.0" text-anchor="start" fill="#333" textLength="23.3" lengthAdjust="spacingAndGlyphs" >m-CLL</text>
<line x1="443.5" y1="388.0" x2="462.7" y2="388.0" stroke="#62aa35" stroke-width="1"/>
<text x="466.20" y="390.90" font-size="8.0" text-anchor="start" fill="#333" textLength="11.5" lengthAdjust="spacingAndGlyphs" >ND</text>
<defs><filter id="bl" x="-30%" y="-150%" width="160%" height="400%"><feGaussianBlur stdDeviation="0.65"/></filter><filter id="bl2" x="-30%" y="-150%" width="160%" height="400%"><feGaussianBlur stdDeviation="1.2"/></filter><filter id="bl3" x="-30%" y="-150%" width="160%" height="400%"><feGaussianBlur stdDeviation="0.95"/></filter></defs>
<text x="7.40" y="470.90" font-size="12" text-anchor="start" fill="#111" font-weight="bold" textLength="8.6" lengthAdjust="spacingAndGlyphs" >C</text>
<text x="52.00" y="477.80" font-size="8.4" text-anchor="middle" fill="#333" textLength="9.4" lengthAdjust="spacingAndGlyphs" >#1</text>
<text x="108.50" y="477.80" font-size="8.4" text-anchor="middle" fill="#333" textLength="9.8" lengthAdjust="spacingAndGlyphs" >#2</text>
<line x1="20.5" y1="482.4" x2="82.6" y2="482.4" stroke="#333" stroke-width="0.9"/>
<line x1="88.7" y1="482.4" x2="127.9" y2="482.4" stroke="#333" stroke-width="0.9"/>
<text x="27.40" y="492.70" font-size="8.3" text-anchor="middle" fill="#333" textLength="5.6" lengthAdjust="spacingAndGlyphs" >B</text>
<text x="49.70" y="492.70" font-size="8.3" text-anchor="middle" fill="#333" textLength="9.4" lengthAdjust="spacingAndGlyphs" >d6</text>
<text x="73.00" y="492.70" font-size="8.3" text-anchor="middle" fill="#333" textLength="13.4" lengthAdjust="spacingAndGlyphs" >d17</text>
<text x="94.80" y="492.70" font-size="8.3" text-anchor="middle" fill="#333" textLength="5.6" lengthAdjust="spacingAndGlyphs" >B</text>
<text x="120.60" y="492.70" font-size="8.3" text-anchor="middle" fill="#333" textLength="13.4" lengthAdjust="spacingAndGlyphs" >d10</text>
<rect x="15.20" y="497.80" width="116.80" height="16.50" fill="#f3f3f3"/>
<path d="M17.40 505.60 C18.22 503.50 19.46 503.50 20.69 503.50 L32.81 503.50 C34.04 503.50 35.28 503.50 36.10 505.60 C35.28 507.70 34.04 507.70 32.81 507.70 L20.69 507.70 C19.46 507.70 18.22 507.70 17.40 505.60 Z" fill="#0a0a0a" opacity="1.00" filter="url(#bl)"/>
<path d="M42.00 505.80 C42.73 504.15 43.83 504.15 44.92 504.15 L55.68 504.15 C56.77 504.15 57.87 504.15 58.60 505.80 C57.87 507.45 56.77 507.45 55.68 507.45 L44.92 507.45 C43.83 507.45 42.73 507.45 42.00 505.80 Z" fill="#0a0a0a" opacity="0.85" filter="url(#bl)"/>
<path d="M65.00 505.90 C65.68 504.50 66.70 504.50 67.73 504.50 L77.77 504.50 C78.80 504.50 79.82 504.50 80.50 505.90 C79.82 507.30 78.80 507.30 77.77 507.30 L67.73 507.30 C66.70 507.30 65.68 507.30 65.00 505.90 Z" fill="#0a0a0a" opacity="0.70" filter="url(#bl)"/>
<path d="M87.10 506.30 C87.91 503.90 89.12 503.90 90.34 503.90 L102.26 503.90 C103.48 503.90 104.69 503.90 105.50 506.30 C104.69 508.70 103.48 508.70 102.26 508.70 L90.34 508.70 C89.12 508.70 87.91 508.70 87.10 506.30 Z" fill="#0a0a0a" opacity="1.00" filter="url(#bl)"/>
<path d="M110.50 506.20 C111.22 504.80 112.29 504.80 113.37 504.80 L123.93 504.80 C125.01 504.80 126.08 504.80 126.80 506.20 C126.08 507.60 125.01 507.60 123.93 507.60 L113.37 507.60 C112.29 507.60 111.22 507.60 110.50 506.20 Z" fill="#0a0a0a" opacity="0.55" filter="url(#bl)"/>
<rect x="15.20" y="497.80" width="116.80" height="16.50" fill="none" stroke="#2a2a2a" stroke-width="1.2"/>
<rect x="15.20" y="518.50" width="116.80" height="20.00" fill="#f4f4f4"/>
<path d="M16.90 528.40 C17.78 527.20 19.10 527.20 20.42 527.20 L33.38 527.20 C34.70 527.20 36.02 527.20 36.90 528.40 C36.02 529.60 34.70 529.60 33.38 529.60 L20.42 529.60 C19.10 529.60 17.78 529.60 16.90 528.40 Z" fill="#0a0a0a" opacity="0.30" filter="url(#bl)"/>
<path d="M41.50 528.60 C42.29 527.50 43.47 527.50 44.65 527.50 L56.25 527.50 C57.43 527.50 58.61 527.50 59.40 528.60 C58.61 529.70 57.43 529.70 56.25 529.70 L44.65 529.70 C43.47 529.70 42.29 529.70 41.50 528.60 Z" fill="#0a0a0a" opacity="0.22" filter="url(#bl)"/>
<path d="M64.50 528.80 C65.24 527.60 66.35 527.60 67.46 527.60 L78.34 527.60 C79.45 527.60 80.56 527.60 81.30 528.80 C80.56 530.00 79.45 530.00 78.34 530.00 L67.46 530.00 C66.35 530.00 65.24 530.00 64.50 528.80 Z" fill="#0a0a0a" opacity="0.30" filter="url(#bl)"/>
<path d="M86.60 528.60 C87.47 526.00 88.77 526.00 90.07 526.00 L102.83 526.00 C104.13 526.00 105.43 526.00 106.30 528.60 C105.43 531.20 104.13 531.20 102.83 531.20 L90.07 531.20 C88.77 531.20 87.47 531.20 86.60 528.60 Z" fill="#0a0a0a" opacity="1.00" filter="url(#bl)"/>
<path d="M110.00 528.60 C110.77 526.10 111.94 526.10 113.10 526.10 L124.50 526.10 C125.66 526.10 126.83 526.10 127.60 528.60 C126.83 531.10 125.66 531.10 124.50 531.10 L113.10 531.10 C111.94 531.10 110.77 531.10 110.00 528.60 Z" fill="#0a0a0a" opacity="1.00" filter="url(#bl)"/>
<path d="M86.00 524.50 C86.90 523.50 88.25 523.50 89.61 523.50 L102.89 523.50 C104.25 523.50 105.60 523.50 106.50 524.50 C105.60 525.50 104.25 525.50 102.89 525.50 L89.61 525.50 C88.25 525.50 86.90 525.50 86.00 524.50 Z" fill="#0a0a0a" opacity="0.12" filter="url(#bl2)"/>
<rect x="15.20" y="518.50" width="116.80" height="20.00" fill="none" stroke="#2a2a2a" stroke-width="1.2"/>
<rect x="15.20" y="542.50" width="116.80" height="13.10" fill="#f0f0f0"/>
<path d="M17.40 550.20 C18.22 548.40 19.46 548.40 20.69 548.40 L32.81 548.40 C34.04 548.40 35.28 548.40 36.10 550.20 C35.28 552.00 34.04 552.00 32.81 552.00 L20.69 552.00 C19.46 552.00 18.22 552.00 17.40 550.20 Z" fill="#0a0a0a" opacity="0.95" filter="url(#bl)"/>
<path d="M42.00 550.60 C42.73 549.10 43.83 549.10 44.92 549.10 L55.68 549.10 C56.77 549.10 57.87 549.10 58.60 550.60 C57.87 552.10 56.77 552.10 55.68 552.10 L44.92 552.10 C43.83 552.10 42.73 552.10 42.00 550.60 Z" fill="#0a0a0a" opacity="0.88" filter="url(#bl)"/>
<path d="M65.00 550.60 C65.68 548.90 66.70 548.90 67.73 548.90 L77.77 548.90 C78.80 548.90 79.82 548.90 80.50 550.60 C79.82 552.30 78.80 552.30 77.77 552.30 L67.73 552.30 C66.70 552.30 65.68 552.30 65.00 550.60 Z" fill="#0a0a0a" opacity="0.92" filter="url(#bl)"/>
<path d="M87.10 551.00 C87.91 549.80 89.12 549.80 90.34 549.80 L102.26 549.80 C103.48 549.80 104.69 549.80 105.50 551.00 C104.69 552.20 103.48 552.20 102.26 552.20 L90.34 552.20 C89.12 552.20 87.91 552.20 87.10 551.00 Z" fill="#0a0a0a" opacity="0.35" filter="url(#bl)"/>
<path d="M110.50 550.80 C111.22 549.50 112.29 549.50 113.37 549.50 L123.93 549.50 C125.01 549.50 126.08 549.50 126.80 550.80 C126.08 552.10 125.01 552.10 123.93 552.10 L113.37 552.10 C112.29 552.10 111.22 552.10 110.50 550.80 Z" fill="#0a0a0a" opacity="0.55" filter="url(#bl)"/>
<circle cx="30.00" cy="551.83" r="0.77" fill="#1a1a1a" opacity="0.64"/>
<circle cx="36.59" cy="543.63" r="0.51" fill="#1a1a1a" opacity="0.77"/>
<circle cx="30.58" cy="553.66" r="0.31" fill="#1a1a1a" opacity="0.48"/>
<circle cx="16.59" cy="545.79" r="0.40" fill="#1a1a1a" opacity="0.75"/>
<circle cx="33.15" cy="545.14" r="0.69" fill="#1a1a1a" opacity="0.28"/>
<circle cx="29.88" cy="544.76" r="0.25" fill="#1a1a1a" opacity="0.72"/>
<circle cx="20.91" cy="545.78" r="0.79" fill="#1a1a1a" opacity="0.72"/>
<circle cx="22.66" cy="554.36" r="0.55" fill="#1a1a1a" opacity="0.61"/>
<circle cx="20.81" cy="554.12" r="0.63" fill="#1a1a1a" opacity="0.78"/>
<circle cx="35.96" cy="546.74" r="0.45" fill="#1a1a1a" opacity="0.30"/>
<circle cx="19.51" cy="544.05" r="0.42" fill="#1a1a1a" opacity="0.56"/>
<circle cx="23.12" cy="552.71" r="0.51" fill="#1a1a1a" opacity="0.39"/>
<circle cx="37.75" cy="543.56" r="0.66" fill="#1a1a1a" opacity="0.71"/>
<circle cx="16.70" cy="552.36" r="0.45" fill="#1a1a1a" opacity="0.55"/>
<circle cx="16.50" cy="543.84" r="0.35" fill="#1a1a1a" opacity="0.77"/>
<circle cx="20.62" cy="551.99" r="0.77" fill="#1a1a1a" opacity="0.41"/>
<circle cx="24.11" cy="549.33" r="0.31" fill="#1a1a1a" opacity="0.65"/>
<circle cx="33.84" cy="553.19" r="0.27" fill="#1a1a1a" opacity="0.77"/>
<circle cx="18.31" cy="547.22" r="0.59" fill="#1a1a1a" opacity="0.75"/>
<circle cx="23.78" cy="553.93" r="0.55" fill="#1a1a1a" opacity="0.39"/>
<circle cx="23.27" cy="545.34" r="0.29" fill="#1a1a1a" opacity="0.29"/>
<circle cx="31.46" cy="554.76" r="0.34" fill="#1a1a1a" opacity="0.23"/>
<circle cx="21.52" cy="550.13" r="0.50" fill="#1a1a1a" opacity="0.45"/>
<circle cx="17.53" cy="553.83" r="0.27" fill="#1a1a1a" opacity="0.50"/>
<circle cx="34.75" cy="544.80" r="0.65" fill="#1a1a1a" opacity="0.77"/>
<circle cx="30.17" cy="552.36" r="0.31" fill="#1a1a1a" opacity="0.46"/>
<circle cx="19.58" cy="553.01" r="0.41" fill="#1a1a1a" opacity="0.47"/>
<circle cx="38.28" cy="553.10" r="0.79" fill="#1a1a1a" opacity="0.47"/>
<circle cx="22.70" cy="547.94" r="0.33" fill="#1a1a1a" opacity="0.43"/>
<circle cx="38.04" cy="554.34" r="0.59" fill="#1a1a1a" opacity="0.50"/>
<circle cx="23.75" cy="544.33" r="0.40" fill="#1a1a1a" opacity="0.67"/>
<circle cx="35.38" cy="547.46" r="0.68" fill="#1a1a1a" opacity="0.66"/>
<circle cx="31.58" cy="550.94" r="0.45" fill="#1a1a1a" opacity="0.62"/>
<circle cx="22.48" cy="548.89" r="0.63" fill="#1a1a1a" opacity="0.38"/>
<circle cx="31.08" cy="548.62" r="0.61" fill="#1a1a1a" opacity="0.68"/>
<circle cx="23.95" cy="550.71" r="0.71" fill="#1a1a1a" opacity="0.41"/>
<circle cx="34.84" cy="553.30" r="0.63" fill="#1a1a1a" opacity="0.79"/>
<circle cx="19.96" cy="552.92" r="0.77" fill="#1a1a1a" opacity="0.49"/>
<circle cx="31.51" cy="551.58" r="0.34" fill="#1a1a1a" opacity="0.67"/>
<circle cx="30.02" cy="552.21" r="0.60" fill="#1a1a1a" opacity="0.63"/>
<circle cx="16.91" cy="545.14" r="0.49" fill="#1a1a1a" opacity="0.59"/>
<circle cx="21.12" cy="551.19" r="0.27" fill="#1a1a1a" opacity="0.48"/>
<circle cx="21.28" cy="543.92" r="0.32" fill="#1a1a1a" opacity="0.39"/>
<circle cx="20.29" cy="545.52" r="0.27" fill="#1a1a1a" opacity="0.48"/>
<circle cx="21.53" cy="553.69" r="0.25" fill="#1a1a1a" opacity="0.44"/>
<circle cx="22.43" cy="548.02" r="0.31" fill="#1a1a1a" opacity="0.70"/>
<circle cx="24.53" cy="543.71" r="0.59" fill="#1a1a1a" opacity="0.26"/>
<circle cx="28.29" cy="547.20" r="0.57" fill="#1a1a1a" opacity="0.77"/>
<circle cx="34.31" cy="548.12" r="0.70" fill="#1a1a1a" opacity="0.59"/>
<circle cx="24.43" cy="544.93" r="0.58" fill="#1a1a1a" opacity="0.54"/>
<circle cx="37.36" cy="554.43" r="0.58" fill="#1a1a1a" opacity="0.41"/>
<circle cx="35.96" cy="543.31" r="0.31" fill="#1a1a1a" opacity="0.54"/>
<circle cx="29.83" cy="544.92" r="0.60" fill="#1a1a1a" opacity="0.73"/>
<circle cx="24.57" cy="548.26" r="0.37" fill="#1a1a1a" opacity="0.37"/>
<circle cx="37.69" cy="547.67" r="0.78" fill="#1a1a1a" opacity="0.75"/>
<circle cx="29.41" cy="546.29" r="0.79" fill="#1a1a1a" opacity="0.50"/>
<circle cx="25.44" cy="546.97" r="0.79" fill="#1a1a1a" opacity="0.50"/>
<circle cx="29.98" cy="548.40" r="0.41" fill="#1a1a1a" opacity="0.67"/>
<circle cx="34.49" cy="543.45" r="0.54" fill="#1a1a1a" opacity="0.36"/>
<circle cx="36.88" cy="552.29" r="0.39" fill="#1a1a1a" opacity="0.36"/>
<circle cx="19.70" cy="554.67" r="0.41" fill="#1a1a1a" opacity="0.56"/>
<circle cx="26.74" cy="550.72" r="0.66" fill="#1a1a1a" opacity="0.27"/>
<circle cx="33.03" cy="546.76" r="0.54" fill="#1a1a1a" opacity="0.40"/>
<circle cx="17.10" cy="546.20" r="0.50" fill="#1a1a1a" opacity="0.75"/>
<circle cx="33.42" cy="548.22" r="0.57" fill="#1a1a1a" opacity="0.62"/>
<circle cx="30.21" cy="548.84" r="0.46" fill="#1a1a1a" opacity="0.44"/>
<circle cx="35.04" cy="545.56" r="0.41" fill="#1a1a1a" opacity="0.70"/>
<circle cx="17.75" cy="552.92" r="0.63" fill="#1a1a1a" opacity="0.46"/>
<circle cx="22.60" cy="552.28" r="0.75" fill="#1a1a1a" opacity="0.29"/>
<circle cx="23.58" cy="545.07" r="0.57" fill="#1a1a1a" opacity="0.69"/>
<circle cx="17.81" cy="545.95" r="0.70" fill="#1a1a1a" opacity="0.68"/>
<circle cx="30.90" cy="543.59" r="0.65" fill="#1a1a1a" opacity="0.79"/>
<circle cx="34.83" cy="545.82" r="0.61" fill="#1a1a1a" opacity="0.77"/>
<circle cx="31.97" cy="544.85" r="0.41" fill="#1a1a1a" opacity="0.75"/>
<circle cx="18.68" cy="547.66" r="0.29" fill="#1a1a1a" opacity="0.23"/>
<circle cx="28.96" cy="551.84" r="0.32" fill="#1a1a1a" opacity="0.46"/>
<circle cx="36.95" cy="547.60" r="0.28" fill="#1a1a1a" opacity="0.62"/>
<circle cx="36.33" cy="549.68" r="0.39" fill="#1a1a1a" opacity="0.53"/>
<circle cx="19.24" cy="546.00" r="0.45" fill="#1a1a1a" opacity="0.64"/>
<circle cx="20.25" cy="551.50" r="0.30" fill="#1a1a1a" opacity="0.60"/>
<circle cx="18.31" cy="544.74" r="0.58" fill="#1a1a1a" opacity="0.34"/>
<circle cx="33.82" cy="543.64" r="0.65" fill="#1a1a1a" opacity="0.23"/>
<circle cx="19.62" cy="554.25" r="0.62" fill="#1a1a1a" opacity="0.33"/>
<circle cx="18.85" cy="554.49" r="0.62" fill="#1a1a1a" opacity="0.69"/>
<circle cx="21.47" cy="547.13" r="0.59" fill="#1a1a1a" opacity="0.41"/>
<circle cx="24.79" cy="544.87" r="0.71" fill="#1a1a1a" opacity="0.59"/>
<circle cx="34.00" cy="548.28" r="0.72" fill="#1a1a1a" opacity="0.51"/>
<path d="M96.8 542.9 L99.8 542.9 L98.3 545.2 Z" fill="#222"/>
<rect x="15.20" y="542.50" width="116.80" height="13.10" fill="none" stroke="#2a2a2a" stroke-width="1.2"/>
<rect x="15.20" y="560.40" width="116.80" height="15.10" fill="#f3f3f3"/>
<path d="M15.20 567.00 C16.16 564.30 17.60 564.30 19.04 564.30 L35.66 564.30 C37.10 564.30 38.54 564.30 39.50 567.00 C38.54 569.70 37.10 569.70 35.66 569.70 L19.04 569.70 C17.60 569.70 16.16 569.70 15.20 567.00 Z" fill="#0a0a0a" opacity="0.97" filter="url(#bl)"/>
<path d="M39.80 567.30 C40.76 564.60 42.20 564.60 43.64 564.60 L58.16 564.60 C59.60 564.60 61.04 564.60 62.00 567.30 C61.04 570.00 59.60 570.00 58.16 570.00 L43.64 570.00 C42.20 570.00 40.76 570.00 39.80 567.30 Z" fill="#0a0a0a" opacity="0.97" filter="url(#bl)"/>
<path d="M62.80 567.60 C63.73 565.10 65.12 565.10 66.51 565.10 L80.19 565.10 C81.58 565.10 82.97 565.10 83.90 567.60 C82.97 570.10 81.58 570.10 80.19 570.10 L66.51 570.10 C65.12 570.10 63.73 570.10 62.80 567.60 Z" fill="#0a0a0a" opacity="0.97" filter="url(#bl)"/>
<path d="M84.90 567.20 C85.86 564.10 87.30 564.10 88.74 564.10 L105.06 564.10 C106.50 564.10 107.94 564.10 108.90 567.20 C107.94 570.30 106.50 570.30 105.06 570.30 L88.74 570.30 C87.30 570.30 85.86 570.30 84.90 567.20 Z" fill="#0a0a0a" opacity="1.00" filter="url(#bl)"/>
<path d="M108.30 567.20 C109.26 564.60 110.70 564.60 112.14 564.60 L126.36 564.60 C127.80 564.60 129.24 564.60 130.20 567.20 C129.24 569.80 127.80 569.80 126.36 569.80 L112.14 569.80 C110.70 569.80 109.26 569.80 108.30 567.20 Z" fill="#0a0a0a" opacity="0.97" filter="url(#bl)"/>
<rect x="15.20" y="560.40" width="116.80" height="15.10" fill="none" stroke="#2a2a2a" stroke-width="1.2"/>
<text x="135.40" y="509.60" font-size="8.6" text-anchor="start" fill="#333" textLength="20.2" lengthAdjust="spacingAndGlyphs" >Mcl-1</text>
<text x="135.40" y="531.70" font-size="8.6" text-anchor="start" fill="#333" textLength="24.3" lengthAdjust="spacingAndGlyphs" >Bcl-XL</text>
<text x="135.40" y="552.20" font-size="8.6" text-anchor="start" fill="#333" textLength="19.0" lengthAdjust="spacingAndGlyphs" >Bcl-2</text>
<text x="135.40" y="570.60" font-size="8.6" text-anchor="start" fill="#333" textLength="19.6" lengthAdjust="spacingAndGlyphs" >Actin</text>
<text x="173.60" y="471.00" font-size="12" text-anchor="start" fill="#111" font-weight="bold" textLength="9.2" lengthAdjust="spacingAndGlyphs" >D</text>
<text x="208.00" y="489.70" font-size="8.4" text-anchor="middle" fill="#333" textLength="9.8" lengthAdjust="spacingAndGlyphs" >#3</text>
<line x1="188.0" y1="494.2" x2="229.5" y2="494.2" stroke="#333" stroke-width="0.9"/>
<text x="254.80" y="489.70" font-size="8.4" text-anchor="middle" fill="#333" textLength="9.8" lengthAdjust="spacingAndGlyphs" >#4</text>
<line x1="234.0" y1="494.2" x2="275.6" y2="494.2" stroke="#333" stroke-width="0.9"/>
<text x="299.80" y="489.70" font-size="8.4" text-anchor="middle" fill="#333" textLength="9.8" lengthAdjust="spacingAndGlyphs" >#5</text>
<line x1="280.0" y1="494.2" x2="320.6" y2="494.2" stroke="#333" stroke-width="0.9"/>
<text x="343.00" y="489.70" font-size="8.4" text-anchor="middle" fill="#333" textLength="9.8" lengthAdjust="spacingAndGlyphs" >#6</text>
<line x1="323.5" y1="494.2" x2="364.2" y2="494.2" stroke="#333" stroke-width="0.9"/>
<text x="388.50" y="489.70" font-size="8.4" text-anchor="middle" fill="#333" textLength="9.8" lengthAdjust="spacingAndGlyphs" >#7</text>
<line x1="367.7" y1="494.2" x2="408.5" y2="494.2" stroke="#333" stroke-width="0.9"/>
<text x="432.80" y="489.70" font-size="8.4" text-anchor="middle" fill="#333" textLength="9.8" lengthAdjust="spacingAndGlyphs" >#8</text>
<line x1="412.7" y1="494.2" x2="453.5" y2="494.2" stroke="#333" stroke-width="0.9"/>
<text x="197.00" y="504.60" font-size="8.3" text-anchor="middle" fill="#333" textLength="5.6" lengthAdjust="spacingAndGlyphs" >B</text>
<text x="242.00" y="504.60" font-size="8.3" text-anchor="middle" fill="#333" textLength="5.6" lengthAdjust="spacingAndGlyphs" >B</text>
<text x="287.00" y="504.60" font-size="8.3" text-anchor="middle" fill="#333" textLength="5.6" lengthAdjust="spacingAndGlyphs" >B</text>
<text x="328.50" y="504.60" font-size="8.3" text-anchor="middle" fill="#333" textLength="5.6" lengthAdjust="spacingAndGlyphs" >B</text>
<text x="374.00" y="504.60" font-size="8.3" text-anchor="middle" fill="#333" textLength="5.6" lengthAdjust="spacingAndGlyphs" >B</text>
<text x="419.00" y="504.60" font-size="8.3" text-anchor="middle" fill="#333" textLength="5.6" lengthAdjust="spacingAndGlyphs" >B</text>
<text x="219.50" y="504.60" font-size="8.3" text-anchor="middle" fill="#333" textLength="19.4" lengthAdjust="spacingAndGlyphs" >3 mo</text>
<text x="264.00" y="504.60" font-size="8.3" text-anchor="middle" fill="#333" textLength="19.4" lengthAdjust="spacingAndGlyphs" >3 mo</text>
<text x="306.70" y="504.60" font-size="8.3" text-anchor="middle" fill="#333" textLength="19.4" lengthAdjust="spacingAndGlyphs" >3 mo</text>
<text x="352.00" y="504.60" font-size="8.3" text-anchor="middle" fill="#333" textLength="19.4" lengthAdjust="spacingAndGlyphs" >3 mo</text>
<text x="396.00" y="504.60" font-size="8.3" text-anchor="middle" fill="#333" textLength="19.4" lengthAdjust="spacingAndGlyphs" >3 mo</text>
<text x="442.00" y="504.60" font-size="8.3" text-anchor="middle" fill="#333" textLength="19.4" lengthAdjust="spacingAndGlyphs" >3 mo</text>
<rect x="183.00" y="509.80" width="275.50" height="14.00" fill="#f3f3f3"/>
<path d="M185.80 517.50 C186.64 516.10 187.91 516.10 189.18 516.10 L201.62 516.10 C202.89 516.10 204.16 516.10 205.00 517.50 C204.16 518.90 202.89 518.90 201.62 518.90 L189.18 518.90 C187.91 518.90 186.64 518.90 185.80 517.50 Z" fill="#0a0a0a" opacity="0.14" filter="url(#bl)"/>
<path d="M211.70 517.60 C212.42 516.20 213.49 516.20 214.57 516.20 L225.13 516.20 C226.21 516.20 227.28 516.20 228.00 517.60 C227.28 519.00 226.21 519.00 225.13 519.00 L214.57 519.00 C213.49 519.00 212.42 519.00 211.70 517.60 Z" fill="#0a0a0a" opacity="0.50" filter="url(#bl)"/>
<path d="M234.80 517.60 C235.48 515.90 236.49 515.90 237.51 515.90 L247.49 515.90 C248.51 515.90 249.52 515.90 250.20 517.60 C249.52 519.30 248.51 519.30 247.49 519.30 L237.51 519.30 C236.49 519.30 235.48 519.30 234.80 517.60 Z" fill="#0a0a0a" opacity="0.92" filter="url(#bl)"/>
<path d="M257.00 517.80 C257.72 515.85 258.79 515.85 259.87 515.85 L270.43 515.85 C271.51 515.85 272.58 515.85 273.30 517.80 C272.58 519.75 271.51 519.75 270.43 519.75 L259.87 519.75 C258.79 519.75 257.72 519.75 257.00 517.80 Z" fill="#0a0a0a" opacity="0.97" filter="url(#bl)"/>
<path d="M278.70 518.50 C279.42 516.00 280.49 516.00 281.57 516.00 L292.13 516.00 C293.21 516.00 294.28 516.00 295.00 518.50 C294.28 521.00 293.21 521.00 292.13 521.00 L281.57 521.00 C280.49 521.00 279.42 521.00 278.70 518.50 Z" fill="#0a0a0a" opacity="1.00" filter="url(#bl)"/>
<path d="M300.80 518.60 C301.51 516.10 302.58 516.10 303.65 516.10 L314.15 516.10 C315.22 516.10 316.29 516.10 317.00 518.60 C316.29 521.10 315.22 521.10 314.15 521.10 L303.65 521.10 C302.58 521.10 301.51 521.10 300.80 518.60 Z" fill="#0a0a0a" opacity="1.00" filter="url(#bl)"/>
<path d="M322.30 518.30 C323.00 516.40 324.06 516.40 325.12 516.40 L335.48 516.40 C336.54 516.40 337.60 516.40 338.30 518.30 C337.60 520.20 336.54 520.20 335.48 520.20 L325.12 520.20 C324.06 520.20 323.00 520.20 322.30 518.30 Z" fill="#0a0a0a" opacity="0.92" filter="url(#bl)"/>
<path d="M345.00 518.40 C345.68 517.00 346.69 517.00 347.71 517.00 L357.69 517.00 C358.71 517.00 359.72 517.00 360.40 518.40 C359.72 519.80 358.71 519.80 357.69 519.80 L347.71 519.80 C346.69 519.80 345.68 519.80 345.00 518.40 Z" fill="#0a0a0a" opacity="0.82" filter="url(#bl)"/>
<path d="M367.30 518.80 C367.99 516.50 369.03 516.50 370.06 516.50 L380.24 516.50 C381.27 516.50 382.31 516.50 383.00 518.80 C382.31 521.10 381.27 521.10 380.24 521.10 L370.06 521.10 C369.03 521.10 367.99 521.10 367.30 518.80 Z" fill="#0a0a0a" opacity="1.00" filter="url(#bl)"/>
<path d="M388.80 518.00 C389.50 516.30 390.54 516.30 391.58 516.30 L401.82 516.30 C402.86 516.30 403.90 516.30 404.60 518.00 C403.90 519.70 402.86 519.70 401.82 519.70 L391.58 519.70 C390.54 519.70 389.50 519.70 388.80 518.00 Z" fill="#0a0a0a" opacity="0.88" filter="url(#bl)"/>
<path d="M411.00 517.50 C411.76 515.60 412.90 515.60 414.04 515.60 L425.26 515.60 C426.40 515.60 427.54 515.60 428.30 517.50 C427.54 519.40 426.40 519.40 425.26 519.40 L414.04 519.40 C412.90 519.40 411.76 519.40 411.00 517.50 Z" fill="#0a0a0a" opacity="0.95" filter="url(#bl)"/>
<path d="M434.00 516.30 C434.76 514.60 435.90 514.60 437.04 514.60 L448.26 514.60 C449.40 514.60 450.54 514.60 451.30 516.30 C450.54 518.00 449.40 518.00 448.26 518.00 L437.04 518.00 C435.90 518.00 434.76 518.00 434.00 516.30 Z" fill="#0a0a0a" opacity="0.92" filter="url(#bl)"/>
<rect x="183.00" y="509.80" width="275.50" height="14.00" fill="none" stroke="#2a2a2a" stroke-width="1.2"/>
<rect x="183.00" y="526.60" width="275.50" height="16.40" fill="#efefef"/>
<path d="M185.80 535.30 C186.67 532.05 187.97 532.05 189.27 532.05 L202.03 532.05 C203.33 532.05 204.63 532.05 205.50 535.30 C204.63 538.55 203.33 538.55 202.03 538.55 L189.27 538.55 C187.97 538.55 186.67 538.55 185.80 535.30 Z" fill="#0a0a0a" opacity="0.22" filter="url(#bl2)"/>
<path d="M185.30 533.10 C186.21 531.80 187.58 531.80 188.94 531.80 L202.36 531.80 C203.72 531.80 205.09 531.80 206.00 533.10 C205.09 534.40 203.72 534.40 202.36 534.40 L188.94 534.40 C187.58 534.40 186.21 534.40 185.30 533.10 Z" fill="#0a0a0a" opacity="0.55" filter="url(#bl)"/>
<path d="M185.30 537.70 C186.21 536.40 187.58 536.40 188.94 536.40 L202.36 536.40 C203.72 536.40 205.09 536.40 206.00 537.70 C205.09 539.00 203.72 539.00 202.36 539.00 L188.94 539.00 C187.58 539.00 186.21 539.00 185.30 537.70 Z" fill="#0a0a0a" opacity="0.60" filter="url(#bl)"/>
<path d="M211.70 535.30 C212.44 532.05 213.55 532.05 214.66 532.05 L225.54 532.05 C226.65 532.05 227.76 532.05 228.50 535.30 C227.76 538.55 226.65 538.55 225.54 538.55 L214.66 538.55 C213.55 538.55 212.44 538.55 211.70 535.30 Z" fill="#0a0a0a" opacity="0.22" filter="url(#bl2)"/>
<path d="M211.20 533.10 C211.98 531.80 213.16 531.80 214.33 531.80 L225.87 531.80 C227.04 531.80 228.22 531.80 229.00 533.10 C228.22 534.40 227.04 534.40 225.87 534.40 L214.33 534.40 C213.16 534.40 211.98 534.40 211.20 533.10 Z" fill="#0a0a0a" opacity="0.45" filter="url(#bl)"/>
<path d="M211.20 537.70 C211.98 536.40 213.16 536.40 214.33 536.40 L225.87 536.40 C227.04 536.40 228.22 536.40 229.00 537.70 C228.22 539.00 227.04 539.00 225.87 539.00 L214.33 539.00 C213.16 539.00 211.98 539.00 211.20 537.70 Z" fill="#0a0a0a" opacity="0.55" filter="url(#bl)"/>
<path d="M234.80 535.30 C235.50 532.05 236.55 532.05 237.60 532.05 L247.90 532.05 C248.95 532.05 250.00 532.05 250.70 535.30 C250.00 538.55 248.95 538.55 247.90 538.55 L237.60 538.55 C236.55 538.55 235.50 538.55 234.80 535.30 Z" fill="#0a0a0a" opacity="0.22" filter="url(#bl2)"/>
<path d="M234.30 533.10 C235.04 531.80 236.16 531.80 237.27 531.80 L248.23 531.80 C249.34 531.80 250.46 531.80 251.20 533.10 C250.46 534.40 249.34 534.40 248.23 534.40 L237.27 534.40 C236.16 534.40 235.04 534.40 234.30 533.10 Z" fill="#0a0a0a" opacity="0.75" filter="url(#bl)"/>
<path d="M234.30 537.70 C235.04 536.40 236.16 536.40 237.27 536.40 L248.23 536.40 C249.34 536.40 250.46 536.40 251.20 537.70 C250.46 539.00 249.34 539.00 248.23 539.00 L237.27 539.00 C236.16 539.00 235.04 539.00 234.30 537.70 Z" fill="#0a0a0a" opacity="0.85" filter="url(#bl)"/>
<path d="M257.00 535.30 C257.74 532.05 258.85 532.05 259.96 532.05 L270.84 532.05 C271.95 532.05 273.06 532.05 273.80 535.30 C273.06 538.55 271.95 538.55 270.84 538.55 L259.96 538.55 C258.85 538.55 257.74 538.55 257.00 535.30 Z" fill="#0a0a0a" opacity="0.22" filter="url(#bl2)"/>
<path d="M256.50 533.10 C257.28 531.80 258.46 531.80 259.63 531.80 L271.17 531.80 C272.34 531.80 273.52 531.80 274.30 533.10 C273.52 534.40 272.34 534.40 271.17 534.40 L259.63 534.40 C258.46 534.40 257.28 534.40 256.50 533.10 Z" fill="#0a0a0a" opacity="0.70" filter="url(#bl)"/>
<path d="M256.50 537.70 C257.28 536.40 258.46 536.40 259.63 536.40 L271.17 536.40 C272.34 536.40 273.52 536.40 274.30 537.70 C273.52 539.00 272.34 539.00 271.17 539.00 L259.63 539.00 C258.46 539.00 257.28 539.00 256.50 537.70 Z" fill="#0a0a0a" opacity="0.85" filter="url(#bl)"/>
<path d="M278.70 535.30 C279.44 532.05 280.55 532.05 281.66 532.05 L292.54 532.05 C293.65 532.05 294.76 532.05 295.50 535.30 C294.76 538.55 293.65 538.55 292.54 538.55 L281.66 538.55 C280.55 538.55 279.44 538.55 278.70 535.30 Z" fill="#0a0a0a" opacity="0.22" filter="url(#bl2)"/>
<path d="M278.20 533.10 C278.98 531.80 280.16 531.80 281.33 531.80 L292.87 531.80 C294.04 531.80 295.22 531.80 296.00 533.10 C295.22 534.40 294.04 534.40 292.87 534.40 L281.33 534.40 C280.16 534.40 278.98 534.40 278.20 533.10 Z" fill="#0a0a0a" opacity="0.85" filter="url(#bl)"/>
<path d="M278.20 537.70 C278.98 536.40 280.16 536.40 281.33 536.40 L292.87 536.40 C294.04 536.40 295.22 536.40 296.00 537.70 C295.22 539.00 294.04 539.00 292.87 539.00 L281.33 539.00 C280.16 539.00 278.98 539.00 278.20 537.70 Z" fill="#0a0a0a" opacity="0.90" filter="url(#bl)"/>
<path d="M300.80 535.30 C301.53 532.05 302.64 532.05 303.74 532.05 L314.56 532.05 C315.66 532.05 316.77 532.05 317.50 535.30 C316.77 538.55 315.66 538.55 314.56 538.55 L303.74 538.55 C302.64 538.55 301.53 538.55 300.80 535.30 Z" fill="#0a0a0a" opacity="0.22" filter="url(#bl2)"/>
<path d="M300.30 533.10 C301.08 531.80 302.25 531.80 303.42 531.80 L314.88 531.80 C316.05 531.80 317.22 531.80 318.00 533.10 C317.22 534.40 316.05 534.40 314.88 534.40 L303.42 534.40 C302.25 534.40 301.08 534.40 300.30 533.10 Z" fill="#0a0a0a" opacity="0.70" filter="url(#bl)"/>
<path d="M300.30 537.70 C301.08 536.40 302.25 536.40 303.42 536.40 L314.88 536.40 C316.05 536.40 317.22 536.40 318.00 537.70 C317.22 539.00 316.05 539.00 314.88 539.00 L303.42 539.00 C302.25 539.00 301.08 539.00 300.30 537.70 Z" fill="#0a0a0a" opacity="0.85" filter="url(#bl)"/>
<path d="M322.30 535.30 C323.03 532.05 324.12 532.05 325.20 532.05 L335.90 532.05 C336.99 532.05 338.07 532.05 338.80 535.30 C338.07 538.55 336.99 538.55 335.90 538.55 L325.20 538.55 C324.12 538.55 323.03 538.55 322.30 535.30 Z" fill="#0a0a0a" opacity="0.22" filter="url(#bl2)"/>
<path d="M321.80 533.10 C322.57 531.80 323.73 531.80 324.88 531.80 L336.22 531.80 C337.38 531.80 338.53 531.80 339.30 533.10 C338.53 534.40 337.38 534.40 336.22 534.40 L324.88 534.40 C323.73 534.40 322.57 534.40 321.80 533.10 Z" fill="#0a0a0a" opacity="0.80" filter="url(#bl)"/>
<path d="M321.80 537.70 C322.57 536.40 323.73 536.40 324.88 536.40 L336.22 536.40 C337.38 536.40 338.53 536.40 339.30 537.70 C338.53 539.00 337.38 539.00 336.22 539.00 L324.88 539.00 C323.73 539.00 322.57 539.00 321.80 537.70 Z" fill="#0a0a0a" opacity="0.85" filter="url(#bl)"/>
<path d="M345.00 535.30 C345.70 532.05 346.75 532.05 347.80 532.05 L358.10 532.05 C359.15 532.05 360.20 532.05 360.90 535.30 C360.20 538.55 359.15 538.55 358.10 538.55 L347.80 538.55 C346.75 538.55 345.70 538.55 345.00 535.30 Z" fill="#0a0a0a" opacity="0.22" filter="url(#bl2)"/>
<path d="M344.50 533.10 C345.24 531.80 346.36 531.80 347.47 531.80 L358.43 531.80 C359.54 531.80 360.66 531.80 361.40 533.10 C360.66 534.40 359.54 534.40 358.43 534.40 L347.47 534.40 C346.36 534.40 345.24 534.40 344.50 533.10 Z" fill="#0a0a0a" opacity="0.30" filter="url(#bl)"/>
<path d="M344.50 537.70 C345.24 536.40 346.36 536.40 347.47 536.40 L358.43 536.40 C359.54 536.40 360.66 536.40 361.40 537.70 C360.66 539.00 359.54 539.00 358.43 539.00 L347.47 539.00 C346.36 539.00 345.24 539.00 344.50 537.70 Z" fill="#0a0a0a" opacity="0.50" filter="url(#bl)"/>
<path d="M367.30 535.30 C368.01 532.05 369.08 532.05 370.15 532.05 L380.65 532.05 C381.72 532.05 382.79 532.05 383.50 535.30 C382.79 538.55 381.72 538.55 380.65 538.55 L370.15 538.55 C369.08 538.55 368.01 538.55 367.30 535.30 Z" fill="#0a0a0a" opacity="0.22" filter="url(#bl2)"/>
<path d="M366.80 533.10 C367.56 531.80 368.69 531.80 369.83 531.80 L380.97 531.80 C382.11 531.80 383.24 531.80 384.00 533.10 C383.24 534.40 382.11 534.40 380.97 534.40 L369.83 534.40 C368.69 534.40 367.56 534.40 366.80 533.10 Z" fill="#0a0a0a" opacity="1.00" filter="url(#bl)"/>
<path d="M366.80 537.70 C367.56 536.40 368.69 536.40 369.83 536.40 L380.97 536.40 C382.11 536.40 383.24 536.40 384.00 537.70 C383.24 539.00 382.11 539.00 380.97 539.00 L369.83 539.00 C368.69 539.00 367.56 539.00 366.80 537.70 Z" fill="#0a0a0a" opacity="1.00" filter="url(#bl)"/>
<path d="M388.80 535.30 C389.52 532.05 390.59 532.05 391.67 532.05 L402.23 532.05 C403.31 532.05 404.38 532.05 405.10 535.30 C404.38 538.55 403.31 538.55 402.23 538.55 L391.67 538.55 C390.59 538.55 389.52 538.55 388.80 535.30 Z" fill="#0a0a0a" opacity="0.22" filter="url(#bl2)"/>
<path d="M388.30 533.10 C389.06 531.80 390.20 531.80 391.34 531.80 L402.56 531.80 C403.70 531.80 404.84 531.80 405.60 533.10 C404.84 534.40 403.70 534.40 402.56 534.40 L391.34 534.40 C390.20 534.40 389.06 534.40 388.30 533.10 Z" fill="#0a0a0a" opacity="1.00" filter="url(#bl)"/>
<path d="M388.30 537.70 C389.06 536.40 390.20 536.40 391.34 536.40 L402.56 536.40 C403.70 536.40 404.84 536.40 405.60 537.70 C404.84 539.00 403.70 539.00 402.56 539.00 L391.34 539.00 C390.20 539.00 389.06 539.00 388.30 537.70 Z" fill="#0a0a0a" opacity="1.00" filter="url(#bl)"/>
<path d="M411.00 535.30 C411.78 532.05 412.96 532.05 414.13 532.05 L425.67 532.05 C426.84 532.05 428.02 532.05 428.80 535.30 C428.02 538.55 426.84 538.55 425.67 538.55 L414.13 538.55 C412.96 538.55 411.78 538.55 411.00 535.30 Z" fill="#0a0a0a" opacity="0.22" filter="url(#bl2)"/>
<path d="M410.50 533.10 C411.33 531.80 412.57 531.80 413.81 531.80 L425.99 531.80 C427.23 531.80 428.47 531.80 429.30 533.10 C428.47 534.40 427.23 534.40 425.99 534.40 L413.81 534.40 C412.57 534.40 411.33 534.40 410.50 533.10 Z" fill="#0a0a0a" opacity="0.35" filter="url(#bl)"/>
<path d="M410.50 537.70 C411.33 536.40 412.57 536.40 413.81 536.40 L425.99 536.40 C427.23 536.40 428.47 536.40 429.30 537.70 C428.47 539.00 427.23 539.00 425.99 539.00 L413.81 539.00 C412.57 539.00 411.33 539.00 410.50 537.70 Z" fill="#0a0a0a" opacity="0.45" filter="url(#bl)"/>
<path d="M434.00 535.30 C434.78 532.05 435.96 532.05 437.13 532.05 L448.67 532.05 C449.84 532.05 451.02 532.05 451.80 535.30 C451.02 538.55 449.84 538.55 448.67 538.55 L437.13 538.55 C435.96 538.55 434.78 538.55 434.00 535.30 Z" fill="#0a0a0a" opacity="0.22" filter="url(#bl2)"/>
<path d="M433.50 533.10 C434.33 531.80 435.57 531.80 436.81 531.80 L448.99 531.80 C450.23 531.80 451.47 531.80 452.30 533.10 C451.47 534.40 450.23 534.40 448.99 534.40 L436.81 534.40 C435.57 534.40 434.33 534.40 433.50 533.10 Z" fill="#0a0a0a" opacity="0.45" filter="url(#bl)"/>
<path d="M433.50 537.70 C434.33 536.40 435.57 536.40 436.81 536.40 L448.99 536.40 C450.23 536.40 451.47 536.40 452.30 537.70 C451.47 539.00 450.23 539.00 448.99 539.00 L436.81 539.00 C435.57 539.00 434.33 539.00 433.50 537.70 Z" fill="#0a0a0a" opacity="0.45" filter="url(#bl)"/>
<path d="M185.00 530.60 C185.96 528.80 187.40 528.80 188.84 528.80 L203.16 528.80 C204.60 528.80 206.04 528.80 207.00 530.60 C206.04 532.40 204.60 532.40 203.16 532.40 L188.84 532.40 C187.40 532.40 185.96 532.40 185.00 530.60 Z" fill="#0a0a0a" opacity="0.60" filter="url(#bl2)"/>
<path d="M185.00 532.00 C185.96 530.70 187.40 530.70 188.84 530.70 L203.16 530.70 C204.60 530.70 206.04 530.70 207.00 532.00 C206.04 533.30 204.60 533.30 203.16 533.30 L188.84 533.30 C187.40 533.30 185.96 533.30 185.00 532.00 Z" fill="#0a0a0a" opacity="0.50" filter="url(#bl)"/>
<path d="M366.50 535.00 C367.29 531.75 368.48 531.75 369.67 531.75 L381.33 531.75 C382.52 531.75 383.71 531.75 384.50 535.00 C383.71 538.25 382.52 538.25 381.33 538.25 L369.67 538.25 C368.48 538.25 367.29 538.25 366.50 535.00 Z" fill="#0a0a0a" opacity="1.00" filter="url(#bl)"/>
<path d="M367.50 537.50 C368.23 534.50 369.31 534.50 370.40 534.50 L381.10 534.50 C382.19 534.50 383.27 534.50 384.00 537.50 C383.27 540.50 382.19 540.50 381.10 540.50 L370.40 540.50 C369.31 540.50 368.23 540.50 367.50 537.50 Z" fill="#0a0a0a" opacity="1.00" filter="url(#bl)"/>
<path d="M386.50 534.80 C387.36 531.30 388.64 531.30 389.93 531.30 L402.57 531.30 C403.86 531.30 405.14 531.30 406.00 534.80 C405.14 538.30 403.86 538.30 402.57 538.30 L389.93 538.30 C388.64 538.30 387.36 538.30 386.50 534.80 Z" fill="#0a0a0a" opacity="1.00" filter="url(#bl)"/>
<path d="M388.00 538.00 C388.75 534.75 389.87 534.75 390.99 534.75 L402.01 534.75 C403.13 534.75 404.25 534.75 405.00 538.00 C404.25 541.25 403.13 541.25 402.01 541.25 L390.99 541.25 C389.87 541.25 388.75 541.25 388.00 538.00 Z" fill="#0a0a0a" opacity="1.00" filter="url(#bl)"/>
<path d="M392.00 530.50 C392.53 529.00 393.32 529.00 394.11 529.00 L401.89 529.00 C402.68 529.00 403.47 529.00 404.00 530.50 C403.47 532.00 402.68 532.00 401.89 532.00 L394.11 532.00 C393.32 532.00 392.53 532.00 392.00 530.50 Z" fill="#0a0a0a" opacity="0.35" filter="url(#bl2)"/>
<path d="M410.00 532.00 C410.88 531.00 412.20 531.00 413.52 531.00 L426.48 531.00 C427.80 531.00 429.12 531.00 430.00 532.00 C429.12 533.00 427.80 533.00 426.48 533.00 L413.52 533.00 C412.20 533.00 410.88 533.00 410.00 532.00 Z" fill="#0a0a0a" opacity="0.20" filter="url(#bl2)"/>
<path d="M434.00 531.50 C434.79 530.50 435.98 530.50 437.17 530.50 L448.83 530.50 C450.02 530.50 451.21 530.50 452.00 531.50 C451.21 532.50 450.02 532.50 448.83 532.50 L437.17 532.50 C435.98 532.50 434.79 532.50 434.00 531.50 Z" fill="#0a0a0a" opacity="0.25" filter="url(#bl2)"/>
<circle cx="436.08" cy="535.88" r="0.67" fill="#333" opacity="0.16"/>
<circle cx="414.27" cy="529.40" r="0.40" fill="#333" opacity="0.09"/>
<circle cx="449.13" cy="534.77" r="0.68" fill="#333" opacity="0.08"/>
<circle cx="430.69" cy="539.68" r="0.61" fill="#333" opacity="0.17"/>
<circle cx="430.49" cy="530.20" r="0.38" fill="#333" opacity="0.11"/>
<circle cx="426.48" cy="533.63" r="0.74" fill="#333" opacity="0.11"/>
<circle cx="421.18" cy="532.33" r="0.38" fill="#333" opacity="0.14"/>
<circle cx="420.35" cy="534.78" r="0.32" fill="#333" opacity="0.26"/>
<circle cx="426.23" cy="540.26" r="0.64" fill="#333" opacity="0.21"/>
<circle cx="430.76" cy="540.34" r="0.36" fill="#333" opacity="0.21"/>
<circle cx="422.81" cy="537.09" r="0.66" fill="#333" opacity="0.11"/>
<circle cx="418.84" cy="529.30" r="0.42" fill="#333" opacity="0.10"/>
<circle cx="427.65" cy="540.68" r="0.48" fill="#333" opacity="0.14"/>
<circle cx="430.59" cy="532.40" r="0.67" fill="#333" opacity="0.22"/>
<circle cx="417.19" cy="531.89" r="0.64" fill="#333" opacity="0.27"/>
<circle cx="438.42" cy="534.17" r="0.79" fill="#333" opacity="0.08"/>
<circle cx="412.68" cy="538.35" r="0.51" fill="#333" opacity="0.09"/>
<circle cx="434.13" cy="540.88" r="0.56" fill="#333" opacity="0.15"/>
<circle cx="414.13" cy="529.85" r="0.75" fill="#333" opacity="0.18"/>
<circle cx="451.17" cy="529.65" r="0.42" fill="#333" opacity="0.09"/>
<circle cx="427.48" cy="529.72" r="0.43" fill="#333" opacity="0.16"/>
<circle cx="423.46" cy="529.62" r="0.32" fill="#333" opacity="0.27"/>
<circle cx="417.89" cy="535.10" r="0.50" fill="#333" opacity="0.19"/>
<circle cx="413.71" cy="532.77" r="0.35" fill="#333" opacity="0.19"/>
<circle cx="450.54" cy="536.18" r="0.73" fill="#333" opacity="0.12"/>
<circle cx="410.77" cy="535.48" r="0.54" fill="#333" opacity="0.19"/>
<circle cx="426.57" cy="536.50" r="0.66" fill="#333" opacity="0.26"/>
<circle cx="423.53" cy="534.39" r="0.71" fill="#333" opacity="0.12"/>
<circle cx="415.09" cy="532.74" r="0.34" fill="#333" opacity="0.23"/>
<circle cx="446.06" cy="532.75" r="0.36" fill="#333" opacity="0.10"/>
<circle cx="420.77" cy="530.01" r="0.51" fill="#333" opacity="0.20"/>
<circle cx="420.80" cy="529.74" r="0.65" fill="#333" opacity="0.09"/>
<circle cx="418.79" cy="532.43" r="0.49" fill="#333" opacity="0.10"/>
<circle cx="428.51" cy="532.77" r="0.68" fill="#333" opacity="0.19"/>
<circle cx="449.43" cy="536.85" r="0.68" fill="#333" opacity="0.19"/>
<circle cx="429.46" cy="538.80" r="0.63" fill="#333" opacity="0.27"/>
<circle cx="442.03" cy="537.41" r="0.43" fill="#333" opacity="0.24"/>
<circle cx="426.83" cy="530.56" r="0.33" fill="#333" opacity="0.11"/>
<circle cx="421.55" cy="537.11" r="0.44" fill="#333" opacity="0.09"/>
<circle cx="443.61" cy="535.69" r="0.31" fill="#333" opacity="0.09"/>
<circle cx="415.73" cy="533.29" r="0.73" fill="#333" opacity="0.27"/>
<circle cx="436.93" cy="531.77" r="0.51" fill="#333" opacity="0.15"/>
<circle cx="424.54" cy="529.15" r="0.59" fill="#333" opacity="0.25"/>
<circle cx="441.98" cy="530.14" r="0.57" fill="#333" opacity="0.11"/>
<circle cx="441.22" cy="534.35" r="0.77" fill="#333" opacity="0.24"/>
<circle cx="415.20" cy="532.80" r="0.76" fill="#333" opacity="0.17"/>
<circle cx="429.10" cy="534.30" r="0.68" fill="#333" opacity="0.27"/>
<circle cx="433.43" cy="540.64" r="0.60" fill="#333" opacity="0.10"/>
<circle cx="445.83" cy="534.03" r="0.33" fill="#333" opacity="0.28"/>
<circle cx="411.45" cy="535.92" r="0.54" fill="#333" opacity="0.26"/>
<circle cx="427.28" cy="531.59" r="0.44" fill="#333" opacity="0.12"/>
<circle cx="434.75" cy="533.28" r="0.68" fill="#333" opacity="0.13"/>
<circle cx="425.48" cy="531.98" r="0.79" fill="#333" opacity="0.25"/>
<circle cx="447.39" cy="536.42" r="0.50" fill="#333" opacity="0.11"/>
<circle cx="446.59" cy="534.88" r="0.32" fill="#333" opacity="0.11"/>
<circle cx="414.34" cy="537.61" r="0.75" fill="#333" opacity="0.12"/>
<circle cx="445.07" cy="532.89" r="0.64" fill="#333" opacity="0.25"/>
<circle cx="437.42" cy="538.60" r="0.49" fill="#333" opacity="0.08"/>
<circle cx="432.52" cy="536.04" r="0.39" fill="#333" opacity="0.16"/>
<circle cx="423.96" cy="529.32" r="0.46" fill="#333" opacity="0.16"/>
<circle cx="430.95" cy="537.44" r="0.50" fill="#333" opacity="0.28"/>
<circle cx="445.88" cy="540.09" r="0.65" fill="#333" opacity="0.21"/>
<circle cx="433.62" cy="538.58" r="0.48" fill="#333" opacity="0.20"/>
<circle cx="439.90" cy="535.27" r="0.44" fill="#333" opacity="0.10"/>
<circle cx="413.84" cy="533.27" r="0.59" fill="#333" opacity="0.23"/>
<circle cx="441.44" cy="532.68" r="0.76" fill="#333" opacity="0.13"/>
<circle cx="441.51" cy="529.86" r="0.68" fill="#333" opacity="0.21"/>
<circle cx="452.10" cy="539.77" r="0.64" fill="#333" opacity="0.25"/>
<circle cx="442.50" cy="536.33" r="0.40" fill="#333" opacity="0.18"/>
<circle cx="449.43" cy="531.87" r="0.79" fill="#333" opacity="0.19"/>
<rect x="183.00" y="526.60" width="275.50" height="16.40" fill="none" stroke="#2a2a2a" stroke-width="1.2"/>
<rect x="183.00" y="546.40" width="275.50" height="13.40" fill="#f3f3f3"/>
<path d="M185.80 551.80 C186.64 550.70 187.91 550.70 189.18 550.70 L201.62 550.70 C202.89 550.70 204.16 550.70 205.00 551.80 C204.16 552.90 202.89 552.90 201.62 552.90 L189.18 552.90 C187.91 552.90 186.64 552.90 185.80 551.80 Z" fill="#0a0a0a" opacity="0.75" filter="url(#bl)"/>
<path d="M211.70 552.90 C212.42 551.90 213.49 551.90 214.57 551.90 L225.13 551.90 C226.21 551.90 227.28 551.90 228.00 552.90 C227.28 553.90 226.21 553.90 225.13 553.90 L214.57 553.90 C213.49 553.90 212.42 553.90 211.70 552.90 Z" fill="#0a0a0a" opacity="0.62" filter="url(#bl)"/>
<path d="M234.80 553.00 C235.48 551.60 236.49 551.60 237.51 551.60 L247.49 551.60 C248.51 551.60 249.52 551.60 250.20 553.00 C249.52 554.40 248.51 554.40 247.49 554.40 L237.51 554.40 C236.49 554.40 235.48 554.40 234.80 553.00 Z" fill="#0a0a0a" opacity="0.92" filter="url(#bl)"/>
<path d="M257.00 553.20 C257.72 551.90 258.79 551.90 259.87 551.90 L270.43 551.90 C271.51 551.90 272.58 551.90 273.30 553.20 C272.58 554.50 271.51 554.50 270.43 554.50 L259.87 554.50 C258.79 554.50 257.72 554.50 257.00 553.20 Z" fill="#0a0a0a" opacity="0.85" filter="url(#bl)"/>
<path d="M278.70 554.40 C279.42 553.00 280.49 553.00 281.57 553.00 L292.13 553.00 C293.21 553.00 294.28 553.00 295.00 554.40 C294.28 555.80 293.21 555.80 292.13 555.80 L281.57 555.80 C280.49 555.80 279.42 555.80 278.70 554.40 Z" fill="#0a0a0a" opacity="0.90" filter="url(#bl)"/>
<path d="M300.80 554.60 C301.51 553.20 302.58 553.20 303.65 553.20 L314.15 553.20 C315.22 553.20 316.29 553.20 317.00 554.60 C316.29 556.00 315.22 556.00 314.15 556.00 L303.65 556.00 C302.58 556.00 301.51 556.00 300.80 554.60 Z" fill="#0a0a0a" opacity="0.90" filter="url(#bl)"/>
<path d="M322.30 554.60 C323.00 553.30 324.06 553.30 325.12 553.30 L335.48 553.30 C336.54 553.30 337.60 553.30 338.30 554.60 C337.60 555.90 336.54 555.90 335.48 555.90 L325.12 555.90 C324.06 555.90 323.00 555.90 322.30 554.60 Z" fill="#0a0a0a" opacity="0.82" filter="url(#bl)"/>
<path d="M345.00 554.40 C345.68 552.90 346.69 552.90 347.71 552.90 L357.69 552.90 C358.71 552.90 359.72 552.90 360.40 554.40 C359.72 555.90 358.71 555.90 357.69 555.90 L347.71 555.90 C346.69 555.90 345.68 555.90 345.00 554.40 Z" fill="#0a0a0a" opacity="0.88" filter="url(#bl)"/>
<path d="M367.30 553.40 C367.99 552.30 369.03 552.30 370.06 552.30 L380.24 552.30 C381.27 552.30 382.31 552.30 383.00 553.40 C382.31 554.50 381.27 554.50 380.24 554.50 L370.06 554.50 C369.03 554.50 367.99 554.50 367.30 553.40 Z" fill="#0a0a0a" opacity="0.80" filter="url(#bl)"/>
<path d="M388.80 553.20 C389.50 551.50 390.54 551.50 391.58 551.50 L401.82 551.50 C402.86 551.50 403.90 551.50 404.60 553.20 C403.90 554.90 402.86 554.90 401.82 554.90 L391.58 554.90 C390.54 554.90 389.50 554.90 388.80 553.20 Z" fill="#0a0a0a" opacity="0.92" filter="url(#bl)"/>
<path d="M411.00 552.80 C411.76 551.50 412.90 551.50 414.04 551.50 L425.26 551.50 C426.40 551.50 427.54 551.50 428.30 552.80 C427.54 554.10 426.40 554.10 425.26 554.10 L414.04 554.10 C412.90 554.10 411.76 554.10 411.00 552.80 Z" fill="#0a0a0a" opacity="0.85" filter="url(#bl)"/>
<path d="M434.00 551.60 C434.76 550.10 435.90 550.10 437.04 550.10 L448.26 550.10 C449.40 550.10 450.54 550.10 451.30 551.60 C450.54 553.10 449.40 553.10 448.26 553.10 L437.04 553.10 C435.90 553.10 434.76 553.10 434.00 551.60 Z" fill="#0a0a0a" opacity="0.88" filter="url(#bl)"/>
<rect x="183.00" y="546.40" width="275.50" height="13.40" fill="none" stroke="#2a2a2a" stroke-width="1.2"/>
<rect x="183.00" y="562.60" width="275.50" height="12.80" fill="#f3f3f3"/>
<path d="M184.00 567.40 C184.96 565.80 186.40 565.80 187.84 565.80 L204.56 565.80 C206.00 565.80 207.44 565.80 208.40 567.40 C207.44 569.00 206.00 569.00 204.56 569.00 L187.84 569.00 C186.40 569.00 184.96 569.00 184.00 567.40 Z" fill="#0a0a0a" opacity="0.95" filter="url(#bl)"/>
<path d="M209.90 568.40 C210.85 566.30 212.26 566.30 213.68 566.30 L227.62 566.30 C229.03 566.30 230.45 566.30 231.40 568.40 C230.45 570.50 229.03 570.50 227.62 570.50 L213.68 570.50 C212.26 570.50 210.85 570.50 209.90 568.40 Z" fill="#0a0a0a" opacity="1.00" filter="url(#bl)"/>
<path d="M233.00 568.60 C233.91 566.35 235.27 566.35 236.63 566.35 L249.97 566.35 C251.33 566.35 252.69 566.35 253.60 568.60 C252.69 570.85 251.33 570.85 249.97 570.85 L236.63 570.85 C235.27 570.85 233.91 570.85 233.00 568.60 Z" fill="#0a0a0a" opacity="1.00" filter="url(#bl)"/>
<path d="M255.20 568.80 C256.15 566.50 257.56 566.50 258.98 566.50 L272.92 566.50 C274.33 566.50 275.75 566.50 276.70 568.80 C275.75 571.10 274.33 571.10 272.92 571.10 L258.98 571.10 C257.56 571.10 256.15 571.10 255.20 568.80 Z" fill="#0a0a0a" opacity="1.00" filter="url(#bl)"/>
<path d="M276.90 569.60 C277.85 567.35 279.26 567.35 280.68 567.35 L294.62 567.35 C296.03 567.35 297.45 567.35 298.40 569.60 C297.45 571.85 296.03 571.85 294.62 571.85 L280.68 571.85 C279.26 571.85 277.85 571.85 276.90 569.60 Z" fill="#0a0a0a" opacity="1.00" filter="url(#bl)"/>
<path d="M299.00 569.80 C299.94 567.60 301.35 567.60 302.77 567.60 L316.63 567.60 C318.05 567.60 319.46 567.60 320.40 569.80 C319.46 572.00 318.05 572.00 316.63 572.00 L302.77 572.00 C301.35 572.00 299.94 572.00 299.00 569.80 Z" fill="#0a0a0a" opacity="1.00" filter="url(#bl)"/>
<path d="M320.50 569.80 C321.43 567.60 322.83 567.60 324.23 567.60 L337.97 567.60 C339.37 567.60 340.77 567.60 341.70 569.80 C340.77 572.00 339.37 572.00 337.97 572.00 L324.23 572.00 C322.83 572.00 321.43 572.00 320.50 569.80 Z" fill="#0a0a0a" opacity="1.00" filter="url(#bl)"/>
<path d="M343.20 569.60 C344.11 567.60 345.47 567.60 346.83 567.60 L360.17 567.60 C361.53 567.60 362.89 567.60 363.80 569.60 C362.89 571.60 361.53 571.60 360.17 571.60 L346.83 571.60 C345.47 571.60 344.11 571.60 343.20 569.60 Z" fill="#0a0a0a" opacity="0.95" filter="url(#bl)"/>
<path d="M365.50 569.60 C366.42 567.35 367.80 567.35 369.18 567.35 L382.72 567.35 C384.10 567.35 385.48 567.35 386.40 569.60 C385.48 571.85 384.10 571.85 382.72 571.85 L369.18 571.85 C367.80 571.85 366.42 571.85 365.50 569.60 Z" fill="#0a0a0a" opacity="1.00" filter="url(#bl)"/>
<path d="M387.00 569.20 C387.92 567.10 389.31 567.10 390.70 567.10 L404.30 567.10 C405.69 567.10 407.08 567.10 408.00 569.20 C407.08 571.30 405.69 571.30 404.30 571.30 L390.70 571.30 C389.31 571.30 387.92 571.30 387.00 569.20 Z" fill="#0a0a0a" opacity="0.97" filter="url(#bl)"/>
<path d="M409.20 568.80 C410.16 566.90 411.60 566.90 413.04 566.90 L427.86 566.90 C429.30 566.90 430.74 566.90 431.70 568.80 C430.74 570.70 429.30 570.70 427.86 570.70 L413.04 570.70 C411.60 570.70 410.16 570.70 409.20 568.80 Z" fill="#0a0a0a" opacity="0.93" filter="url(#bl)"/>
<path d="M432.20 567.60 C433.16 565.70 434.60 565.70 436.04 565.70 L450.86 565.70 C452.30 565.70 453.74 565.70 454.70 567.60 C453.74 569.50 452.30 569.50 450.86 569.50 L436.04 569.50 C434.60 569.50 433.16 569.50 432.20 567.60 Z" fill="#0a0a0a" opacity="0.93" filter="url(#bl)"/>
<rect x="183.00" y="562.60" width="275.50" height="12.80" fill="none" stroke="#2a2a2a" stroke-width="1.2"/>
<text x="461.80" y="520.00" font-size="8.6" text-anchor="start" fill="#333" textLength="20.5" lengthAdjust="spacingAndGlyphs" >Mcl-1</text>
<text x="461.80" y="536.90" font-size="8.6" text-anchor="start" fill="#333" textLength="23.8" lengthAdjust="spacingAndGlyphs" >Bcl-XL</text>
<text x="461.80" y="556.40" font-size="8.6" text-anchor="start" fill="#333" textLength="18.6" lengthAdjust="spacingAndGlyphs" >Bcl-2</text>
<text x="461.80" y="571.20" font-size="8.6" text-anchor="start" fill="#333" textLength="20.2" lengthAdjust="spacingAndGlyphs" >Actin</text>
<rect x="0.5" y="0.5" width="518.8" height="581.8" fill="none" stroke="#111" stroke-width="1.1"/>
</svg>
</body></html>
